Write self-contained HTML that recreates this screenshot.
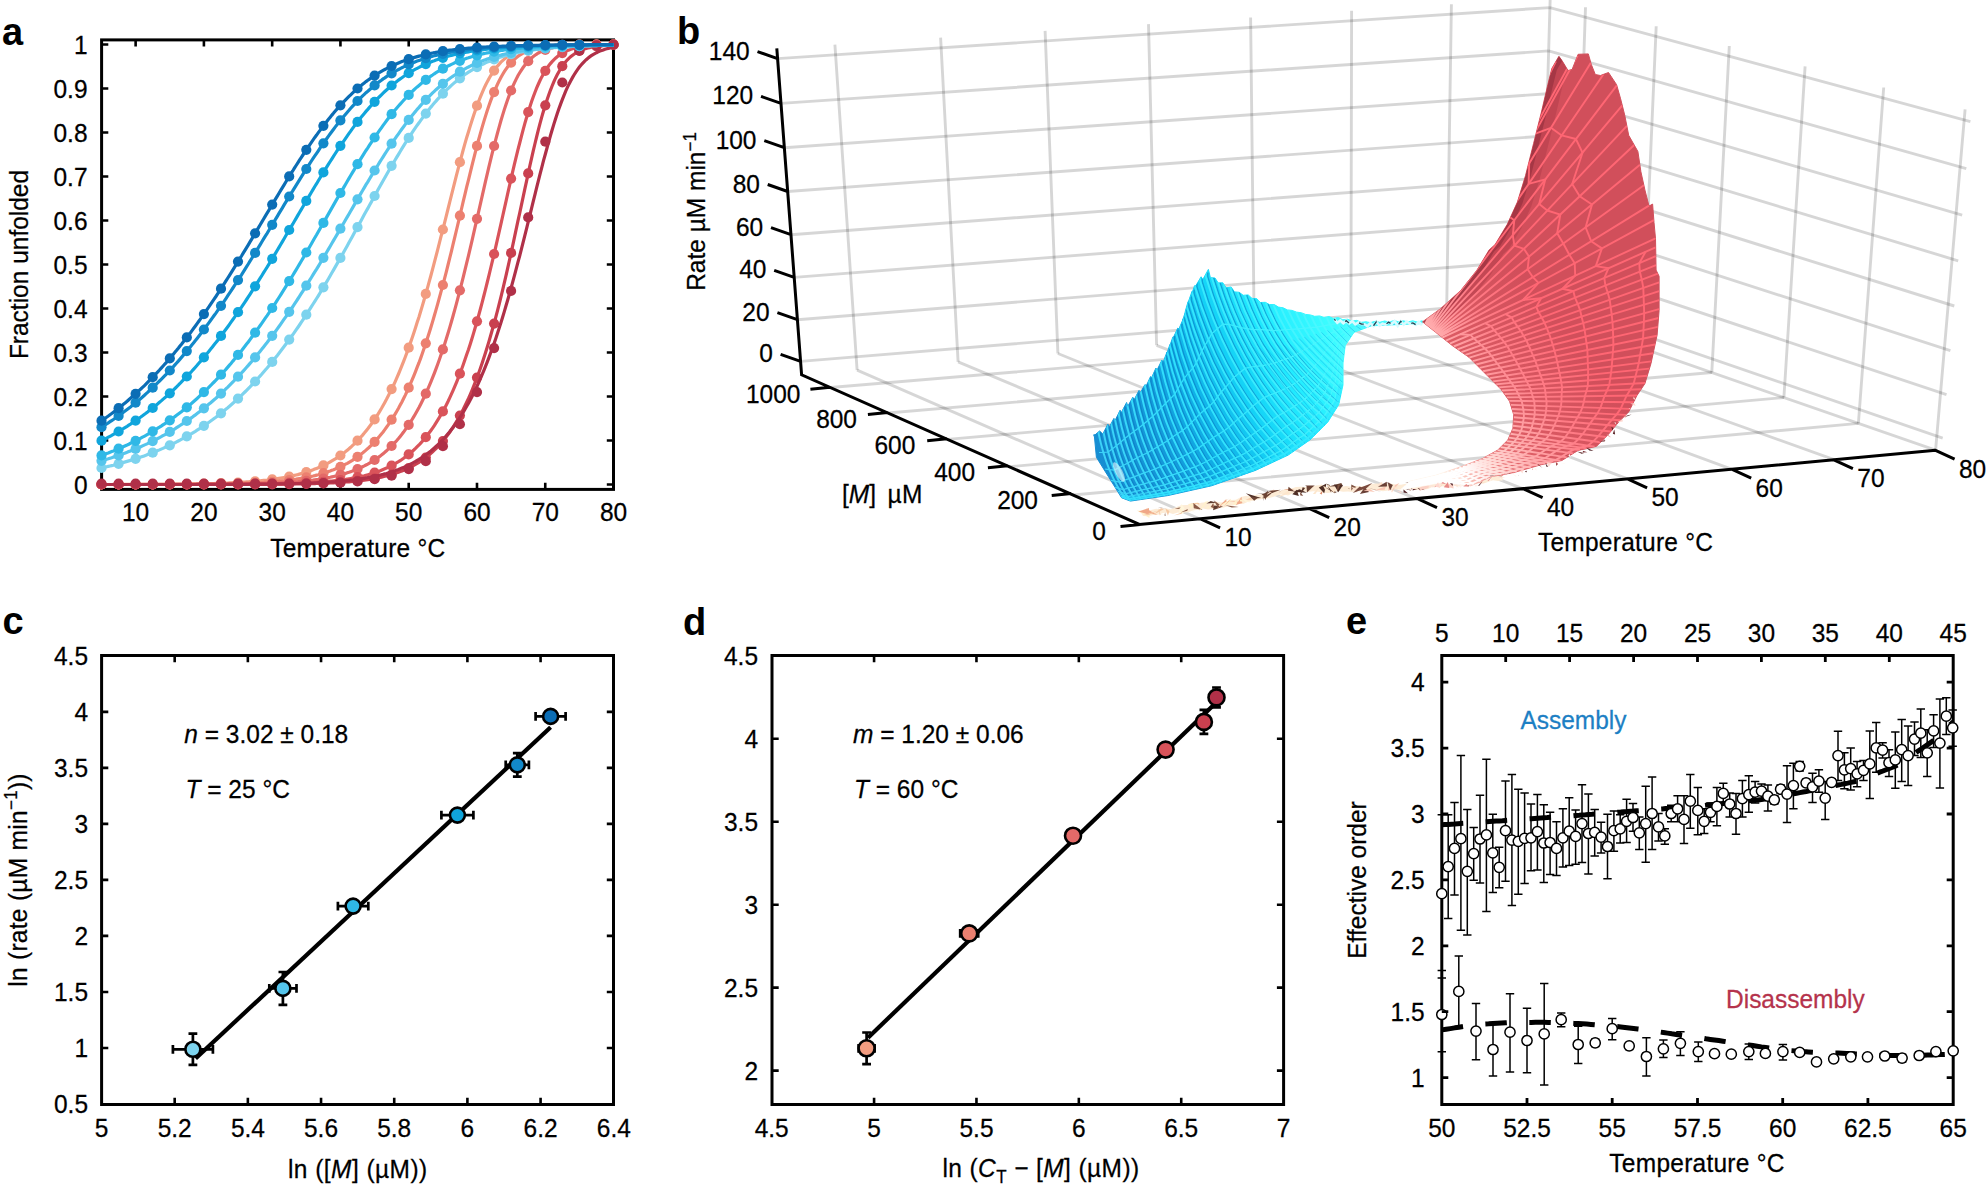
<!DOCTYPE html>
<html><head><meta charset="utf-8"><title>Figure</title>
<style>html,body{margin:0;padding:0;background:#fff}svg{display:block}text{font-family:"Liberation Sans", Arial, Helvetica, sans-serif;}</style>
</head><body>
<svg width="1987" height="1186" viewBox="0 0 1987 1186">
<rect width="1987" height="1186" fill="#fff"/>
<g id="panel-a">
<text x="2.0" y="45.2" text-anchor="start" font-size="38" font-weight="bold" fill="#000" >a</text>
<rect x="101.6" y="39.9" width="511.9" height="449.5" fill="none" stroke="#000" stroke-width="3.0"/>
<path d="M135.63,489.4v-6.7M135.63,39.9v6.7M203.91,489.4v-6.7M203.91,39.9v6.7M272.18,489.4v-6.7M272.18,39.9v6.7M340.44,489.4v-6.7M340.44,39.9v6.7M408.71,489.4v-6.7M408.71,39.9v6.7M476.99,489.4v-6.7M476.99,39.9v6.7M545.25,489.4v-6.7M545.25,39.9v6.7M613.52,489.4v-6.7M613.52,39.9v6.7M101.6,484.50h6.7M613.5,484.50h-6.7M101.6,440.50h6.7M613.5,440.50h-6.7M101.6,396.50h6.7M613.5,396.50h-6.7M101.6,352.50h6.7M613.5,352.50h-6.7M101.6,308.50h6.7M613.5,308.50h-6.7M101.6,264.50h6.7M613.5,264.50h-6.7M101.6,220.50h6.7M613.5,220.50h-6.7M101.6,176.50h6.7M613.5,176.50h-6.7M101.6,132.50h6.7M613.5,132.50h-6.7M101.6,88.50h6.7M613.5,88.50h-6.7M101.6,44.50h6.7M613.5,44.50h-6.7" stroke="#000" stroke-width="2.6" fill="none"/>
<clipPath id="clipa"><rect x="89.6" y="37.9" width="535.9" height="453.5"/></clipPath><g clip-path="url(#clipa)">
<path d="M101.5,484.5 L103.2,484.5 L104.9,484.5 L106.6,484.5 L108.3,484.5 L110.0,484.5 L111.7,484.5 L113.4,484.4 L115.2,484.4 L116.9,484.4 L118.6,484.4 L120.3,484.4 L122.0,484.4 L123.7,484.4 L125.4,484.4 L127.1,484.4 L128.8,484.4 L130.5,484.4 L132.2,484.4 L133.9,484.4 L135.6,484.4 L137.3,484.4 L139.0,484.4 L140.8,484.4 L142.5,484.4 L144.2,484.4 L145.9,484.4 L147.6,484.4 L149.3,484.3 L151.0,484.3 L152.7,484.3 L154.4,484.3 L156.1,484.3 L157.8,484.3 L159.5,484.3 L161.2,484.3 L162.9,484.3 L164.6,484.3 L166.4,484.2 L168.1,484.2 L169.8,484.2 L171.5,484.2 L173.2,484.2 L174.9,484.2 L176.6,484.1 L178.3,484.1 L180.0,484.1 L181.7,484.1 L183.4,484.1 L185.1,484.0 L186.8,484.0 L188.5,484.0 L190.3,484.0 L192.0,483.9 L193.7,483.9 L195.4,483.9 L197.1,483.9 L198.8,483.8 L200.5,483.8 L202.2,483.8 L203.9,483.7 L205.6,483.7 L207.3,483.6 L209.0,483.6 L210.7,483.6 L212.4,483.5 L214.1,483.5 L215.9,483.4 L217.6,483.4 L219.3,483.3 L221.0,483.2 L222.7,483.2 L224.4,483.1 L226.1,483.0 L227.8,483.0 L229.5,482.9 L231.2,482.8 L232.9,482.7 L234.6,482.7 L236.3,482.6 L238.0,482.5 L239.7,482.4 L241.5,482.3 L243.2,482.2 L244.9,482.1 L246.6,481.9 L248.3,481.8 L250.0,481.7 L251.7,481.6 L253.4,481.4 L255.1,481.3 L256.8,481.1 L258.5,481.0 L260.2,480.8 L261.9,480.6 L263.6,480.4 L265.3,480.3 L267.1,480.1 L268.8,479.8 L270.5,479.6 L272.2,479.4 L273.9,479.2 L275.6,478.9 L277.3,478.7 L279.0,478.4 L280.7,478.1 L282.4,477.8 L284.1,477.5 L285.8,477.2 L287.5,476.9 L289.2,476.5 L290.9,476.2 L292.7,475.8 L294.4,475.4 L296.1,475.0 L297.8,474.6 L299.5,474.1 L301.2,473.6 L302.9,473.2 L304.6,472.6 L306.3,472.1 L308.0,471.6 L309.7,471.0 L311.4,470.4 L313.1,469.8 L314.8,469.1 L316.6,468.4 L318.3,467.7 L320.0,467.0 L321.7,466.2 L323.4,465.4 L325.1,464.6 L326.8,463.7 L328.5,462.9 L330.2,461.9 L331.9,460.9 L333.6,459.9 L335.3,458.9 L337.0,457.8 L338.7,456.6 L340.4,455.5 L342.2,454.2 L343.9,452.9 L345.6,451.6 L347.3,450.2 L349.0,448.8 L350.7,447.3 L352.4,445.7 L354.1,444.1 L355.8,442.5 L357.5,440.7 L359.2,438.9 L360.9,437.0 L362.6,435.1 L364.3,433.1 L366.0,431.0 L367.8,428.8 L369.5,426.6 L371.2,424.3 L372.9,421.9 L374.6,419.4 L376.3,416.8 L378.0,414.1 L379.7,411.3 L381.4,408.5 L383.1,405.5 L384.8,402.4 L386.5,399.3 L388.2,396.0 L389.9,392.6 L391.6,389.1 L393.4,385.5 L395.1,381.8 L396.8,377.9 L398.5,374.0 L400.2,369.9 L401.9,365.7 L403.6,361.4 L405.3,357.0 L407.0,352.4 L408.7,347.7 L410.4,342.9 L412.1,337.9 L413.8,332.9 L415.5,327.7 L417.2,322.3 L419.0,316.9 L420.7,311.3 L422.4,305.6 L424.1,299.8 L425.8,293.9 L427.5,287.9 L429.2,281.7 L430.9,275.5 L432.6,269.1 L434.3,262.7 L436.0,256.2 L437.7,249.6 L439.4,242.9 L441.1,236.2 L442.9,229.5 L444.6,222.7 L446.3,215.9 L448.0,209.0 L449.7,202.2 L451.4,195.4 L453.1,188.6 L454.8,181.9 L456.5,175.2 L458.2,168.7 L459.9,162.2 L461.6,155.8 L463.3,149.5 L465.0,143.4 L466.7,137.5 L468.5,131.7 L470.2,126.1 L471.9,120.7 L473.6,115.5 L475.3,110.5 L477.0,105.7 L478.7,101.2 L480.4,96.9 L482.1,92.8 L483.8,88.9 L485.5,85.3 L487.2,81.9 L488.9,78.8 L490.6,75.8 L492.3,73.1 L494.1,70.6 L495.8,68.2 L497.5,66.1 L499.2,64.1 L500.9,62.2 L502.6,60.6 L504.3,59.1 L506.0,57.7 L507.7,56.4 L509.4,55.2 L511.1,54.2 L512.8,53.3 L514.5,52.4 L516.2,51.6 L517.9,50.9 L519.7,50.3 L521.4,49.7 L523.1,49.2 L524.8,48.7 L526.5,48.3 L528.2,47.9 L529.9,47.6 L531.6,47.3 L533.3,47.0 L535.0,46.7 L536.7,46.5 L538.4,46.3 L540.1,46.1 L541.8,46.0 L543.5,45.8 L545.3,45.7 L547.0,45.6 L548.7,45.5 L550.4,45.4 L552.1,45.3 L553.8,45.2 L555.5,45.1 L557.2,45.1 L558.9,45.0 L560.6,45.0 L562.3,44.9 L564.0,44.9 L565.7,44.8 L567.4,44.8 L569.1,44.8 L570.9,44.7 L572.6,44.7 L574.3,44.7 L576.0,44.7 L577.7,44.7 L579.4,44.6 L581.1,44.6 L582.8,44.6 L584.5,44.6 L586.2,44.6 L587.9,44.6 L589.6,44.6 L591.3,44.6 L593.0,44.6 L594.8,44.6 L596.5,44.6 L598.2,44.5 L599.9,44.5 L601.6,44.5 L603.3,44.5 L605.0,44.5 L606.7,44.5 L608.4,44.5 L610.1,44.5 L611.8,44.5 L613.5,44.5" fill="none" stroke="#f29c80" stroke-width="3.2"/>
<g fill="#f29c80"><circle cx="101.5" cy="484.5" r="5.1"/><circle cx="118.6" cy="484.4" r="5.1"/><circle cx="135.6" cy="484.4" r="5.1"/><circle cx="152.7" cy="484.3" r="5.1"/><circle cx="169.8" cy="484.2" r="5.1"/><circle cx="186.8" cy="484.0" r="5.1"/><circle cx="203.9" cy="483.7" r="5.1"/><circle cx="221.0" cy="483.2" r="5.1"/><circle cx="238.0" cy="482.5" r="5.1"/><circle cx="255.1" cy="481.3" r="5.1"/><circle cx="272.2" cy="479.4" r="5.1"/><circle cx="289.2" cy="476.5" r="5.1"/><circle cx="306.3" cy="472.1" r="5.1"/><circle cx="323.4" cy="465.4" r="5.1"/><circle cx="340.4" cy="455.5" r="5.1"/><circle cx="357.5" cy="440.7" r="5.1"/><circle cx="374.6" cy="419.4" r="5.1"/><circle cx="391.6" cy="389.1" r="5.1"/><circle cx="408.7" cy="347.7" r="5.1"/><circle cx="425.8" cy="293.9" r="5.1"/><circle cx="442.9" cy="229.5" r="5.1"/><circle cx="459.9" cy="162.2" r="5.1"/><circle cx="477.0" cy="105.7" r="5.1"/><circle cx="494.1" cy="70.6" r="5.1"/><circle cx="511.1" cy="54.2" r="5.1"/><circle cx="528.2" cy="47.9" r="5.1"/><circle cx="545.3" cy="45.7" r="5.1"/><circle cx="562.3" cy="44.9" r="5.1"/><circle cx="579.4" cy="44.6" r="5.1"/><circle cx="596.5" cy="44.6" r="5.1"/><circle cx="613.5" cy="44.5" r="5.1"/></g>
<path d="M101.5,484.5 L103.2,484.5 L104.9,484.5 L106.6,484.5 L108.3,484.5 L110.0,484.5 L111.7,484.5 L113.4,484.5 L115.2,484.5 L116.9,484.5 L118.6,484.5 L120.3,484.5 L122.0,484.5 L123.7,484.5 L125.4,484.5 L127.1,484.5 L128.8,484.5 L130.5,484.5 L132.2,484.5 L133.9,484.5 L135.6,484.5 L137.3,484.5 L139.0,484.5 L140.8,484.4 L142.5,484.4 L144.2,484.4 L145.9,484.4 L147.6,484.4 L149.3,484.4 L151.0,484.4 L152.7,484.4 L154.4,484.4 L156.1,484.4 L157.8,484.4 L159.5,484.4 L161.2,484.4 L162.9,484.4 L164.6,484.4 L166.4,484.4 L168.1,484.4 L169.8,484.4 L171.5,484.4 L173.2,484.4 L174.9,484.4 L176.6,484.3 L178.3,484.3 L180.0,484.3 L181.7,484.3 L183.4,484.3 L185.1,484.3 L186.8,484.3 L188.5,484.3 L190.3,484.3 L192.0,484.2 L193.7,484.2 L195.4,484.2 L197.1,484.2 L198.8,484.2 L200.5,484.2 L202.2,484.2 L203.9,484.1 L205.6,484.1 L207.3,484.1 L209.0,484.1 L210.7,484.0 L212.4,484.0 L214.1,484.0 L215.9,484.0 L217.6,483.9 L219.3,483.9 L221.0,483.9 L222.7,483.9 L224.4,483.8 L226.1,483.8 L227.8,483.7 L229.5,483.7 L231.2,483.7 L232.9,483.6 L234.6,483.6 L236.3,483.5 L238.0,483.5 L239.7,483.4 L241.5,483.4 L243.2,483.3 L244.9,483.3 L246.6,483.2 L248.3,483.1 L250.0,483.1 L251.7,483.0 L253.4,482.9 L255.1,482.8 L256.8,482.7 L258.5,482.6 L260.2,482.6 L261.9,482.5 L263.6,482.4 L265.3,482.2 L267.1,482.1 L268.8,482.0 L270.5,481.9 L272.2,481.8 L273.9,481.6 L275.6,481.5 L277.3,481.3 L279.0,481.2 L280.7,481.0 L282.4,480.8 L284.1,480.7 L285.8,480.5 L287.5,480.3 L289.2,480.1 L290.9,479.9 L292.7,479.6 L294.4,479.4 L296.1,479.2 L297.8,478.9 L299.5,478.6 L301.2,478.3 L302.9,478.0 L304.6,477.7 L306.3,477.4 L308.0,477.1 L309.7,476.7 L311.4,476.3 L313.1,476.0 L314.8,475.6 L316.6,475.1 L318.3,474.7 L320.0,474.2 L321.7,473.7 L323.4,473.2 L325.1,472.7 L326.8,472.2 L328.5,471.6 L330.2,471.0 L331.9,470.3 L333.6,469.7 L335.3,469.0 L337.0,468.3 L338.7,467.5 L340.4,466.8 L342.2,465.9 L343.9,465.1 L345.6,464.2 L347.3,463.3 L349.0,462.3 L350.7,461.3 L352.4,460.3 L354.1,459.2 L355.8,458.0 L357.5,456.8 L359.2,455.6 L360.9,454.3 L362.6,453.0 L364.3,451.6 L366.0,450.1 L367.8,448.6 L369.5,447.0 L371.2,445.4 L372.9,443.7 L374.6,441.9 L376.3,440.0 L378.0,438.1 L379.7,436.1 L381.4,434.0 L383.1,431.9 L384.8,429.6 L386.5,427.3 L388.2,424.9 L389.9,422.3 L391.6,419.7 L393.4,417.0 L395.1,414.2 L396.8,411.3 L398.5,408.3 L400.2,405.1 L401.9,401.9 L403.6,398.5 L405.3,395.1 L407.0,391.5 L408.7,387.7 L410.4,383.9 L412.1,379.9 L413.8,375.8 L415.5,371.6 L417.2,367.2 L419.0,362.7 L420.7,358.1 L422.4,353.3 L424.1,348.3 L425.8,343.3 L427.5,338.1 L429.2,332.7 L430.9,327.2 L432.6,321.6 L434.3,315.8 L436.0,309.9 L437.7,303.9 L439.4,297.7 L441.1,291.4 L442.9,285.0 L444.6,278.4 L446.3,271.8 L448.0,265.0 L449.7,258.2 L451.4,251.3 L453.1,244.2 L454.8,237.2 L456.5,230.0 L458.2,222.9 L459.9,215.7 L461.6,208.5 L463.3,201.2 L465.0,194.1 L466.7,186.9 L468.5,179.8 L470.2,172.8 L471.9,165.9 L473.6,159.1 L475.3,152.4 L477.0,145.9 L478.7,139.5 L480.4,133.3 L482.1,127.4 L483.8,121.6 L485.5,116.1 L487.2,110.8 L488.9,105.7 L490.6,100.9 L492.3,96.4 L494.1,92.1 L495.8,88.1 L497.5,84.3 L499.2,80.8 L500.9,77.5 L502.6,74.5 L504.3,71.7 L506.0,69.2 L507.7,66.8 L509.4,64.6 L511.1,62.7 L512.8,60.9 L514.5,59.2 L516.2,57.7 L517.9,56.4 L519.7,55.2 L521.4,54.1 L523.1,53.1 L524.8,52.2 L526.5,51.4 L528.2,50.7 L529.9,50.0 L531.6,49.4 L533.3,48.9 L535.0,48.5 L536.7,48.0 L538.4,47.7 L540.1,47.3 L541.8,47.0 L543.5,46.8 L545.3,46.5 L547.0,46.3 L548.7,46.1 L550.4,45.9 L552.1,45.8 L553.8,45.7 L555.5,45.5 L557.2,45.4 L558.9,45.3 L560.6,45.2 L562.3,45.2 L564.0,45.1 L565.7,45.0 L567.4,45.0 L569.1,44.9 L570.9,44.9 L572.6,44.8 L574.3,44.8 L576.0,44.8 L577.7,44.7 L579.4,44.7 L581.1,44.7 L582.8,44.7 L584.5,44.7 L586.2,44.6 L587.9,44.6 L589.6,44.6 L591.3,44.6 L593.0,44.6 L594.8,44.6 L596.5,44.6 L598.2,44.6 L599.9,44.6 L601.6,44.6 L603.3,44.5 L605.0,44.5 L606.7,44.5 L608.4,44.5 L610.1,44.5 L611.8,44.5 L613.5,44.5" fill="none" stroke="#ec8070" stroke-width="3.2"/>
<g fill="#ec8070"><circle cx="101.5" cy="484.5" r="5.1"/><circle cx="118.6" cy="484.5" r="5.1"/><circle cx="135.6" cy="484.5" r="5.1"/><circle cx="152.7" cy="484.4" r="5.1"/><circle cx="169.8" cy="484.4" r="5.1"/><circle cx="186.8" cy="484.3" r="5.1"/><circle cx="203.9" cy="484.1" r="5.1"/><circle cx="221.0" cy="483.9" r="5.1"/><circle cx="238.0" cy="483.5" r="5.1"/><circle cx="255.1" cy="482.8" r="5.1"/><circle cx="272.2" cy="481.8" r="5.1"/><circle cx="289.2" cy="480.1" r="5.1"/><circle cx="306.3" cy="477.4" r="5.1"/><circle cx="323.4" cy="473.2" r="5.1"/><circle cx="340.4" cy="466.8" r="5.1"/><circle cx="357.5" cy="456.8" r="5.1"/><circle cx="374.6" cy="441.9" r="5.1"/><circle cx="391.6" cy="419.7" r="5.1"/><circle cx="408.7" cy="387.7" r="5.1"/><circle cx="425.8" cy="343.3" r="5.1"/><circle cx="442.9" cy="285.0" r="5.1"/><circle cx="459.9" cy="215.7" r="5.1"/><circle cx="477.0" cy="145.9" r="5.1"/><circle cx="494.1" cy="92.1" r="5.1"/><circle cx="511.1" cy="62.7" r="5.1"/><circle cx="528.2" cy="50.7" r="5.1"/><circle cx="545.3" cy="46.5" r="5.1"/><circle cx="562.3" cy="45.2" r="5.1"/><circle cx="579.4" cy="44.7" r="5.1"/><circle cx="596.5" cy="44.6" r="5.1"/><circle cx="613.5" cy="44.5" r="5.1"/></g>
<path d="M101.5,484.5 L103.2,484.5 L104.9,484.5 L106.6,484.5 L108.3,484.5 L110.0,484.5 L111.7,484.5 L113.4,484.5 L115.2,484.5 L116.9,484.5 L118.6,484.5 L120.3,484.5 L122.0,484.5 L123.7,484.5 L125.4,484.5 L127.1,484.5 L128.8,484.5 L130.5,484.5 L132.2,484.5 L133.9,484.5 L135.6,484.5 L137.3,484.5 L139.0,484.5 L140.8,484.5 L142.5,484.5 L144.2,484.5 L145.9,484.5 L147.6,484.5 L149.3,484.5 L151.0,484.5 L152.7,484.5 L154.4,484.5 L156.1,484.5 L157.8,484.5 L159.5,484.5 L161.2,484.5 L162.9,484.5 L164.6,484.5 L166.4,484.5 L168.1,484.5 L169.8,484.4 L171.5,484.4 L173.2,484.4 L174.9,484.4 L176.6,484.4 L178.3,484.4 L180.0,484.4 L181.7,484.4 L183.4,484.4 L185.1,484.4 L186.8,484.4 L188.5,484.4 L190.3,484.4 L192.0,484.4 L193.7,484.4 L195.4,484.4 L197.1,484.4 L198.8,484.4 L200.5,484.4 L202.2,484.3 L203.9,484.3 L205.6,484.3 L207.3,484.3 L209.0,484.3 L210.7,484.3 L212.4,484.3 L214.1,484.3 L215.9,484.3 L217.6,484.3 L219.3,484.2 L221.0,484.2 L222.7,484.2 L224.4,484.2 L226.1,484.2 L227.8,484.2 L229.5,484.1 L231.2,484.1 L232.9,484.1 L234.6,484.1 L236.3,484.1 L238.0,484.0 L239.7,484.0 L241.5,484.0 L243.2,484.0 L244.9,483.9 L246.6,483.9 L248.3,483.9 L250.0,483.8 L251.7,483.8 L253.4,483.7 L255.1,483.7 L256.8,483.7 L258.5,483.6 L260.2,483.6 L261.9,483.5 L263.6,483.5 L265.3,483.4 L267.1,483.4 L268.8,483.3 L270.5,483.2 L272.2,483.2 L273.9,483.1 L275.6,483.0 L277.3,483.0 L279.0,482.9 L280.7,482.8 L282.4,482.7 L284.1,482.6 L285.8,482.5 L287.5,482.4 L289.2,482.3 L290.9,482.2 L292.7,482.1 L294.4,481.9 L296.1,481.8 L297.8,481.7 L299.5,481.5 L301.2,481.4 L302.9,481.2 L304.6,481.0 L306.3,480.9 L308.0,480.7 L309.7,480.5 L311.4,480.3 L313.1,480.1 L314.8,479.8 L316.6,479.6 L318.3,479.4 L320.0,479.1 L321.7,478.8 L323.4,478.6 L325.1,478.3 L326.8,477.9 L328.5,477.6 L330.2,477.3 L331.9,476.9 L333.6,476.5 L335.3,476.2 L337.0,475.7 L338.7,475.3 L340.4,474.9 L342.2,474.4 L343.9,473.9 L345.6,473.4 L347.3,472.8 L349.0,472.3 L350.7,471.7 L352.4,471.1 L354.1,470.4 L355.8,469.8 L357.5,469.0 L359.2,468.3 L360.9,467.5 L362.6,466.7 L364.3,465.9 L366.0,465.0 L367.8,464.1 L369.5,463.1 L371.2,462.1 L372.9,461.0 L374.6,460.0 L376.3,458.8 L378.0,457.6 L379.7,456.4 L381.4,455.1 L383.1,453.7 L384.8,452.3 L386.5,450.8 L388.2,449.2 L389.9,447.6 L391.6,446.0 L393.4,444.2 L395.1,442.4 L396.8,440.5 L398.5,438.5 L400.2,436.4 L401.9,434.3 L403.6,432.1 L405.3,429.7 L407.0,427.3 L408.7,424.8 L410.4,422.2 L412.1,419.5 L413.8,416.7 L415.5,413.7 L417.2,410.7 L419.0,407.5 L420.7,404.2 L422.4,400.8 L424.1,397.3 L425.8,393.7 L427.5,389.9 L429.2,385.9 L430.9,381.9 L432.6,377.7 L434.3,373.3 L436.0,368.9 L437.7,364.2 L439.4,359.5 L441.1,354.5 L442.9,349.4 L444.6,344.2 L446.3,338.8 L448.0,333.3 L449.7,327.6 L451.4,321.7 L453.1,315.8 L454.8,309.6 L456.5,303.3 L458.2,296.9 L459.9,290.3 L461.6,283.6 L463.3,276.8 L465.0,269.9 L466.7,262.8 L468.5,255.6 L470.2,248.4 L471.9,241.1 L473.6,233.7 L475.3,226.2 L477.0,218.8 L478.7,211.3 L480.4,203.8 L482.1,196.3 L483.8,188.8 L485.5,181.4 L487.2,174.1 L488.9,166.9 L490.6,159.8 L492.3,152.8 L494.1,146.0 L495.8,139.4 L497.5,133.0 L499.2,126.8 L500.9,120.8 L502.6,115.1 L504.3,109.6 L506.0,104.4 L507.7,99.5 L509.4,94.9 L511.1,90.5 L512.8,86.4 L514.5,82.6 L516.2,79.1 L517.9,75.8 L519.7,72.8 L521.4,70.1 L523.1,67.5 L524.8,65.2 L526.5,63.1 L528.2,61.2 L529.9,59.5 L531.6,57.9 L533.3,56.5 L535.0,55.2 L536.7,54.1 L538.4,53.0 L540.1,52.1 L541.8,51.3 L543.5,50.5 L545.3,49.9 L547.0,49.3 L548.7,48.8 L550.4,48.3 L552.1,47.9 L553.8,47.5 L555.5,47.2 L557.2,46.9 L558.9,46.6 L560.6,46.4 L562.3,46.2 L564.0,46.0 L565.7,45.8 L567.4,45.7 L569.1,45.5 L570.9,45.4 L572.6,45.3 L574.3,45.2 L576.0,45.2 L577.7,45.1 L579.4,45.0 L581.1,45.0 L582.8,44.9 L584.5,44.9 L586.2,44.8 L587.9,44.8 L589.6,44.8 L591.3,44.7 L593.0,44.7 L594.8,44.7 L596.5,44.7 L598.2,44.6 L599.9,44.6 L601.6,44.6 L603.3,44.6 L605.0,44.6 L606.7,44.6 L608.4,44.6 L610.1,44.6 L611.8,44.6 L613.5,44.6" fill="none" stroke="#e36a68" stroke-width="3.2"/>
<g fill="#e36a68"><circle cx="101.5" cy="484.5" r="5.1"/><circle cx="118.6" cy="484.5" r="5.1"/><circle cx="135.6" cy="484.5" r="5.1"/><circle cx="152.7" cy="484.5" r="5.1"/><circle cx="169.8" cy="484.4" r="5.1"/><circle cx="186.8" cy="484.4" r="5.1"/><circle cx="203.9" cy="484.3" r="5.1"/><circle cx="221.0" cy="484.2" r="5.1"/><circle cx="238.0" cy="484.0" r="5.1"/><circle cx="255.1" cy="483.7" r="5.1"/><circle cx="272.2" cy="483.2" r="5.1"/><circle cx="289.2" cy="482.3" r="5.1"/><circle cx="306.3" cy="480.9" r="5.1"/><circle cx="323.4" cy="478.6" r="5.1"/><circle cx="340.4" cy="474.9" r="5.1"/><circle cx="357.5" cy="469.0" r="5.1"/><circle cx="374.6" cy="460.0" r="5.1"/><circle cx="391.6" cy="446.0" r="5.1"/><circle cx="408.7" cy="424.8" r="5.1"/><circle cx="425.8" cy="393.7" r="5.1"/><circle cx="442.9" cy="349.4" r="5.1"/><circle cx="459.9" cy="290.3" r="5.1"/><circle cx="477.0" cy="218.8" r="5.1"/><circle cx="494.1" cy="146.0" r="5.1"/><circle cx="511.1" cy="90.5" r="5.1"/><circle cx="528.2" cy="61.2" r="5.1"/><circle cx="545.3" cy="49.9" r="5.1"/><circle cx="562.3" cy="46.2" r="5.1"/><circle cx="579.4" cy="45.0" r="5.1"/><circle cx="596.5" cy="44.7" r="5.1"/><circle cx="613.5" cy="44.6" r="5.1"/></g>
<path d="M101.5,484.5 L103.2,484.5 L104.9,484.5 L106.6,484.5 L108.3,484.5 L110.0,484.5 L111.7,484.5 L113.4,484.5 L115.2,484.5 L116.9,484.5 L118.6,484.5 L120.3,484.5 L122.0,484.5 L123.7,484.5 L125.4,484.5 L127.1,484.5 L128.8,484.5 L130.5,484.5 L132.2,484.5 L133.9,484.5 L135.6,484.5 L137.3,484.5 L139.0,484.5 L140.8,484.5 L142.5,484.5 L144.2,484.5 L145.9,484.5 L147.6,484.5 L149.3,484.5 L151.0,484.5 L152.7,484.5 L154.4,484.5 L156.1,484.5 L157.8,484.5 L159.5,484.5 L161.2,484.5 L162.9,484.5 L164.6,484.5 L166.4,484.5 L168.1,484.5 L169.8,484.5 L171.5,484.5 L173.2,484.5 L174.9,484.5 L176.6,484.5 L178.3,484.5 L180.0,484.5 L181.7,484.5 L183.4,484.5 L185.1,484.5 L186.8,484.5 L188.5,484.5 L190.3,484.5 L192.0,484.5 L193.7,484.5 L195.4,484.5 L197.1,484.5 L198.8,484.4 L200.5,484.4 L202.2,484.4 L203.9,484.4 L205.6,484.4 L207.3,484.4 L209.0,484.4 L210.7,484.4 L212.4,484.4 L214.1,484.4 L215.9,484.4 L217.6,484.4 L219.3,484.4 L221.0,484.4 L222.7,484.4 L224.4,484.4 L226.1,484.4 L227.8,484.4 L229.5,484.4 L231.2,484.3 L232.9,484.3 L234.6,484.3 L236.3,484.3 L238.0,484.3 L239.7,484.3 L241.5,484.3 L243.2,484.3 L244.9,484.3 L246.6,484.2 L248.3,484.2 L250.0,484.2 L251.7,484.2 L253.4,484.2 L255.1,484.2 L256.8,484.2 L258.5,484.1 L260.2,484.1 L261.9,484.1 L263.6,484.1 L265.3,484.0 L267.1,484.0 L268.8,484.0 L270.5,484.0 L272.2,483.9 L273.9,483.9 L275.6,483.9 L277.3,483.8 L279.0,483.8 L280.7,483.8 L282.4,483.7 L284.1,483.7 L285.8,483.6 L287.5,483.6 L289.2,483.5 L290.9,483.5 L292.7,483.4 L294.4,483.4 L296.1,483.3 L297.8,483.3 L299.5,483.2 L301.2,483.1 L302.9,483.0 L304.6,483.0 L306.3,482.9 L308.0,482.8 L309.7,482.7 L311.4,482.6 L313.1,482.5 L314.8,482.4 L316.6,482.3 L318.3,482.2 L320.0,482.1 L321.7,482.0 L323.4,481.8 L325.1,481.7 L326.8,481.5 L328.5,481.4 L330.2,481.2 L331.9,481.1 L333.6,480.9 L335.3,480.7 L337.0,480.5 L338.7,480.3 L340.4,480.1 L342.2,479.8 L343.9,479.6 L345.6,479.4 L347.3,479.1 L349.0,478.8 L350.7,478.5 L352.4,478.2 L354.1,477.9 L355.8,477.6 L357.5,477.2 L359.2,476.9 L360.9,476.5 L362.6,476.1 L364.3,475.7 L366.0,475.2 L367.8,474.8 L369.5,474.3 L371.2,473.8 L372.9,473.3 L374.6,472.7 L376.3,472.1 L378.0,471.5 L379.7,470.9 L381.4,470.2 L383.1,469.5 L384.8,468.8 L386.5,468.1 L388.2,467.3 L389.9,466.4 L391.6,465.6 L393.4,464.7 L395.1,463.7 L396.8,462.7 L398.5,461.7 L400.2,460.6 L401.9,459.5 L403.6,458.3 L405.3,457.0 L407.0,455.7 L408.7,454.4 L410.4,453.0 L412.1,451.5 L413.8,450.0 L415.5,448.4 L417.2,446.7 L419.0,445.0 L420.7,443.1 L422.4,441.2 L424.1,439.3 L425.8,437.2 L427.5,435.1 L429.2,432.8 L430.9,430.5 L432.6,428.1 L434.3,425.6 L436.0,422.9 L437.7,420.2 L439.4,417.4 L441.1,414.4 L442.9,411.4 L444.6,408.2 L446.3,404.9 L448.0,401.5 L449.7,397.9 L451.4,394.2 L453.1,390.4 L454.8,386.4 L456.5,382.3 L458.2,378.1 L459.9,373.7 L461.6,369.2 L463.3,364.5 L465.0,359.6 L466.7,354.6 L468.5,349.5 L470.2,344.2 L471.9,338.7 L473.6,333.1 L475.3,327.3 L477.0,321.3 L478.7,315.2 L480.4,309.0 L482.1,302.6 L483.8,296.0 L485.5,289.4 L487.2,282.5 L488.9,275.6 L490.6,268.5 L492.3,261.3 L494.1,254.0 L495.8,246.7 L497.5,239.2 L499.2,231.7 L500.9,224.1 L502.6,216.5 L504.3,208.9 L506.0,201.3 L507.7,193.7 L509.4,186.1 L511.1,178.6 L512.8,171.2 L514.5,163.9 L516.2,156.8 L517.9,149.8 L519.7,143.0 L521.4,136.3 L523.1,129.9 L524.8,123.7 L526.5,117.8 L528.2,112.1 L529.9,106.7 L531.6,101.6 L533.3,96.7 L535.0,92.2 L536.7,87.9 L538.4,84.0 L540.1,80.3 L541.8,76.9 L543.5,73.7 L545.3,70.8 L547.0,68.2 L548.7,65.8 L550.4,63.6 L552.1,61.6 L553.8,59.8 L555.5,58.2 L557.2,56.7 L558.9,55.4 L560.6,54.2 L562.3,53.1 L564.0,52.2 L565.7,51.3 L567.4,50.6 L569.1,49.9 L570.9,49.3 L572.6,48.8 L574.3,48.3 L576.0,47.9 L577.7,47.5 L579.4,47.2 L581.1,46.9 L582.8,46.6 L584.5,46.4 L586.2,46.1 L587.9,46.0 L589.6,45.8 L591.3,45.7 L593.0,45.5 L594.8,45.4 L596.5,45.3 L598.2,45.2 L599.9,45.1 L601.6,45.1 L603.3,45.0 L605.0,44.9 L606.7,44.9 L608.4,44.9 L610.1,44.8 L611.8,44.8 L613.5,44.7" fill="none" stroke="#d9535a" stroke-width="3.2"/>
<g fill="#d9535a"><circle cx="101.5" cy="484.5" r="5.1"/><circle cx="118.6" cy="484.5" r="5.1"/><circle cx="135.6" cy="484.5" r="5.1"/><circle cx="152.7" cy="484.5" r="5.1"/><circle cx="169.8" cy="484.5" r="5.1"/><circle cx="186.8" cy="484.5" r="5.1"/><circle cx="203.9" cy="484.4" r="5.1"/><circle cx="221.0" cy="484.4" r="5.1"/><circle cx="238.0" cy="484.3" r="5.1"/><circle cx="255.1" cy="484.2" r="5.1"/><circle cx="272.2" cy="483.9" r="5.1"/><circle cx="289.2" cy="483.5" r="5.1"/><circle cx="306.3" cy="482.9" r="5.1"/><circle cx="323.4" cy="481.8" r="5.1"/><circle cx="340.4" cy="480.1" r="5.1"/><circle cx="357.5" cy="477.2" r="5.1"/><circle cx="374.6" cy="472.7" r="5.1"/><circle cx="391.6" cy="465.6" r="5.1"/><circle cx="408.7" cy="454.4" r="5.1"/><circle cx="425.8" cy="437.2" r="5.1"/><circle cx="442.9" cy="411.4" r="5.1"/><circle cx="459.9" cy="373.7" r="5.1"/><circle cx="477.0" cy="321.3" r="5.1"/><circle cx="494.1" cy="254.0" r="5.1"/><circle cx="511.1" cy="178.6" r="5.1"/><circle cx="528.2" cy="112.1" r="5.1"/><circle cx="545.3" cy="70.8" r="5.1"/><circle cx="562.3" cy="53.1" r="5.1"/><circle cx="579.4" cy="47.2" r="5.1"/><circle cx="596.5" cy="45.3" r="5.1"/><circle cx="613.5" cy="44.7" r="5.1"/></g>
<path d="M101.5,484.5 L103.2,484.5 L104.9,484.5 L106.6,484.5 L108.3,484.5 L110.0,484.5 L111.7,484.5 L113.4,484.5 L115.2,484.5 L116.9,484.5 L118.6,484.5 L120.3,484.5 L122.0,484.5 L123.7,484.5 L125.4,484.5 L127.1,484.5 L128.8,484.5 L130.5,484.5 L132.2,484.5 L133.9,484.5 L135.6,484.5 L137.3,484.5 L139.0,484.5 L140.8,484.5 L142.5,484.5 L144.2,484.5 L145.9,484.5 L147.6,484.5 L149.3,484.5 L151.0,484.5 L152.7,484.5 L154.4,484.5 L156.1,484.5 L157.8,484.5 L159.5,484.5 L161.2,484.5 L162.9,484.5 L164.6,484.5 L166.4,484.5 L168.1,484.5 L169.8,484.5 L171.5,484.5 L173.2,484.5 L174.9,484.5 L176.6,484.5 L178.3,484.5 L180.0,484.5 L181.7,484.5 L183.4,484.5 L185.1,484.5 L186.8,484.5 L188.5,484.5 L190.3,484.5 L192.0,484.5 L193.7,484.5 L195.4,484.5 L197.1,484.5 L198.8,484.5 L200.5,484.5 L202.2,484.5 L203.9,484.5 L205.6,484.5 L207.3,484.5 L209.0,484.5 L210.7,484.5 L212.4,484.5 L214.1,484.5 L215.9,484.5 L217.6,484.5 L219.3,484.5 L221.0,484.5 L222.7,484.5 L224.4,484.5 L226.1,484.5 L227.8,484.4 L229.5,484.4 L231.2,484.4 L232.9,484.4 L234.6,484.4 L236.3,484.4 L238.0,484.4 L239.7,484.4 L241.5,484.4 L243.2,484.4 L244.9,484.4 L246.6,484.4 L248.3,484.4 L250.0,484.4 L251.7,484.4 L253.4,484.4 L255.1,484.4 L256.8,484.4 L258.5,484.4 L260.2,484.3 L261.9,484.3 L263.6,484.3 L265.3,484.3 L267.1,484.3 L268.8,484.3 L270.5,484.3 L272.2,484.3 L273.9,484.3 L275.6,484.2 L277.3,484.2 L279.0,484.2 L280.7,484.2 L282.4,484.2 L284.1,484.2 L285.8,484.1 L287.5,484.1 L289.2,484.1 L290.9,484.1 L292.7,484.0 L294.4,484.0 L296.1,484.0 L297.8,484.0 L299.5,483.9 L301.2,483.9 L302.9,483.9 L304.6,483.8 L306.3,483.8 L308.0,483.7 L309.7,483.7 L311.4,483.7 L313.1,483.6 L314.8,483.6 L316.6,483.5 L318.3,483.5 L320.0,483.4 L321.7,483.3 L323.4,483.3 L325.1,483.2 L326.8,483.1 L328.5,483.1 L330.2,483.0 L331.9,482.9 L333.6,482.8 L335.3,482.7 L337.0,482.6 L338.7,482.5 L340.4,482.4 L342.2,482.3 L343.9,482.2 L345.6,482.0 L347.3,481.9 L349.0,481.8 L350.7,481.6 L352.4,481.4 L354.1,481.3 L355.8,481.1 L357.5,480.9 L359.2,480.7 L360.9,480.5 L362.6,480.3 L364.3,480.1 L366.0,479.9 L367.8,479.6 L369.5,479.4 L371.2,479.1 L372.9,478.8 L374.6,478.5 L376.3,478.2 L378.0,477.8 L379.7,477.5 L381.4,477.1 L383.1,476.7 L384.8,476.3 L386.5,475.9 L388.2,475.4 L389.9,475.0 L391.6,474.5 L393.4,474.0 L395.1,473.4 L396.8,472.8 L398.5,472.2 L400.2,471.6 L401.9,471.0 L403.6,470.3 L405.3,469.5 L407.0,468.8 L408.7,468.0 L410.4,467.1 L412.1,466.3 L413.8,465.3 L415.5,464.4 L417.2,463.4 L419.0,462.3 L420.7,461.2 L422.4,460.0 L424.1,458.8 L425.8,457.5 L427.5,456.2 L429.2,454.8 L430.9,453.3 L432.6,451.8 L434.3,450.2 L436.0,448.5 L437.7,446.8 L439.4,445.0 L441.1,443.1 L442.9,441.1 L444.6,439.0 L446.3,436.8 L448.0,434.5 L449.7,432.2 L451.4,429.7 L453.1,427.1 L454.8,424.4 L456.5,421.6 L458.2,418.7 L459.9,415.6 L461.6,412.5 L463.3,409.2 L465.0,405.7 L466.7,402.2 L468.5,398.5 L470.2,394.6 L471.9,390.6 L473.6,386.4 L475.3,382.1 L477.0,377.6 L478.7,373.0 L480.4,368.2 L482.1,363.2 L483.8,358.1 L485.5,352.8 L487.2,347.3 L488.9,341.6 L490.6,335.8 L492.3,329.8 L494.1,323.6 L495.8,317.2 L497.5,310.7 L499.2,304.0 L500.9,297.1 L502.6,290.1 L504.3,282.9 L506.0,275.6 L507.7,268.1 L509.4,260.5 L511.1,252.9 L512.8,245.1 L514.5,237.2 L516.2,229.2 L517.9,221.2 L519.7,213.2 L521.4,205.2 L523.1,197.2 L524.8,189.2 L526.5,181.3 L528.2,173.4 L529.9,165.7 L531.6,158.1 L533.3,150.7 L535.0,143.5 L536.7,136.5 L538.4,129.7 L540.1,123.2 L541.8,116.9 L543.5,111.0 L545.3,105.3 L547.0,100.0 L548.7,95.0 L550.4,90.3 L552.1,86.0 L553.8,81.9 L555.5,78.2 L557.2,74.8 L558.9,71.7 L560.6,68.8 L562.3,66.2 L564.0,63.9 L565.7,61.7 L567.4,59.8 L569.1,58.1 L570.9,56.6 L572.6,55.2 L574.3,54.0 L576.0,52.9 L577.7,51.9 L579.4,51.0 L581.1,50.3 L582.8,49.6 L584.5,49.0 L586.2,48.5 L587.9,48.0 L589.6,47.6 L591.3,47.2 L593.0,46.9 L594.8,46.6 L596.5,46.4 L598.2,46.1 L599.9,45.9 L601.6,45.8 L603.3,45.6 L605.0,45.5 L606.7,45.4 L608.4,45.3 L610.1,45.2 L611.8,45.1 L613.5,45.0" fill="none" stroke="#c9404f" stroke-width="3.2"/>
<g fill="#c9404f"><circle cx="101.5" cy="484.5" r="5.1"/><circle cx="118.6" cy="484.5" r="5.1"/><circle cx="135.6" cy="484.5" r="5.1"/><circle cx="152.7" cy="484.5" r="5.1"/><circle cx="169.8" cy="484.5" r="5.1"/><circle cx="186.8" cy="484.5" r="5.1"/><circle cx="203.9" cy="484.5" r="5.1"/><circle cx="221.0" cy="484.5" r="5.1"/><circle cx="238.0" cy="484.4" r="5.1"/><circle cx="255.1" cy="484.4" r="5.1"/><circle cx="272.2" cy="484.3" r="5.1"/><circle cx="289.2" cy="484.1" r="5.1"/><circle cx="306.3" cy="483.8" r="5.1"/><circle cx="323.4" cy="483.3" r="5.1"/><circle cx="340.4" cy="482.4" r="5.1"/><circle cx="357.5" cy="480.9" r="5.1"/><circle cx="374.6" cy="478.5" r="5.1"/><circle cx="391.6" cy="474.5" r="5.1"/><circle cx="408.7" cy="468.0" r="5.1"/><circle cx="425.8" cy="457.5" r="5.1"/><circle cx="442.9" cy="441.1" r="5.1"/><circle cx="459.9" cy="415.6" r="5.1"/><circle cx="477.0" cy="377.6" r="5.1"/><circle cx="494.1" cy="323.6" r="5.1"/><circle cx="511.1" cy="252.9" r="5.1"/><circle cx="528.2" cy="173.4" r="5.1"/><circle cx="545.3" cy="105.3" r="5.1"/><circle cx="562.3" cy="66.2" r="5.1"/><circle cx="579.4" cy="51.0" r="5.1"/><circle cx="596.5" cy="46.4" r="5.1"/><circle cx="613.5" cy="45.0" r="5.1"/></g>
<path d="M101.5,484.5 L103.2,484.5 L104.9,484.5 L106.6,484.5 L108.3,484.5 L110.0,484.5 L111.7,484.5 L113.4,484.5 L115.2,484.5 L116.9,484.5 L118.6,484.5 L120.3,484.5 L122.0,484.5 L123.7,484.5 L125.4,484.5 L127.1,484.5 L128.8,484.5 L130.5,484.5 L132.2,484.5 L133.9,484.5 L135.6,484.5 L137.3,484.5 L139.0,484.5 L140.8,484.5 L142.5,484.5 L144.2,484.5 L145.9,484.5 L147.6,484.5 L149.3,484.5 L151.0,484.5 L152.7,484.5 L154.4,484.5 L156.1,484.5 L157.8,484.5 L159.5,484.5 L161.2,484.5 L162.9,484.5 L164.6,484.5 L166.4,484.5 L168.1,484.5 L169.8,484.5 L171.5,484.5 L173.2,484.5 L174.9,484.5 L176.6,484.5 L178.3,484.5 L180.0,484.5 L181.7,484.5 L183.4,484.5 L185.1,484.5 L186.8,484.5 L188.5,484.5 L190.3,484.5 L192.0,484.5 L193.7,484.5 L195.4,484.5 L197.1,484.4 L198.8,484.4 L200.5,484.4 L202.2,484.4 L203.9,484.4 L205.6,484.4 L207.3,484.4 L209.0,484.4 L210.7,484.4 L212.4,484.4 L214.1,484.4 L215.9,484.4 L217.6,484.4 L219.3,484.4 L221.0,484.4 L222.7,484.4 L224.4,484.4 L226.1,484.4 L227.8,484.4 L229.5,484.4 L231.2,484.4 L232.9,484.3 L234.6,484.3 L236.3,484.3 L238.0,484.3 L239.7,484.3 L241.5,484.3 L243.2,484.3 L244.9,484.3 L246.6,484.3 L248.3,484.3 L250.0,484.2 L251.7,484.2 L253.4,484.2 L255.1,484.2 L256.8,484.2 L258.5,484.2 L260.2,484.2 L261.9,484.1 L263.6,484.1 L265.3,484.1 L267.1,484.1 L268.8,484.1 L270.5,484.0 L272.2,484.0 L273.9,484.0 L275.6,484.0 L277.3,483.9 L279.0,483.9 L280.7,483.9 L282.4,483.9 L284.1,483.8 L285.8,483.8 L287.5,483.8 L289.2,483.7 L290.9,483.7 L292.7,483.6 L294.4,483.6 L296.1,483.5 L297.8,483.5 L299.5,483.5 L301.2,483.4 L302.9,483.3 L304.6,483.3 L306.3,483.2 L308.0,483.2 L309.7,483.1 L311.4,483.0 L313.1,483.0 L314.8,482.9 L316.6,482.8 L318.3,482.7 L320.0,482.6 L321.7,482.5 L323.4,482.5 L325.1,482.4 L326.8,482.3 L328.5,482.1 L330.2,482.0 L331.9,481.9 L333.6,481.8 L335.3,481.7 L337.0,481.5 L338.7,481.4 L340.4,481.2 L342.2,481.1 L343.9,480.9 L345.6,480.8 L347.3,480.6 L349.0,480.4 L350.7,480.2 L352.4,480.0 L354.1,479.8 L355.8,479.6 L357.5,479.3 L359.2,479.1 L360.9,478.9 L362.6,478.6 L364.3,478.3 L366.0,478.0 L367.8,477.7 L369.5,477.4 L371.2,477.1 L372.9,476.8 L374.6,476.4 L376.3,476.0 L378.0,475.7 L379.7,475.3 L381.4,474.8 L383.1,474.4 L384.8,473.9 L386.5,473.5 L388.2,473.0 L389.9,472.4 L391.6,471.9 L393.4,471.3 L395.1,470.8 L396.8,470.1 L398.5,469.5 L400.2,468.8 L401.9,468.1 L403.6,467.4 L405.3,466.7 L407.0,465.9 L408.7,465.1 L410.4,464.2 L412.1,463.3 L413.8,462.4 L415.5,461.5 L417.2,460.5 L419.0,459.4 L420.7,458.3 L422.4,457.2 L424.1,456.0 L425.8,454.8 L427.5,453.5 L429.2,452.2 L430.9,450.9 L432.6,449.4 L434.3,448.0 L436.0,446.4 L437.7,444.8 L439.4,443.2 L441.1,441.4 L442.9,439.6 L444.6,437.8 L446.3,435.8 L448.0,433.8 L449.7,431.8 L451.4,429.6 L453.1,427.4 L454.8,425.1 L456.5,422.6 L458.2,420.2 L459.9,417.6 L461.6,414.9 L463.3,412.1 L465.0,409.3 L466.7,406.3 L468.5,403.2 L470.2,400.1 L471.9,396.8 L473.6,393.4 L475.3,389.9 L477.0,386.3 L478.7,382.6 L480.4,378.7 L482.1,374.7 L483.8,370.6 L485.5,366.4 L487.2,362.1 L488.9,357.6 L490.6,353.0 L492.3,348.3 L494.1,343.4 L495.8,338.5 L497.5,333.3 L499.2,328.1 L500.9,322.7 L502.6,317.2 L504.3,311.6 L506.0,305.8 L507.7,300.0 L509.4,294.0 L511.1,287.9 L512.8,281.7 L514.5,275.3 L516.2,268.9 L517.9,262.4 L519.7,255.8 L521.4,249.1 L523.1,242.4 L524.8,235.6 L526.5,228.8 L528.2,221.9 L529.9,215.0 L531.6,208.1 L533.3,201.2 L535.0,194.3 L536.7,187.4 L538.4,180.6 L540.1,173.9 L541.8,167.3 L543.5,160.7 L545.3,154.3 L547.0,148.0 L548.7,141.8 L550.4,135.8 L552.1,130.0 L553.8,124.4 L555.5,119.0 L557.2,113.8 L558.9,108.8 L560.6,104.1 L562.3,99.6 L564.0,95.3 L565.7,91.2 L567.4,87.4 L569.1,83.9 L570.9,80.5 L572.6,77.4 L574.3,74.5 L576.0,71.8 L577.7,69.4 L579.4,67.1 L581.1,65.0 L582.8,63.1 L584.5,61.3 L586.2,59.7 L587.9,58.2 L589.6,56.9 L591.3,55.7 L593.0,54.6 L594.8,53.6 L596.5,52.7 L598.2,51.9 L599.9,51.1 L601.6,50.5 L603.3,49.9 L605.0,49.3 L606.7,48.8 L608.4,48.4 L610.1,48.0 L611.8,47.6 L613.5,47.3" fill="none" stroke="#b03048" stroke-width="3.2"/>
<g fill="#b03048"><circle cx="101.5" cy="483.6" r="5.1"/><circle cx="118.6" cy="483.6" r="5.1"/><circle cx="135.6" cy="483.6" r="5.1"/><circle cx="152.7" cy="483.6" r="5.1"/><circle cx="169.8" cy="483.6" r="5.1"/><circle cx="186.8" cy="483.6" r="5.1"/><circle cx="203.9" cy="483.6" r="5.1"/><circle cx="221.0" cy="483.6" r="5.1"/><circle cx="238.0" cy="483.6" r="5.1"/><circle cx="255.1" cy="483.6" r="5.1"/><circle cx="272.2" cy="483.6" r="5.1"/><circle cx="289.2" cy="483.6" r="5.1"/><circle cx="306.3" cy="483.6" r="5.1"/><circle cx="323.4" cy="483.2" r="5.1"/><circle cx="340.4" cy="482.7" r="5.1"/><circle cx="357.5" cy="481.4" r="5.1"/><circle cx="374.6" cy="479.2" r="5.1"/><circle cx="391.6" cy="475.7" r="5.1"/><circle cx="408.7" cy="469.1" r="5.1"/><circle cx="425.8" cy="461.2" r="5.1"/><circle cx="442.9" cy="446.2" r="5.1"/><circle cx="459.9" cy="424.2" r="5.1"/><circle cx="477.0" cy="392.1" r="5.1"/><circle cx="494.1" cy="348.1" r="5.1"/><circle cx="511.1" cy="290.9" r="5.1"/><circle cx="528.2" cy="217.4" r="5.1"/><circle cx="545.3" cy="141.7" r="5.1"/><circle cx="562.3" cy="82.5" r="5.1"/><circle cx="579.4" cy="50.7" r="5.1"/><circle cx="596.5" cy="45.4" r="5.1"/><circle cx="613.5" cy="44.5" r="5.1"/></g>
<path d="M101.5,468.0 L103.2,467.6 L104.9,467.2 L106.6,466.8 L108.3,466.4 L110.0,466.0 L111.7,465.6 L113.4,465.2 L115.2,464.7 L116.9,464.3 L118.6,463.8 L120.3,463.4 L122.0,462.9 L123.7,462.4 L125.4,461.9 L127.1,461.4 L128.8,460.9 L130.5,460.4 L132.2,459.9 L133.9,459.3 L135.6,458.8 L137.3,458.2 L139.0,457.7 L140.8,457.1 L142.5,456.5 L144.2,455.9 L145.9,455.3 L147.6,454.6 L149.3,454.0 L151.0,453.3 L152.7,452.7 L154.4,452.0 L156.1,451.3 L157.8,450.6 L159.5,449.9 L161.2,449.1 L162.9,448.4 L164.6,447.6 L166.4,446.8 L168.1,446.1 L169.8,445.3 L171.5,444.4 L173.2,443.6 L174.9,442.8 L176.6,441.9 L178.3,441.0 L180.0,440.1 L181.7,439.2 L183.4,438.3 L185.1,437.3 L186.8,436.4 L188.5,435.4 L190.3,434.4 L192.0,433.4 L193.7,432.3 L195.4,431.3 L197.1,430.2 L198.8,429.1 L200.5,428.0 L202.2,426.9 L203.9,425.8 L205.6,424.6 L207.3,423.4 L209.0,422.2 L210.7,421.0 L212.4,419.8 L214.1,418.5 L215.9,417.2 L217.6,415.9 L219.3,414.6 L221.0,413.3 L222.7,411.9 L224.4,410.5 L226.1,409.1 L227.8,407.7 L229.5,406.2 L231.2,404.7 L232.9,403.2 L234.6,401.7 L236.3,400.1 L238.0,398.6 L239.7,397.0 L241.5,395.4 L243.2,393.7 L244.9,392.0 L246.6,390.3 L248.3,388.6 L250.0,386.9 L251.7,385.1 L253.4,383.3 L255.1,381.5 L256.8,379.7 L258.5,377.8 L260.2,375.9 L261.9,374.0 L263.6,372.0 L265.3,370.0 L267.1,368.0 L268.8,366.0 L270.5,364.0 L272.2,361.9 L273.9,359.8 L275.6,357.6 L277.3,355.5 L279.0,353.3 L280.7,351.1 L282.4,348.8 L284.1,346.6 L285.8,344.3 L287.5,341.9 L289.2,339.6 L290.9,337.2 L292.7,334.8 L294.4,332.4 L296.1,329.9 L297.8,327.5 L299.5,325.0 L301.2,322.4 L302.9,319.9 L304.6,317.3 L306.3,314.7 L308.0,312.0 L309.7,309.4 L311.4,306.7 L313.1,304.0 L314.8,301.3 L316.6,298.5 L318.3,295.8 L320.0,293.0 L321.7,290.1 L323.4,287.3 L325.1,284.4 L326.8,281.6 L328.5,278.7 L330.2,275.7 L331.9,272.8 L333.6,269.9 L335.3,266.9 L337.0,263.9 L338.7,260.9 L340.4,257.9 L342.2,254.9 L343.9,251.8 L345.6,248.8 L347.3,245.7 L349.0,242.6 L350.7,239.5 L352.4,236.4 L354.1,233.3 L355.8,230.2 L357.5,227.1 L359.2,224.0 L360.9,220.9 L362.6,217.8 L364.3,214.6 L366.0,211.5 L367.8,208.4 L369.5,205.3 L371.2,202.2 L372.9,199.1 L374.6,196.0 L376.3,192.9 L378.0,189.8 L379.7,186.8 L381.4,183.7 L383.1,180.7 L384.8,177.7 L386.5,174.7 L388.2,171.7 L389.9,168.7 L391.6,165.8 L393.4,162.9 L395.1,160.0 L396.8,157.1 L398.5,154.3 L400.2,151.5 L401.9,148.7 L403.6,145.9 L405.3,143.2 L407.0,140.5 L408.7,137.9 L410.4,135.3 L412.1,132.7 L413.8,130.2 L415.5,127.7 L417.2,125.2 L419.0,122.8 L420.7,120.4 L422.4,118.1 L424.1,115.8 L425.8,113.6 L427.5,111.4 L429.2,109.2 L430.9,107.1 L432.6,105.1 L434.3,103.0 L436.0,101.1 L437.7,99.1 L439.4,97.3 L441.1,95.4 L442.9,93.7 L444.6,91.9 L446.3,90.2 L448.0,88.6 L449.7,87.0 L451.4,85.4 L453.1,83.9 L454.8,82.4 L456.5,81.0 L458.2,79.6 L459.9,78.3 L461.6,77.0 L463.3,75.8 L465.0,74.5 L466.7,73.4 L468.5,72.2 L470.2,71.1 L471.9,70.1 L473.6,69.1 L475.3,68.1 L477.0,67.1 L478.7,66.2 L480.4,65.3 L482.1,64.5 L483.8,63.7 L485.5,62.9 L487.2,62.1 L488.9,61.4 L490.6,60.7 L492.3,60.0 L494.1,59.4 L495.8,58.7 L497.5,58.2 L499.2,57.6 L500.9,57.0 L502.6,56.5 L504.3,56.0 L506.0,55.5 L507.7,55.0 L509.4,54.6 L511.1,54.2 L512.8,53.7 L514.5,53.4 L516.2,53.0 L517.9,52.6 L519.7,52.3 L521.4,51.9 L523.1,51.6 L524.8,51.3 L526.5,51.0 L528.2,50.7 L529.9,50.5 L531.6,50.2 L533.3,50.0 L535.0,49.7 L536.7,49.5 L538.4,49.3 L540.1,49.1 L541.8,48.9 L543.5,48.7 L545.3,48.5 L547.0,48.3 L548.7,48.2 L550.4,48.0 L552.1,47.9 L553.8,47.7 L555.5,47.6 L557.2,47.5 L558.9,47.3 L560.6,47.2 L562.3,47.1 L564.0,47.0 L565.7,46.9 L567.4,46.8 L569.1,46.7 L570.9,46.6 L572.6,46.5 L574.3,46.4 L576.0,46.3 L577.7,46.3 L579.4,46.2 L581.1,46.1 L582.8,46.0 L584.5,46.0 L586.2,45.9 L587.9,45.9 L589.6,45.8 L591.3,45.7 L593.0,45.7 L594.8,45.6 L596.5,45.6 L598.2,45.5 L599.9,45.5 L601.6,45.5 L603.3,45.4 L605.0,45.4 L606.7,45.3 L608.4,45.3 L610.1,45.3 L611.8,45.2 L613.5,45.2" fill="none" stroke="#7dd3ee" stroke-width="3.2"/>
<g fill="#7dd3ee"><circle cx="101.5" cy="468.0" r="5.1"/><circle cx="118.6" cy="463.8" r="5.1"/><circle cx="135.6" cy="458.8" r="5.1"/><circle cx="152.7" cy="452.7" r="5.1"/><circle cx="169.8" cy="445.3" r="5.1"/><circle cx="186.8" cy="436.4" r="5.1"/><circle cx="203.9" cy="425.8" r="5.1"/><circle cx="221.0" cy="413.3" r="5.1"/><circle cx="238.0" cy="398.6" r="5.1"/><circle cx="255.1" cy="381.5" r="5.1"/><circle cx="272.2" cy="361.9" r="5.1"/><circle cx="289.2" cy="339.6" r="5.1"/><circle cx="306.3" cy="314.7" r="5.1"/><circle cx="323.4" cy="287.3" r="5.1"/><circle cx="340.4" cy="257.9" r="5.1"/><circle cx="357.5" cy="227.1" r="5.1"/><circle cx="374.6" cy="196.0" r="5.1"/><circle cx="391.6" cy="165.8" r="5.1"/><circle cx="408.7" cy="137.9" r="5.1"/><circle cx="425.8" cy="113.6" r="5.1"/><circle cx="442.9" cy="93.7" r="5.1"/><circle cx="459.9" cy="78.3" r="5.1"/><circle cx="477.0" cy="67.1" r="5.1"/><circle cx="494.1" cy="59.4" r="5.1"/><circle cx="511.1" cy="54.2" r="5.1"/><circle cx="528.2" cy="50.7" r="5.1"/><circle cx="545.3" cy="48.5" r="5.1"/><circle cx="562.3" cy="47.1" r="5.1"/><circle cx="579.4" cy="46.2" r="5.1"/></g>
<path d="M101.5,460.8 L103.2,460.3 L104.9,459.8 L106.6,459.3 L108.3,458.8 L110.0,458.2 L111.7,457.7 L113.4,457.1 L115.2,456.6 L116.9,456.0 L118.6,455.4 L120.3,454.8 L122.0,454.2 L123.7,453.5 L125.4,452.9 L127.1,452.3 L128.8,451.6 L130.5,450.9 L132.2,450.3 L133.9,449.6 L135.6,448.9 L137.3,448.1 L139.0,447.4 L140.8,446.7 L142.5,445.9 L144.2,445.1 L145.9,444.4 L147.6,443.6 L149.3,442.7 L151.0,441.9 L152.7,441.1 L154.4,440.2 L156.1,439.4 L157.8,438.5 L159.5,437.6 L161.2,436.7 L162.9,435.7 L164.6,434.8 L166.4,433.8 L168.1,432.8 L169.8,431.9 L171.5,430.8 L173.2,429.8 L174.9,428.8 L176.6,427.7 L178.3,426.6 L180.0,425.5 L181.7,424.4 L183.4,423.3 L185.1,422.2 L186.8,421.0 L188.5,419.8 L190.3,418.6 L192.0,417.4 L193.7,416.1 L195.4,414.9 L197.1,413.6 L198.8,412.3 L200.5,411.0 L202.2,409.7 L203.9,408.3 L205.6,406.9 L207.3,405.5 L209.0,404.1 L210.7,402.7 L212.4,401.2 L214.1,399.7 L215.9,398.2 L217.6,396.7 L219.3,395.1 L221.0,393.6 L222.7,392.0 L224.4,390.4 L226.1,388.7 L227.8,387.1 L229.5,385.4 L231.2,383.7 L232.9,382.0 L234.6,380.2 L236.3,378.5 L238.0,376.7 L239.7,374.8 L241.5,373.0 L243.2,371.1 L244.9,369.2 L246.6,367.3 L248.3,365.4 L250.0,363.4 L251.7,361.5 L253.4,359.4 L255.1,357.4 L256.8,355.4 L258.5,353.3 L260.2,351.2 L261.9,349.1 L263.6,346.9 L265.3,344.7 L267.1,342.5 L268.8,340.3 L270.5,338.1 L272.2,335.8 L273.9,333.5 L275.6,331.2 L277.3,328.8 L279.0,326.5 L280.7,324.1 L282.4,321.7 L284.1,319.2 L285.8,316.8 L287.5,314.3 L289.2,311.8 L290.9,309.3 L292.7,306.8 L294.4,304.2 L296.1,301.6 L297.8,299.0 L299.5,296.4 L301.2,293.7 L302.9,291.1 L304.6,288.4 L306.3,285.7 L308.0,283.0 L309.7,280.2 L311.4,277.5 L313.1,274.7 L314.8,271.9 L316.6,269.1 L318.3,266.3 L320.0,263.5 L321.7,260.6 L323.4,257.8 L325.1,254.9 L326.8,252.0 L328.5,249.1 L330.2,246.2 L331.9,243.3 L333.6,240.4 L335.3,237.5 L337.0,234.6 L338.7,231.6 L340.4,228.7 L342.2,225.7 L343.9,222.8 L345.6,219.8 L347.3,216.9 L349.0,214.0 L350.7,211.0 L352.4,208.1 L354.1,205.1 L355.8,202.2 L357.5,199.3 L359.2,196.3 L360.9,193.4 L362.6,190.5 L364.3,187.6 L366.0,184.7 L367.8,181.9 L369.5,179.0 L371.2,176.2 L372.9,173.4 L374.6,170.5 L376.3,167.8 L378.0,165.0 L379.7,162.2 L381.4,159.5 L383.1,156.8 L384.8,154.2 L386.5,151.5 L388.2,148.9 L389.9,146.3 L391.6,143.7 L393.4,141.2 L395.1,138.7 L396.8,136.2 L398.5,133.8 L400.2,131.4 L401.9,129.0 L403.6,126.7 L405.3,124.4 L407.0,122.1 L408.7,119.9 L410.4,117.7 L412.1,115.5 L413.8,113.4 L415.5,111.4 L417.2,109.3 L419.0,107.4 L420.7,105.4 L422.4,103.5 L424.1,101.6 L425.8,99.8 L427.5,98.0 L429.2,96.3 L430.9,94.6 L432.6,92.9 L434.3,91.3 L436.0,89.7 L437.7,88.2 L439.4,86.7 L441.1,85.2 L442.9,83.8 L444.6,82.4 L446.3,81.1 L448.0,79.8 L449.7,78.5 L451.4,77.3 L453.1,76.1 L454.8,75.0 L456.5,73.9 L458.2,72.8 L459.9,71.7 L461.6,70.7 L463.3,69.7 L465.0,68.8 L466.7,67.9 L468.5,67.0 L470.2,66.1 L471.9,65.3 L473.6,64.5 L475.3,63.8 L477.0,63.0 L478.7,62.3 L480.4,61.6 L482.1,60.9 L483.8,60.3 L485.5,59.7 L487.2,59.1 L488.9,58.5 L490.6,58.0 L492.3,57.4 L494.1,56.9 L495.8,56.4 L497.5,55.9 L499.2,55.5 L500.9,55.1 L502.6,54.6 L504.3,54.2 L506.0,53.8 L507.7,53.5 L509.4,53.1 L511.1,52.8 L512.8,52.4 L514.5,52.1 L516.2,51.8 L517.9,51.5 L519.7,51.2 L521.4,51.0 L523.1,50.7 L524.8,50.4 L526.5,50.2 L528.2,50.0 L529.9,49.8 L531.6,49.5 L533.3,49.3 L535.0,49.1 L536.7,49.0 L538.4,48.8 L540.1,48.6 L541.8,48.4 L543.5,48.3 L545.3,48.1 L547.0,48.0 L548.7,47.8 L550.4,47.7 L552.1,47.6 L553.8,47.5 L555.5,47.3 L557.2,47.2 L558.9,47.1 L560.6,47.0 L562.3,46.9 L564.0,46.8 L565.7,46.7 L567.4,46.6 L569.1,46.6 L570.9,46.5 L572.6,46.4 L574.3,46.3 L576.0,46.2 L577.7,46.2 L579.4,46.1 L581.1,46.0 L582.8,46.0 L584.5,45.9 L586.2,45.9 L587.9,45.8 L589.6,45.8 L591.3,45.7 L593.0,45.7 L594.8,45.6 L596.5,45.6 L598.2,45.5 L599.9,45.5 L601.6,45.5 L603.3,45.4 L605.0,45.4 L606.7,45.3 L608.4,45.3 L610.1,45.3 L611.8,45.3 L613.5,45.2" fill="none" stroke="#55c5ec" stroke-width="3.2"/>
<g fill="#55c5ec"><circle cx="101.5" cy="460.8" r="5.1"/><circle cx="118.6" cy="455.4" r="5.1"/><circle cx="135.6" cy="448.9" r="5.1"/><circle cx="152.7" cy="441.1" r="5.1"/><circle cx="169.8" cy="431.9" r="5.1"/><circle cx="186.8" cy="421.0" r="5.1"/><circle cx="203.9" cy="408.3" r="5.1"/><circle cx="221.0" cy="393.6" r="5.1"/><circle cx="238.0" cy="376.7" r="5.1"/><circle cx="255.1" cy="357.4" r="5.1"/><circle cx="272.2" cy="335.8" r="5.1"/><circle cx="289.2" cy="311.8" r="5.1"/><circle cx="306.3" cy="285.7" r="5.1"/><circle cx="323.4" cy="257.8" r="5.1"/><circle cx="340.4" cy="228.7" r="5.1"/><circle cx="357.5" cy="199.3" r="5.1"/><circle cx="374.6" cy="170.5" r="5.1"/><circle cx="391.6" cy="143.7" r="5.1"/><circle cx="408.7" cy="119.9" r="5.1"/><circle cx="425.8" cy="99.8" r="5.1"/><circle cx="442.9" cy="83.8" r="5.1"/><circle cx="459.9" cy="71.7" r="5.1"/><circle cx="477.0" cy="63.0" r="5.1"/><circle cx="494.1" cy="56.9" r="5.1"/><circle cx="511.1" cy="52.8" r="5.1"/><circle cx="528.2" cy="50.0" r="5.1"/><circle cx="545.3" cy="48.1" r="5.1"/><circle cx="562.3" cy="46.9" r="5.1"/><circle cx="579.4" cy="46.1" r="5.1"/></g>
<path d="M101.5,455.4 L103.2,454.8 L104.9,454.1 L106.6,453.5 L108.3,452.9 L110.0,452.2 L111.7,451.5 L113.4,450.9 L115.2,450.2 L116.9,449.5 L118.6,448.7 L120.3,448.0 L122.0,447.3 L123.7,446.5 L125.4,445.7 L127.1,445.0 L128.8,444.2 L130.5,443.3 L132.2,442.5 L133.9,441.7 L135.6,440.8 L137.3,439.9 L139.0,439.1 L140.8,438.2 L142.5,437.2 L144.2,436.3 L145.9,435.4 L147.6,434.4 L149.3,433.4 L151.0,432.4 L152.7,431.4 L154.4,430.4 L156.1,429.3 L157.8,428.2 L159.5,427.2 L161.2,426.1 L162.9,424.9 L164.6,423.8 L166.4,422.6 L168.1,421.5 L169.8,420.3 L171.5,419.1 L173.2,417.8 L174.9,416.6 L176.6,415.3 L178.3,414.0 L180.0,412.7 L181.7,411.4 L183.4,410.0 L185.1,408.7 L186.8,407.3 L188.5,405.8 L190.3,404.4 L192.0,403.0 L193.7,401.5 L195.4,400.0 L197.1,398.5 L198.8,396.9 L200.5,395.3 L202.2,393.8 L203.9,392.1 L205.6,390.5 L207.3,388.9 L209.0,387.2 L210.7,385.5 L212.4,383.7 L214.1,382.0 L215.9,380.2 L217.6,378.4 L219.3,376.6 L221.0,374.7 L222.7,372.9 L224.4,371.0 L226.1,369.1 L227.8,367.1 L229.5,365.1 L231.2,363.2 L232.9,361.1 L234.6,359.1 L236.3,357.0 L238.0,354.9 L239.7,352.8 L241.5,350.7 L243.2,348.5 L244.9,346.3 L246.6,344.1 L248.3,341.9 L250.0,339.6 L251.7,337.3 L253.4,335.0 L255.1,332.7 L256.8,330.3 L258.5,327.9 L260.2,325.5 L261.9,323.1 L263.6,320.6 L265.3,318.1 L267.1,315.6 L268.8,313.1 L270.5,310.6 L272.2,308.0 L273.9,305.4 L275.6,302.8 L277.3,300.2 L279.0,297.5 L280.7,294.8 L282.4,292.1 L284.1,289.4 L285.8,286.7 L287.5,283.9 L289.2,281.1 L290.9,278.4 L292.7,275.5 L294.4,272.7 L296.1,269.9 L297.8,267.0 L299.5,264.2 L301.2,261.3 L302.9,258.4 L304.6,255.5 L306.3,252.5 L308.0,249.6 L309.7,246.7 L311.4,243.7 L313.1,240.7 L314.8,237.8 L316.6,234.8 L318.3,231.8 L320.0,228.8 L321.7,225.8 L323.4,222.9 L325.1,219.9 L326.8,216.9 L328.5,213.9 L330.2,210.9 L331.9,207.9 L333.6,204.9 L335.3,201.9 L337.0,198.9 L338.7,196.0 L340.4,193.0 L342.2,190.1 L343.9,187.1 L345.6,184.2 L347.3,181.3 L349.0,178.4 L350.7,175.5 L352.4,172.6 L354.1,169.8 L355.8,167.0 L357.5,164.2 L359.2,161.4 L360.9,158.6 L362.6,155.9 L364.3,153.2 L366.0,150.5 L367.8,147.9 L369.5,145.2 L371.2,142.6 L372.9,140.1 L374.6,137.5 L376.3,135.1 L378.0,132.6 L379.7,130.2 L381.4,127.8 L383.1,125.4 L384.8,123.1 L386.5,120.8 L388.2,118.6 L389.9,116.4 L391.6,114.2 L393.4,112.1 L395.1,110.0 L396.8,108.0 L398.5,106.0 L400.2,104.1 L401.9,102.2 L403.6,100.3 L405.3,98.5 L407.0,96.7 L408.7,94.9 L410.4,93.3 L412.1,91.6 L413.8,90.0 L415.5,88.4 L417.2,86.9 L419.0,85.4 L420.7,84.0 L422.4,82.6 L424.1,81.2 L425.8,79.9 L427.5,78.6 L429.2,77.3 L430.9,76.1 L432.6,75.0 L434.3,73.8 L436.0,72.7 L437.7,71.7 L439.4,70.7 L441.1,69.7 L442.9,68.7 L444.6,67.8 L446.3,66.9 L448.0,66.0 L449.7,65.2 L451.4,64.4 L453.1,63.6 L454.8,62.8 L456.5,62.1 L458.2,61.4 L459.9,60.8 L461.6,60.1 L463.3,59.5 L465.0,58.9 L466.7,58.3 L468.5,57.8 L470.2,57.2 L471.9,56.7 L473.6,56.2 L475.3,55.8 L477.0,55.3 L478.7,54.9 L480.4,54.4 L482.1,54.0 L483.8,53.6 L485.5,53.3 L487.2,52.9 L488.9,52.6 L490.6,52.2 L492.3,51.9 L494.1,51.6 L495.8,51.3 L497.5,51.1 L499.2,50.8 L500.9,50.5 L502.6,50.3 L504.3,50.0 L506.0,49.8 L507.7,49.6 L509.4,49.4 L511.1,49.2 L512.8,49.0 L514.5,48.8 L516.2,48.6 L517.9,48.5 L519.7,48.3 L521.4,48.2 L523.1,48.0 L524.8,47.9 L526.5,47.7 L528.2,47.6 L529.9,47.5 L531.6,47.3 L533.3,47.2 L535.0,47.1 L536.7,47.0 L538.4,46.9 L540.1,46.8 L541.8,46.7 L543.5,46.6 L545.3,46.5 L547.0,46.5 L548.7,46.4 L550.4,46.3 L552.1,46.2 L553.8,46.2 L555.5,46.1 L557.2,46.0 L558.9,46.0 L560.6,45.9 L562.3,45.9 L564.0,45.8 L565.7,45.7 L567.4,45.7 L569.1,45.6 L570.9,45.6 L572.6,45.6 L574.3,45.5 L576.0,45.5 L577.7,45.4 L579.4,45.4 L581.1,45.4 L582.8,45.3 L584.5,45.3 L586.2,45.3 L587.9,45.2 L589.6,45.2 L591.3,45.2 L593.0,45.2 L594.8,45.1 L596.5,45.1 L598.2,45.1 L599.9,45.1 L601.6,45.0 L603.3,45.0 L605.0,45.0 L606.7,45.0 L608.4,45.0 L610.1,44.9 L611.8,44.9 L613.5,44.9" fill="none" stroke="#2fb8e6" stroke-width="3.2"/>
<g fill="#2fb8e6"><circle cx="101.5" cy="455.4" r="5.1"/><circle cx="118.6" cy="448.7" r="5.1"/><circle cx="135.6" cy="440.8" r="5.1"/><circle cx="152.7" cy="431.4" r="5.1"/><circle cx="169.8" cy="420.3" r="5.1"/><circle cx="186.8" cy="407.3" r="5.1"/><circle cx="203.9" cy="392.1" r="5.1"/><circle cx="221.0" cy="374.7" r="5.1"/><circle cx="238.0" cy="354.9" r="5.1"/><circle cx="255.1" cy="332.7" r="5.1"/><circle cx="272.2" cy="308.0" r="5.1"/><circle cx="289.2" cy="281.1" r="5.1"/><circle cx="306.3" cy="252.5" r="5.1"/><circle cx="323.4" cy="222.9" r="5.1"/><circle cx="340.4" cy="193.0" r="5.1"/><circle cx="357.5" cy="164.2" r="5.1"/><circle cx="374.6" cy="137.5" r="5.1"/><circle cx="391.6" cy="114.2" r="5.1"/><circle cx="408.7" cy="94.9" r="5.1"/><circle cx="425.8" cy="79.9" r="5.1"/><circle cx="442.9" cy="68.7" r="5.1"/><circle cx="459.9" cy="60.8" r="5.1"/><circle cx="477.0" cy="55.3" r="5.1"/><circle cx="494.1" cy="51.6" r="5.1"/><circle cx="511.1" cy="49.2" r="5.1"/><circle cx="528.2" cy="47.6" r="5.1"/><circle cx="545.3" cy="46.5" r="5.1"/><circle cx="562.3" cy="45.9" r="5.1"/><circle cx="579.4" cy="45.4" r="5.1"/></g>
<path d="M101.5,440.7 L103.2,439.9 L104.9,439.0 L106.6,438.1 L108.3,437.2 L110.0,436.3 L111.7,435.4 L113.4,434.4 L115.2,433.5 L116.9,432.5 L118.6,431.5 L120.3,430.5 L122.0,429.4 L123.7,428.4 L125.4,427.3 L127.1,426.3 L128.8,425.2 L130.5,424.1 L132.2,422.9 L133.9,421.8 L135.6,420.6 L137.3,419.4 L139.0,418.2 L140.8,417.0 L142.5,415.8 L144.2,414.5 L145.9,413.3 L147.6,412.0 L149.3,410.6 L151.0,409.3 L152.7,408.0 L154.4,406.6 L156.1,405.2 L157.8,403.8 L159.5,402.3 L161.2,400.9 L162.9,399.4 L164.6,397.9 L166.4,396.4 L168.1,394.9 L169.8,393.3 L171.5,391.7 L173.2,390.1 L174.9,388.5 L176.6,386.8 L178.3,385.2 L180.0,383.5 L181.7,381.7 L183.4,380.0 L185.1,378.2 L186.8,376.5 L188.5,374.7 L190.3,372.8 L192.0,371.0 L193.7,369.1 L195.4,367.2 L197.1,365.3 L198.8,363.3 L200.5,361.4 L202.2,359.4 L203.9,357.4 L205.6,355.3 L207.3,353.3 L209.0,351.2 L210.7,349.1 L212.4,346.9 L214.1,344.8 L215.9,342.6 L217.6,340.4 L219.3,338.2 L221.0,335.9 L222.7,333.6 L224.4,331.3 L226.1,329.0 L227.8,326.7 L229.5,324.3 L231.2,321.9 L232.9,319.5 L234.6,317.1 L236.3,314.7 L238.0,312.2 L239.7,309.7 L241.5,307.2 L243.2,304.6 L244.9,302.1 L246.6,299.5 L248.3,296.9 L250.0,294.3 L251.7,291.7 L253.4,289.0 L255.1,286.3 L256.8,283.7 L258.5,280.9 L260.2,278.2 L261.9,275.5 L263.6,272.7 L265.3,270.0 L267.1,267.2 L268.8,264.4 L270.5,261.6 L272.2,258.8 L273.9,255.9 L275.6,253.1 L277.3,250.2 L279.0,247.4 L280.7,244.5 L282.4,241.6 L284.1,238.7 L285.8,235.8 L287.5,232.9 L289.2,230.0 L290.9,227.1 L292.7,224.2 L294.4,221.3 L296.1,218.4 L297.8,215.4 L299.5,212.5 L301.2,209.6 L302.9,206.7 L304.6,203.8 L306.3,200.9 L308.0,198.0 L309.7,195.1 L311.4,192.2 L313.1,189.4 L314.8,186.5 L316.6,183.7 L318.3,180.8 L320.0,178.0 L321.7,175.2 L323.4,172.4 L325.1,169.7 L326.8,166.9 L328.5,164.2 L330.2,161.5 L331.9,158.8 L333.6,156.2 L335.3,153.5 L337.0,150.9 L338.7,148.3 L340.4,145.8 L342.2,143.2 L343.9,140.8 L345.6,138.3 L347.3,135.9 L349.0,133.4 L350.7,131.1 L352.4,128.7 L354.1,126.4 L355.8,124.2 L357.5,121.9 L359.2,119.8 L360.9,117.6 L362.6,115.5 L364.3,113.4 L366.0,111.4 L367.8,109.4 L369.5,107.4 L371.2,105.5 L372.9,103.6 L374.6,101.8 L376.3,99.9 L378.0,98.2 L379.7,96.5 L381.4,94.8 L383.1,93.1 L384.8,91.5 L386.5,90.0 L388.2,88.5 L389.9,87.0 L391.6,85.5 L393.4,84.1 L395.1,82.8 L396.8,81.4 L398.5,80.1 L400.2,78.9 L401.9,77.7 L403.6,76.5 L405.3,75.3 L407.0,74.2 L408.7,73.2 L410.4,72.1 L412.1,71.1 L413.8,70.1 L415.5,69.2 L417.2,68.3 L419.0,67.4 L420.7,66.5 L422.4,65.7 L424.1,64.9 L425.8,64.1 L427.5,63.4 L429.2,62.7 L430.9,62.0 L432.6,61.3 L434.3,60.7 L436.0,60.0 L437.7,59.4 L439.4,58.9 L441.1,58.3 L442.9,57.8 L444.6,57.3 L446.3,56.8 L448.0,56.3 L449.7,55.8 L451.4,55.4 L453.1,54.9 L454.8,54.5 L456.5,54.1 L458.2,53.8 L459.9,53.4 L461.6,53.0 L463.3,52.7 L465.0,52.4 L466.7,52.1 L468.5,51.8 L470.2,51.5 L471.9,51.2 L473.6,50.9 L475.3,50.7 L477.0,50.4 L478.7,50.2 L480.4,50.0 L482.1,49.8 L483.8,49.6 L485.5,49.4 L487.2,49.2 L488.9,49.0 L490.6,48.8 L492.3,48.6 L494.1,48.5 L495.8,48.3 L497.5,48.2 L499.2,48.0 L500.9,47.9 L502.6,47.7 L504.3,47.6 L506.0,47.5 L507.7,47.4 L509.4,47.3 L511.1,47.2 L512.8,47.1 L514.5,47.0 L516.2,46.9 L517.9,46.8 L519.7,46.7 L521.4,46.6 L523.1,46.5 L524.8,46.4 L526.5,46.4 L528.2,46.3 L529.9,46.2 L531.6,46.1 L533.3,46.1 L535.0,46.0 L536.7,46.0 L538.4,45.9 L540.1,45.9 L541.8,45.8 L543.5,45.7 L545.3,45.7 L547.0,45.7 L548.7,45.6 L550.4,45.6 L552.1,45.5 L553.8,45.5 L555.5,45.4 L557.2,45.4 L558.9,45.4 L560.6,45.3 L562.3,45.3 L564.0,45.3 L565.7,45.3 L567.4,45.2 L569.1,45.2 L570.9,45.2 L572.6,45.1 L574.3,45.1 L576.0,45.1 L577.7,45.1 L579.4,45.1 L581.1,45.0 L582.8,45.0 L584.5,45.0 L586.2,45.0 L587.9,45.0 L589.6,44.9 L591.3,44.9 L593.0,44.9 L594.8,44.9 L596.5,44.9 L598.2,44.9 L599.9,44.8 L601.6,44.8 L603.3,44.8 L605.0,44.8 L606.7,44.8 L608.4,44.8 L610.1,44.8 L611.8,44.8 L613.5,44.8" fill="none" stroke="#10a5dc" stroke-width="3.2"/>
<g fill="#10a5dc"><circle cx="101.5" cy="440.7" r="5.1"/><circle cx="118.6" cy="431.5" r="5.1"/><circle cx="135.6" cy="420.6" r="5.1"/><circle cx="152.7" cy="408.0" r="5.1"/><circle cx="169.8" cy="393.3" r="5.1"/><circle cx="186.8" cy="376.5" r="5.1"/><circle cx="203.9" cy="357.4" r="5.1"/><circle cx="221.0" cy="335.9" r="5.1"/><circle cx="238.0" cy="312.2" r="5.1"/><circle cx="255.1" cy="286.3" r="5.1"/><circle cx="272.2" cy="258.8" r="5.1"/><circle cx="289.2" cy="230.0" r="5.1"/><circle cx="306.3" cy="200.9" r="5.1"/><circle cx="323.4" cy="172.4" r="5.1"/><circle cx="340.4" cy="145.8" r="5.1"/><circle cx="357.5" cy="121.9" r="5.1"/><circle cx="374.6" cy="101.8" r="5.1"/><circle cx="391.6" cy="85.5" r="5.1"/><circle cx="408.7" cy="73.2" r="5.1"/><circle cx="425.8" cy="64.1" r="5.1"/><circle cx="442.9" cy="57.8" r="5.1"/><circle cx="459.9" cy="53.4" r="5.1"/><circle cx="477.0" cy="50.4" r="5.1"/><circle cx="494.1" cy="48.5" r="5.1"/><circle cx="511.1" cy="47.2" r="5.1"/><circle cx="528.2" cy="46.3" r="5.1"/><circle cx="545.3" cy="45.7" r="5.1"/><circle cx="562.3" cy="45.3" r="5.1"/><circle cx="579.4" cy="45.1" r="5.1"/></g>
<path d="M101.5,427.2 L103.2,426.1 L104.9,425.1 L106.6,424.0 L108.3,422.9 L110.0,421.7 L111.7,420.6 L113.4,419.5 L115.2,418.3 L116.9,417.1 L118.6,415.9 L120.3,414.6 L122.0,413.4 L123.7,412.1 L125.4,410.8 L127.1,409.5 L128.8,408.2 L130.5,406.9 L132.2,405.5 L133.9,404.1 L135.6,402.7 L137.3,401.3 L139.0,399.9 L140.8,398.4 L142.5,397.0 L144.2,395.5 L145.9,393.9 L147.6,392.4 L149.3,390.8 L151.0,389.3 L152.7,387.7 L154.4,386.0 L156.1,384.4 L157.8,382.7 L159.5,381.0 L161.2,379.3 L162.9,377.6 L164.6,375.9 L166.4,374.1 L168.1,372.3 L169.8,370.5 L171.5,368.6 L173.2,366.8 L174.9,364.9 L176.6,363.0 L178.3,361.1 L180.0,359.1 L181.7,357.1 L183.4,355.1 L185.1,353.1 L186.8,351.1 L188.5,349.0 L190.3,347.0 L192.0,344.8 L193.7,342.7 L195.4,340.6 L197.1,338.4 L198.8,336.2 L200.5,334.0 L202.2,331.8 L203.9,329.5 L205.6,327.2 L207.3,324.9 L209.0,322.6 L210.7,320.3 L212.4,317.9 L214.1,315.5 L215.9,313.1 L217.6,310.7 L219.3,308.2 L221.0,305.8 L222.7,303.3 L224.4,300.8 L226.1,298.3 L227.8,295.7 L229.5,293.2 L231.2,290.6 L232.9,288.0 L234.6,285.4 L236.3,282.8 L238.0,280.1 L239.7,277.5 L241.5,274.8 L243.2,272.1 L244.9,269.4 L246.6,266.7 L248.3,264.0 L250.0,261.2 L251.7,258.5 L253.4,255.7 L255.1,252.9 L256.8,250.1 L258.5,247.4 L260.2,244.6 L261.9,241.7 L263.6,238.9 L265.3,236.1 L267.1,233.3 L268.8,230.5 L270.5,227.6 L272.2,224.8 L273.9,222.0 L275.6,219.1 L277.3,216.3 L279.0,213.4 L280.7,210.6 L282.4,207.8 L284.1,204.9 L285.8,202.1 L287.5,199.3 L289.2,196.5 L290.9,193.7 L292.7,190.9 L294.4,188.1 L296.1,185.3 L297.8,182.6 L299.5,179.8 L301.2,177.1 L302.9,174.4 L304.6,171.7 L306.3,169.0 L308.0,166.3 L309.7,163.7 L311.4,161.0 L313.1,158.4 L314.8,155.9 L316.6,153.3 L318.3,150.8 L320.0,148.2 L321.7,145.8 L323.4,143.3 L325.1,140.9 L326.8,138.5 L328.5,136.1 L330.2,133.8 L331.9,131.5 L333.6,129.2 L335.3,126.9 L337.0,124.7 L338.7,122.6 L340.4,120.4 L342.2,118.3 L343.9,116.2 L345.6,114.2 L347.3,112.2 L349.0,110.3 L350.7,108.3 L352.4,106.4 L354.1,104.6 L355.8,102.8 L357.5,101.0 L359.2,99.3 L360.9,97.6 L362.6,95.9 L364.3,94.3 L366.0,92.7 L367.8,91.2 L369.5,89.7 L371.2,88.2 L372.9,86.8 L374.6,85.4 L376.3,84.0 L378.0,82.7 L379.7,81.4 L381.4,80.2 L383.1,78.9 L384.8,77.8 L386.5,76.6 L388.2,75.5 L389.9,74.4 L391.6,73.4 L393.4,72.3 L395.1,71.4 L396.8,70.4 L398.5,69.5 L400.2,68.6 L401.9,67.7 L403.6,66.9 L405.3,66.1 L407.0,65.3 L408.7,64.5 L410.4,63.8 L412.1,63.1 L413.8,62.4 L415.5,61.7 L417.2,61.1 L419.0,60.5 L420.7,59.9 L422.4,59.3 L424.1,58.7 L425.8,58.2 L427.5,57.7 L429.2,57.2 L430.9,56.7 L432.6,56.2 L434.3,55.8 L436.0,55.4 L437.7,55.0 L439.4,54.6 L441.1,54.2 L442.9,53.8 L444.6,53.5 L446.3,53.1 L448.0,52.8 L449.7,52.5 L451.4,52.2 L453.1,51.9 L454.8,51.6 L456.5,51.3 L458.2,51.1 L459.9,50.8 L461.6,50.6 L463.3,50.3 L465.0,50.1 L466.7,49.9 L468.5,49.7 L470.2,49.5 L471.9,49.3 L473.6,49.1 L475.3,48.9 L477.0,48.8 L478.7,48.6 L480.4,48.4 L482.1,48.3 L483.8,48.1 L485.5,48.0 L487.2,47.9 L488.9,47.7 L490.6,47.6 L492.3,47.5 L494.1,47.4 L495.8,47.3 L497.5,47.2 L499.2,47.1 L500.9,47.0 L502.6,46.9 L504.3,46.8 L506.0,46.7 L507.7,46.6 L509.4,46.5 L511.1,46.5 L512.8,46.4 L514.5,46.3 L516.2,46.3 L517.9,46.2 L519.7,46.1 L521.4,46.1 L523.1,46.0 L524.8,45.9 L526.5,45.9 L528.2,45.8 L529.9,45.8 L531.6,45.7 L533.3,45.7 L535.0,45.7 L536.7,45.6 L538.4,45.6 L540.1,45.5 L541.8,45.5 L543.5,45.5 L545.3,45.4 L547.0,45.4 L548.7,45.4 L550.4,45.3 L552.1,45.3 L553.8,45.3 L555.5,45.2 L557.2,45.2 L558.9,45.2 L560.6,45.2 L562.3,45.1 L564.0,45.1 L565.7,45.1 L567.4,45.1 L569.1,45.0 L570.9,45.0 L572.6,45.0 L574.3,45.0 L576.0,45.0 L577.7,45.0 L579.4,44.9 L581.1,44.9 L582.8,44.9 L584.5,44.9 L586.2,44.9 L587.9,44.9 L589.6,44.9 L591.3,44.8 L593.0,44.8 L594.8,44.8 L596.5,44.8 L598.2,44.8 L599.9,44.8 L601.6,44.8 L603.3,44.8 L605.0,44.8 L606.7,44.7 L608.4,44.7 L610.1,44.7 L611.8,44.7 L613.5,44.7" fill="none" stroke="#1288c9" stroke-width="3.2"/>
<g fill="#1288c9"><circle cx="101.5" cy="427.2" r="5.1"/><circle cx="118.6" cy="415.9" r="5.1"/><circle cx="135.6" cy="402.7" r="5.1"/><circle cx="152.7" cy="387.7" r="5.1"/><circle cx="169.8" cy="370.5" r="5.1"/><circle cx="186.8" cy="351.1" r="5.1"/><circle cx="203.9" cy="329.5" r="5.1"/><circle cx="221.0" cy="305.8" r="5.1"/><circle cx="238.0" cy="280.1" r="5.1"/><circle cx="255.1" cy="252.9" r="5.1"/><circle cx="272.2" cy="224.8" r="5.1"/><circle cx="289.2" cy="196.5" r="5.1"/><circle cx="306.3" cy="169.0" r="5.1"/><circle cx="323.4" cy="143.3" r="5.1"/><circle cx="340.4" cy="120.4" r="5.1"/><circle cx="357.5" cy="101.0" r="5.1"/><circle cx="374.6" cy="85.4" r="5.1"/><circle cx="391.6" cy="73.4" r="5.1"/><circle cx="408.7" cy="64.5" r="5.1"/><circle cx="425.8" cy="58.2" r="5.1"/><circle cx="442.9" cy="53.8" r="5.1"/><circle cx="459.9" cy="50.8" r="5.1"/><circle cx="477.0" cy="48.8" r="5.1"/><circle cx="494.1" cy="47.4" r="5.1"/><circle cx="511.1" cy="46.5" r="5.1"/><circle cx="528.2" cy="45.8" r="5.1"/><circle cx="545.3" cy="45.4" r="5.1"/><circle cx="562.3" cy="45.1" r="5.1"/><circle cx="579.4" cy="44.9" r="5.1"/></g>
<path d="M101.5,420.7 L103.2,419.6 L104.9,418.4 L106.6,417.2 L108.3,416.0 L110.0,414.7 L111.7,413.5 L113.4,412.2 L115.2,410.9 L116.9,409.6 L118.6,408.2 L120.3,406.9 L122.0,405.5 L123.7,404.1 L125.4,402.7 L127.1,401.3 L128.8,399.8 L130.5,398.3 L132.2,396.8 L133.9,395.3 L135.6,393.8 L137.3,392.2 L139.0,390.6 L140.8,389.0 L142.5,387.4 L144.2,385.8 L145.9,384.1 L147.6,382.4 L149.3,380.7 L151.0,379.0 L152.7,377.2 L154.4,375.4 L156.1,373.6 L157.8,371.8 L159.5,370.0 L161.2,368.1 L162.9,366.2 L164.6,364.3 L166.4,362.4 L168.1,360.4 L169.8,358.4 L171.5,356.4 L173.2,354.4 L174.9,352.3 L176.6,350.3 L178.3,348.2 L180.0,346.0 L181.7,343.9 L183.4,341.7 L185.1,339.6 L186.8,337.4 L188.5,335.1 L190.3,332.9 L192.0,330.6 L193.7,328.3 L195.4,326.0 L197.1,323.6 L198.8,321.3 L200.5,318.9 L202.2,316.5 L203.9,314.1 L205.6,311.6 L207.3,309.1 L209.0,306.7 L210.7,304.1 L212.4,301.6 L214.1,299.1 L215.9,296.5 L217.6,293.9 L219.3,291.3 L221.0,288.7 L222.7,286.1 L224.4,283.4 L226.1,280.7 L227.8,278.0 L229.5,275.3 L231.2,272.6 L232.9,269.9 L234.6,267.1 L236.3,264.4 L238.0,261.6 L239.7,258.8 L241.5,256.0 L243.2,253.2 L244.9,250.4 L246.6,247.6 L248.3,244.8 L250.0,241.9 L251.7,239.1 L253.4,236.2 L255.1,233.3 L256.8,230.5 L258.5,227.6 L260.2,224.7 L261.9,221.9 L263.6,219.0 L265.3,216.1 L267.1,213.2 L268.8,210.4 L270.5,207.5 L272.2,204.6 L273.9,201.8 L275.6,198.9 L277.3,196.1 L279.0,193.2 L280.7,190.4 L282.4,187.6 L284.1,184.8 L285.8,182.0 L287.5,179.2 L289.2,176.4 L290.9,173.7 L292.7,171.0 L294.4,168.2 L296.1,165.5 L297.8,162.9 L299.5,160.2 L301.2,157.6 L302.9,155.0 L304.6,152.4 L306.3,149.8 L308.0,147.3 L309.7,144.8 L311.4,142.3 L313.1,139.9 L314.8,137.4 L316.6,135.1 L318.3,132.7 L320.0,130.4 L321.7,128.1 L323.4,125.8 L325.1,123.6 L326.8,121.4 L328.5,119.3 L330.2,117.2 L331.9,115.1 L333.6,113.1 L335.3,111.0 L337.0,109.1 L338.7,107.2 L340.4,105.3 L342.2,103.4 L343.9,101.6 L345.6,99.8 L347.3,98.1 L349.0,96.4 L350.7,94.8 L352.4,93.2 L354.1,91.6 L355.8,90.0 L357.5,88.5 L359.2,87.1 L360.9,85.7 L362.6,84.3 L364.3,82.9 L366.0,81.6 L367.8,80.3 L369.5,79.1 L371.2,77.9 L372.9,76.7 L374.6,75.6 L376.3,74.5 L378.0,73.4 L379.7,72.4 L381.4,71.4 L383.1,70.4 L384.8,69.5 L386.5,68.6 L388.2,67.7 L389.9,66.9 L391.6,66.0 L393.4,65.2 L395.1,64.5 L396.8,63.7 L398.5,63.0 L400.2,62.3 L401.9,61.6 L403.6,61.0 L405.3,60.4 L407.0,59.8 L408.7,59.2 L410.4,58.6 L412.1,58.1 L413.8,57.6 L415.5,57.1 L417.2,56.6 L419.0,56.1 L420.7,55.7 L422.4,55.3 L424.1,54.8 L425.8,54.4 L427.5,54.1 L429.2,53.7 L430.9,53.3 L432.6,53.0 L434.3,52.7 L436.0,52.3 L437.7,52.0 L439.4,51.7 L441.1,51.5 L442.9,51.2 L444.6,50.9 L446.3,50.7 L448.0,50.4 L449.7,50.2 L451.4,50.0 L453.1,49.8 L454.8,49.6 L456.5,49.4 L458.2,49.2 L459.9,49.0 L461.6,48.8 L463.3,48.7 L465.0,48.5 L466.7,48.3 L468.5,48.2 L470.2,48.1 L471.9,47.9 L473.6,47.8 L475.3,47.7 L477.0,47.5 L478.7,47.4 L480.4,47.3 L482.1,47.2 L483.8,47.1 L485.5,47.0 L487.2,46.9 L488.9,46.8 L490.6,46.7 L492.3,46.6 L494.1,46.6 L495.8,46.5 L497.5,46.4 L499.2,46.3 L500.9,46.3 L502.6,46.2 L504.3,46.1 L506.0,46.1 L507.7,46.0 L509.4,45.9 L511.1,45.9 L512.8,45.8 L514.5,45.8 L516.2,45.7 L517.9,45.7 L519.7,45.6 L521.4,45.6 L523.1,45.6 L524.8,45.5 L526.5,45.5 L528.2,45.4 L529.9,45.4 L531.6,45.4 L533.3,45.3 L535.0,45.3 L536.7,45.3 L538.4,45.3 L540.1,45.2 L541.8,45.2 L543.5,45.2 L545.3,45.1 L547.0,45.1 L548.7,45.1 L550.4,45.1 L552.1,45.1 L553.8,45.0 L555.5,45.0 L557.2,45.0 L558.9,45.0 L560.6,45.0 L562.3,44.9 L564.0,44.9 L565.7,44.9 L567.4,44.9 L569.1,44.9 L570.9,44.9 L572.6,44.9 L574.3,44.8 L576.0,44.8 L577.7,44.8 L579.4,44.8 L581.1,44.8 L582.8,44.8 L584.5,44.8 L586.2,44.8 L587.9,44.8 L589.6,44.7 L591.3,44.7 L593.0,44.7 L594.8,44.7 L596.5,44.7 L598.2,44.7 L599.9,44.7 L601.6,44.7 L603.3,44.7 L605.0,44.7 L606.7,44.7 L608.4,44.7 L610.1,44.7 L611.8,44.7 L613.5,44.6" fill="none" stroke="#0b6db5" stroke-width="3.2"/>
<g fill="#0b6db5"><circle cx="101.5" cy="420.7" r="5.1"/><circle cx="118.6" cy="408.2" r="5.1"/><circle cx="135.6" cy="393.8" r="5.1"/><circle cx="152.7" cy="377.2" r="5.1"/><circle cx="169.8" cy="358.4" r="5.1"/><circle cx="186.8" cy="337.4" r="5.1"/><circle cx="203.9" cy="314.1" r="5.1"/><circle cx="221.0" cy="288.7" r="5.1"/><circle cx="238.0" cy="261.6" r="5.1"/><circle cx="255.1" cy="233.3" r="5.1"/><circle cx="272.2" cy="204.6" r="5.1"/><circle cx="289.2" cy="176.4" r="5.1"/><circle cx="306.3" cy="149.8" r="5.1"/><circle cx="323.4" cy="125.8" r="5.1"/><circle cx="340.4" cy="105.3" r="5.1"/><circle cx="357.5" cy="88.5" r="5.1"/><circle cx="374.6" cy="75.6" r="5.1"/><circle cx="391.6" cy="66.0" r="5.1"/><circle cx="408.7" cy="59.2" r="5.1"/><circle cx="425.8" cy="54.4" r="5.1"/><circle cx="442.9" cy="51.2" r="5.1"/><circle cx="459.9" cy="49.0" r="5.1"/><circle cx="477.0" cy="47.5" r="5.1"/><circle cx="494.1" cy="46.6" r="5.1"/><circle cx="511.1" cy="45.9" r="5.1"/><circle cx="528.2" cy="45.4" r="5.1"/><circle cx="545.3" cy="45.1" r="5.1"/><circle cx="562.3" cy="44.9" r="5.1"/><circle cx="579.4" cy="44.8" r="5.1"/></g>
</g>
<text transform="translate(135.6,521.3) scale(1,1.05)" text-anchor="middle" font-size="24.5" fill="#000" stroke="#000" stroke-width="0.25" >10</text>
<text transform="translate(203.9,521.3) scale(1,1.05)" text-anchor="middle" font-size="24.5" fill="#000" stroke="#000" stroke-width="0.25" >20</text>
<text transform="translate(272.2,521.3) scale(1,1.05)" text-anchor="middle" font-size="24.5" fill="#000" stroke="#000" stroke-width="0.25" >30</text>
<text transform="translate(340.4,521.3) scale(1,1.05)" text-anchor="middle" font-size="24.5" fill="#000" stroke="#000" stroke-width="0.25" >40</text>
<text transform="translate(408.7,521.3) scale(1,1.05)" text-anchor="middle" font-size="24.5" fill="#000" stroke="#000" stroke-width="0.25" >50</text>
<text transform="translate(477.0,521.3) scale(1,1.05)" text-anchor="middle" font-size="24.5" fill="#000" stroke="#000" stroke-width="0.25" >60</text>
<text transform="translate(545.3,521.3) scale(1,1.05)" text-anchor="middle" font-size="24.5" fill="#000" stroke="#000" stroke-width="0.25" >70</text>
<text transform="translate(613.5,521.3) scale(1,1.05)" text-anchor="middle" font-size="24.5" fill="#000" stroke="#000" stroke-width="0.25" >80</text>
<text transform="translate(87.5,493.7) scale(1,1.05)" text-anchor="end" font-size="24.5" fill="#000" stroke="#000" stroke-width="0.25" >0</text>
<text transform="translate(87.5,449.7) scale(1,1.05)" text-anchor="end" font-size="24.5" fill="#000" stroke="#000" stroke-width="0.25" >0.1</text>
<text transform="translate(87.5,405.7) scale(1,1.05)" text-anchor="end" font-size="24.5" fill="#000" stroke="#000" stroke-width="0.25" >0.2</text>
<text transform="translate(87.5,361.7) scale(1,1.05)" text-anchor="end" font-size="24.5" fill="#000" stroke="#000" stroke-width="0.25" >0.3</text>
<text transform="translate(87.5,317.7) scale(1,1.05)" text-anchor="end" font-size="24.5" fill="#000" stroke="#000" stroke-width="0.25" >0.4</text>
<text transform="translate(87.5,273.7) scale(1,1.05)" text-anchor="end" font-size="24.5" fill="#000" stroke="#000" stroke-width="0.25" >0.5</text>
<text transform="translate(87.5,229.7) scale(1,1.05)" text-anchor="end" font-size="24.5" fill="#000" stroke="#000" stroke-width="0.25" >0.6</text>
<text transform="translate(87.5,185.7) scale(1,1.05)" text-anchor="end" font-size="24.5" fill="#000" stroke="#000" stroke-width="0.25" >0.7</text>
<text transform="translate(87.5,141.7) scale(1,1.05)" text-anchor="end" font-size="24.5" fill="#000" stroke="#000" stroke-width="0.25" >0.8</text>
<text transform="translate(87.5,97.7) scale(1,1.05)" text-anchor="end" font-size="24.5" fill="#000" stroke="#000" stroke-width="0.25" >0.9</text>
<text transform="translate(87.5,53.7) scale(1,1.05)" text-anchor="end" font-size="24.5" fill="#000" stroke="#000" stroke-width="0.25" >1</text>
<text transform="translate(357.8,557.1) scale(1,1.05)" text-anchor="middle" font-size="24.5" fill="#000" stroke="#000" stroke-width="0.25" letter-spacing="0.25">Temperature °C</text>
<text transform="translate(28.0,264.5) rotate(-90) scale(1,1.05)" text-anchor="middle" font-size="24.5" stroke="#000" stroke-width="0.25">Fraction unfolded</text>
</g>
<g id="panel-b">
<text x="677.0" y="44.1" text-anchor="start" font-size="38" font-weight="bold" fill="#000" >b</text>
<path d="M857.1,370.2L834.9,44.6M958.1,361.8L940.6,37.7M1057.9,353.5L1045.1,30.9M1156.6,345.3L1148.5,24.1M1254.3,337.1L1250.6,17.4M1350.9,329.1L1351.6,10.8M1446.5,321.1L1451.4,4.3M1541.0,313.2L1550.2,-2.2M1935.6,450.2L1965.1,109.4M1858.4,423.4L1883.7,87.5M1783.9,397.5L1805.1,66.4M1711.8,372.5L1729.3,46.0M1642.1,348.3L1656.2,26.3M1574.7,324.9L1585.5,7.3" fill="none" stroke="#000" stroke-opacity="0.16" stroke-width="2.9"/>
<path d="M800.6,361.4L1541.4,300.2M1541.4,300.2L1942.7,438.2M797.4,319.7L1542.6,259.9M1542.6,259.9L1946.5,394.7M794.2,277.4L1543.7,219.0M1543.7,219.0L1950.4,350.6M791.0,234.7L1544.9,177.7M1544.9,177.7L1954.3,306.0M787.7,191.5L1546.2,135.9M1546.2,135.9L1958.2,260.8M784.3,147.7L1547.4,93.7M1547.4,93.7L1962.2,215.1M781.0,103.4L1548.6,50.9M1548.6,50.9L1966.3,168.7M777.5,58.6L1549.9,7.6M1549.9,7.6L1970.4,121.7" fill="none" stroke="#000" stroke-opacity="0.16" stroke-width="2.9"/>
<path d="M1199.4,518.8L857.1,370.2M1308.4,508.6L958.1,361.8M1416.1,498.6L1057.9,353.5M1522.5,488.7L1156.6,345.3M1627.6,478.9L1254.3,337.1M1731.5,469.2L1350.9,329.1M1834.1,459.6L1446.5,321.1M1935.6,450.2L1541.0,313.2" fill="none" stroke="#000" stroke-opacity="0.16" stroke-width="2.9"/>
<path d="M1073.1,495.0L1858.4,423.4M1009.2,466.7L1783.9,397.5M947.5,439.4L1711.8,372.5M887.9,413.0L1642.1,348.3M830.4,387.5L1574.7,324.9" fill="none" stroke="#000" stroke-opacity="0.16" stroke-width="2.9"/>
<defs>
<linearGradient id="gblue" gradientUnits="userSpaceOnUse" x1="1095" y1="480" x2="1350" y2="370"><stop offset="0" stop-color="#178bd1"/><stop offset="0.28" stop-color="#1399da"/><stop offset="0.46" stop-color="#10b2e8"/><stop offset="0.62" stop-color="#14d2f6"/><stop offset="0.8" stop-color="#22ecff"/><stop offset="1" stop-color="#3cfcff"/></linearGradient>
<linearGradient id="gbluel" gradientUnits="userSpaceOnUse" x1="1095" y1="480" x2="1350" y2="370"><stop offset="0" stop-color="#3dd0f7"/><stop offset="0.45" stop-color="#2fe0fc"/><stop offset="1" stop-color="#4cfaff"/></linearGradient>
<linearGradient id="gred" gradientUnits="userSpaceOnUse" x1="1600" y1="380" x2="1455" y2="490"><stop offset="0" stop-color="#d14f5b"/><stop offset="0.5" stop-color="#db5a63"/><stop offset="0.7" stop-color="#e66e72"/><stop offset="0.84" stop-color="#f3a09c"/><stop offset="0.94" stop-color="#fcd8cc"/><stop offset="1" stop-color="#fff6ec"/></linearGradient>
<linearGradient id="gredl" gradientUnits="userSpaceOnUse" x1="1600" y1="380" x2="1455" y2="490"><stop offset="0" stop-color="#ff6673"/><stop offset="0.3" stop-color="#ff7c86"/><stop offset="0.55" stop-color="#ffa8aa"/><stop offset="0.75" stop-color="#ffdcd8"/><stop offset="0.9" stop-color="#ffffff"/></linearGradient>
<linearGradient id="gredshade" gradientUnits="userSpaceOnUse" x1="1470" y1="190" x2="1500" y2="200"><stop offset="0" stop-color="#a83644"/><stop offset="1" stop-color="#a83644" stop-opacity="0"/></linearGradient>
</defs>
<polygon points="1141.0,512.0 1146.0,511.9 1151.0,510.1 1156.0,508.8 1161.0,509.2 1166.0,508.4 1171.0,509.2 1176.0,507.2 1181.0,505.3 1186.0,504.9 1191.0,504.7 1196.0,505.8 1201.0,502.8 1206.0,502.2 1211.0,503.6 1216.0,501.4 1221.0,502.5 1226.0,501.4 1231.0,500.0 1236.0,499.7 1241.0,497.0 1246.0,495.7 1251.0,496.0 1256.0,494.9 1261.0,494.5 1266.0,493.5 1271.0,490.7 1276.0,490.0 1281.0,490.7 1286.0,489.0 1291.0,488.7 1296.0,486.9 1301.0,486.8 1306.0,486.9 1311.0,486.8 1316.0,485.4 1321.0,485.0 1326.0,486.7 1331.0,486.8 1336.0,485.0 1341.0,487.0 1346.0,486.0 1351.0,486.8 1356.0,485.9 1361.0,486.5 1366.0,485.7 1371.0,484.1 1376.0,483.5 1381.0,483.7 1386.0,484.2 1391.0,483.8 1396.0,484.4 1401.0,484.8 1406.0,483.8 1411.0,482.7 1416.0,484.5 1421.0,484.4 1426.0,481.7 1431.0,482.6 1436.0,481.0 1441.0,480.5 1446.0,479.4 1451.0,480.6 1456.0,480.3 1461.0,478.5 1466.0,478.0 1471.0,477.7 1476.0,476.6 1481.0,476.4 1486.0,474.9 1491.0,476.1 1496.0,474.3 1501.0,473.2 1503.0,480.1 1498.0,481.1 1493.0,480.3 1488.0,481.9 1483.0,483.7 1478.0,483.3 1473.0,485.0 1468.0,484.0 1463.0,484.1 1458.0,486.6 1453.0,485.2 1448.0,487.5 1443.0,486.3 1438.0,487.3 1433.0,486.4 1428.0,489.0 1423.0,489.7 1418.0,490.1 1413.0,489.0 1408.0,488.9 1403.0,489.7 1398.0,489.5 1393.0,489.6 1388.0,490.5 1383.0,491.3 1378.0,490.3 1373.0,489.8 1368.0,490.3 1363.0,492.0 1358.0,491.0 1353.0,492.0 1348.0,491.5 1343.0,491.7 1338.0,490.7 1333.0,491.9 1328.0,493.1 1323.0,492.6 1318.0,491.7 1313.0,491.2 1308.0,492.1 1303.0,491.7 1298.0,493.2 1293.0,493.3 1288.0,495.4 1283.0,494.1 1278.0,495.3 1273.0,497.0 1268.0,498.3 1263.0,499.0 1258.0,499.4 1253.0,500.8 1248.0,501.7 1243.0,504.1 1238.0,503.2 1233.0,505.5 1228.0,506.2 1223.0,507.7 1218.0,508.0 1213.0,509.1 1208.0,509.6 1203.0,508.5 1198.0,509.8 1193.0,510.6 1188.0,512.2 1183.0,512.4 1178.0,512.5 1173.0,514.1 1168.0,512.4 1163.0,513.1 1158.0,514.8 1153.0,515.1 1148.0,516.3 1143.0,516.0" fill="#fdecd6"/>
<g><polygon points="1136.7,510.6 1149.4,518.1 1150.0,511.4" fill="#fff1cc"/><polygon points="1149.4,514.7 1138.5,511.4 1148.9,508.1" fill="#f0a888"/><polygon points="1145.9,508.6 1157.6,515.1 1149.2,512.9" fill="#f0a888"/><polygon points="1143.9,515.1 1148.0,515.3 1158.2,510.5" fill="#f6c9a4"/><polygon points="1158.4,507.4 1160.4,514.2 1159.7,515.5" fill="#f6c9a4"/><polygon points="1163.9,509.2 1161.1,508.1 1153.3,514.7" fill="#f6c9a4"/><polygon points="1167.3,509.2 1158.0,507.0 1160.0,507.2" fill="#5e3a2e"/><polygon points="1165.1,512.6 1165.6,515.9 1164.5,515.6" fill="#8a5a46"/><polygon points="1160.9,515.3 1161.0,515.0 1171.8,511.2" fill="#fff1cc"/><polygon points="1167.9,515.7 1165.4,508.5 1169.5,510.9" fill="#f6c9a4"/><polygon points="1174.7,510.0 1165.0,510.6 1170.7,510.2" fill="#fff1cc"/><polygon points="1181.9,513.8 1181.8,512.4 1173.7,515.4" fill="#f6c9a4"/><polygon points="1180.1,509.0 1174.7,508.4 1181.0,507.2" fill="#8a5a46"/><polygon points="1178.1,513.6 1181.7,504.1 1184.8,509.1" fill="#fff6dc"/><polygon points="1181.3,513.3 1179.1,507.3 1184.1,513.2" fill="#fff1cc"/><polygon points="1187.4,510.8 1180.6,512.5 1187.8,509.0" fill="#8a5a46"/><polygon points="1196.1,513.3 1184.6,505.9 1192.5,511.2" fill="#fff6dc"/><polygon points="1188.1,503.9 1190.8,509.1 1198.7,502.2" fill="#fff1cc"/><polygon points="1199.5,503.0 1190.3,503.0 1199.2,504.8" fill="#f6c9a4"/><polygon points="1193.8,508.3 1193.3,503.0 1202.5,510.1" fill="#8a5a46"/><polygon points="1205.3,501.7 1198.5,511.8 1209.2,500.8" fill="#fff1cc"/><polygon points="1205.4,509.3 1208.4,505.4 1209.5,507.0" fill="#fff1cc"/><polygon points="1214.3,508.4 1210.7,507.0 1213.3,503.0" fill="#8a5a46"/><polygon points="1216.8,502.8 1206.4,503.5 1210.7,501.1" fill="#5e3a2e"/><polygon points="1213.0,510.3 1214.2,505.5 1223.1,506.4" fill="#5e3a2e"/><polygon points="1217.6,507.0 1213.6,500.3 1219.6,504.6" fill="#8a5a46"/><polygon points="1226.1,499.2 1226.6,501.4 1215.6,509.7" fill="#f0a888"/><polygon points="1231.2,499.1 1229.6,504.2 1220.6,505.1" fill="#fff1cc"/><polygon points="1229.4,498.4 1222.7,501.3 1226.7,500.1" fill="#f6c9a4"/><polygon points="1223.8,506.2 1228.6,501.7 1230.6,498.7" fill="#f0a888"/><polygon points="1231.8,507.5 1225.3,505.3 1238.7,507.1" fill="#8a5a46"/><polygon points="1242.7,502.2 1241.6,503.2 1228.2,500.9" fill="#f0a888"/><polygon points="1237.1,499.2 1232.7,503.8 1236.5,505.8" fill="#fff1cc"/><polygon points="1235.8,504.9 1241.7,503.2 1241.6,496.7" fill="#f0a888"/><polygon points="1240.1,501.6 1240.0,499.4 1246.2,501.0" fill="#fff1cc"/><polygon points="1245.6,499.8 1252.0,499.8 1251.3,497.5" fill="#f6c9a4"/><polygon points="1241.9,498.2 1251.7,502.4 1245.3,501.7" fill="#fff6dc"/><polygon points="1261.2,497.9 1252.9,498.4 1245.8,493.3" fill="#4e2e25"/><polygon points="1250.0,496.5 1258.1,497.4 1254.2,500.7" fill="#6b4334"/><polygon points="1263.2,495.2 1263.4,501.0 1262.8,498.0" fill="#5a382c"/><polygon points="1269.6,492.6 1255.8,494.2 1261.2,493.3" fill="#4e2e25"/><polygon points="1261.5,494.5 1271.8,490.4 1264.1,496.1" fill="#6b4334"/><polygon points="1265.3,500.2 1268.2,490.6 1263.8,494.6" fill="#6b4334"/><polygon points="1265.3,498.5 1275.0,490.5 1262.7,497.1" fill="#6b4334"/><polygon points="1273.1,489.9 1274.4,489.4 1266.9,495.1" fill="#e0906e"/><polygon points="1269.3,490.8 1280.7,489.8 1272.1,493.0" fill="#6b4334"/><polygon points="1279.0,492.4 1279.4,492.0 1284.3,488.7" fill="#9a6a55"/><polygon points="1287.9,490.7 1290.0,493.2 1277.3,497.6" fill="#fde6cc"/><polygon points="1290.8,486.9 1281.5,491.6 1284.2,490.1" fill="#fde6cc"/><polygon points="1296.4,490.2 1288.0,488.9 1283.7,489.5" fill="#e0906e"/><polygon points="1288.0,490.7 1294.5,491.6 1288.5,486.8" fill="#6b4334"/><polygon points="1292.3,494.2 1296.9,489.7 1298.8,496.1" fill="#4e2e25"/><polygon points="1299.5,489.3 1307.0,492.7 1293.4,491.7" fill="#4e2e25"/><polygon points="1305.1,488.1 1302.7,487.3 1300.1,494.9" fill="#5a382c"/><polygon points="1300.1,491.9 1303.2,495.8 1300.4,495.4" fill="#7d5140"/><polygon points="1313.8,485.9 1307.0,492.6 1306.5,485.9" fill="#6b4334"/><polygon points="1304.9,485.6 1310.3,487.6 1315.0,485.6" fill="#6b4334"/><polygon points="1312.9,493.9 1315.4,493.9 1321.3,484.3" fill="#fde6cc"/><polygon points="1322.4,491.1 1321.9,494.4 1319.7,493.4" fill="#e0906e"/><polygon points="1324.4,494.2 1318.9,486.4 1322.0,484.2" fill="#fde6cc"/><polygon points="1326.5,483.5 1318.8,487.6 1324.2,493.3" fill="#4e2e25"/><polygon points="1324.8,489.4 1323.2,486.1 1332.3,489.6" fill="#fde6cc"/><polygon points="1326.6,484.1 1331.2,492.8 1329.8,484.9" fill="#4e2e25"/><polygon points="1324.8,487.3 1336.4,492.1 1334.8,493.2" fill="#6b4334"/><polygon points="1325.8,484.2 1335.4,487.6 1334.2,492.9" fill="#fde6cc"/><polygon points="1341.3,482.9 1343.0,486.3 1328.7,486.6" fill="#6b4334"/><polygon points="1333.9,484.6 1342.8,485.3 1338.3,492.2" fill="#4e2e25"/><polygon points="1340.1,484.9 1336.7,493.3 1337.6,484.7" fill="#7d5140"/><polygon points="1349.0,488.2 1347.9,488.3 1349.9,489.3" fill="#7d5140"/><polygon points="1356.3,487.0 1351.3,484.5 1351.2,490.4" fill="#7d5140"/><polygon points="1351.5,486.9 1356.1,492.8 1358.6,488.5" fill="#fde3cf"/><polygon points="1356.8,491.9 1350.1,488.6 1357.1,490.2" fill="#fde3cf"/><polygon points="1352.8,493.0 1364.8,488.8 1359.7,486.5" fill="#7a4a3e"/><polygon points="1364.7,487.5 1359.9,494.0 1369.1,492.1" fill="#6a4036"/><polygon points="1368.8,489.6 1370.1,490.0 1368.8,490.9" fill="#fff0e4"/><polygon points="1360.7,487.6 1372.3,482.9 1364.7,489.8" fill="#7a4a3e"/><polygon points="1363.3,490.5 1369.4,488.9 1375.1,492.1" fill="#f9c6b4"/><polygon points="1374.4,489.4 1367.6,487.5 1381.2,491.9" fill="#7a4a3e"/><polygon points="1382.4,486.9 1382.2,481.7 1376.6,485.2" fill="#fde3cf"/><polygon points="1386.0,486.3 1374.2,490.4 1384.8,489.8" fill="#f9c6b4"/><polygon points="1387.1,486.5 1386.7,481.8 1377.9,486.8" fill="#6a4036"/><polygon points="1388.1,490.7 1389.0,482.1 1391.7,489.6" fill="#f9c6b4"/><polygon points="1387.3,482.1 1392.9,485.0 1390.1,490.6" fill="#6a4036"/><polygon points="1390.1,481.8 1384.7,490.4 1385.8,488.1" fill="#fde3cf"/><polygon points="1390.0,490.6 1393.8,489.9 1392.4,492.5" fill="#fff0e4"/><polygon points="1395.1,484.9 1399.3,483.0 1391.0,492.8" fill="#f9c6b4"/><polygon points="1394.0,488.6 1394.4,486.0 1398.1,488.4" fill="#fde3cf"/><polygon points="1406.3,489.1 1406.7,487.0 1406.2,485.5" fill="#f9c6b4"/><polygon points="1405.0,482.6 1414.0,481.5 1411.0,482.8" fill="#6a4036"/><polygon points="1416.2,486.7 1414.6,485.7 1415.4,484.7" fill="#6a4036"/><polygon points="1418.9,480.4 1410.0,491.1 1408.5,487.2" fill="#7a4a3e"/><polygon points="1405.9,487.0 1411.3,490.8 1410.5,482.8" fill="#fde3cf"/><polygon points="1425.2,489.6 1418.0,486.3 1419.4,488.6" fill="#fde3cf"/><polygon points="1428.0,484.7 1419.4,486.5 1422.1,483.8" fill="#fde6d8"/><polygon points="1430.6,486.5 1421.0,485.3 1419.4,491.1" fill="#fbd0c4"/><polygon points="1428.6,487.8 1425.5,481.5 1424.8,489.2" fill="#fbd0c4"/><polygon points="1425.8,484.1 1426.8,485.2 1434.7,488.1" fill="#fbd0c4"/><polygon points="1429.4,487.3 1435.7,487.1 1427.4,482.4" fill="#fde6d8"/><polygon points="1440.1,480.8 1437.8,482.1 1435.7,484.0" fill="#fde6d8"/><polygon points="1442.1,481.8 1439.9,488.2 1434.0,484.0" fill="#fde6d8"/><polygon points="1448.8,484.4 1440.6,480.3 1448.5,479.0" fill="#fde6d8"/><polygon points="1453.1,486.0 1448.5,482.2 1451.2,484.0" fill="#f4b6aa"/><polygon points="1440.5,486.4 1440.8,486.6 1445.5,479.6" fill="#f4b6aa"/><polygon points="1459.3,479.5 1449.8,483.3 1451.3,480.3" fill="#fbd0c4"/><polygon points="1453.6,488.6 1446.4,486.4 1452.8,481.2" fill="#fbd0c4"/><polygon points="1451.8,484.4 1458.7,487.6 1453.3,478.0" fill="#fde6d8"/><polygon points="1457.6,478.5 1454.7,480.0 1462.0,478.1" fill="#fbd0c4"/><polygon points="1460.7,477.3 1470.3,485.1 1466.8,483.9" fill="#fff3ea"/><polygon points="1471.5,483.5 1472.2,484.1 1469.8,485.9" fill="#a86a60"/><polygon points="1468.2,476.9 1466.8,483.2 1463.6,482.9" fill="#fbd0c4"/><polygon points="1468.5,482.5 1470.2,480.6 1475.2,482.2" fill="#f4b6aa"/><polygon points="1465.7,480.3 1467.4,483.3 1479.1,482.8" fill="#fff3ea"/><polygon points="1482.0,480.0 1480.3,476.4 1470.9,485.8" fill="#fde6d8"/><polygon points="1481.8,483.0 1474.2,483.2 1485.3,476.4" fill="#f4b6aa"/><polygon points="1491.6,477.6 1478.9,482.7 1486.3,479.1" fill="#fff3ea"/><polygon points="1491.9,477.2 1477.8,475.8 1486.6,474.0" fill="#a86a60"/><polygon points="1482.3,481.3 1487.2,476.7 1496.0,473.2" fill="#fff3ea"/><polygon points="1487.3,480.3 1490.0,475.7 1491.3,481.0" fill="#fff3ea"/><polygon points="1502.9,481.8 1496.7,475.2 1498.3,473.2" fill="#fff3ea"/><polygon points="1505.2,477.6 1496.2,475.5 1498.4,478.0" fill="#fde6d8"/></g>
<polygon points="1093.8,435.9 1099.6,431.0 1102.8,434.0 1107.9,424.2 1109.2,427.2 1113.9,418.4 1115.3,420.1 1120.1,410.2 1121.2,412.8 1126.6,402.5 1127.8,406.2 1132.8,397.3 1134.3,399.5 1139.0,390.4 1140.5,392.4 1144.8,384.8 1146.5,385.3 1150.5,376.6 1151.7,377.5 1155.9,368.1 1157.1,369.9 1161.9,360.1 1163.0,362.6 1167.0,351.9 1166.7,354.0 1169.9,344.6 1170.0,345.3 1172.9,336.9 1173.7,336.8 1177.8,328.1 1178.9,329.0 1183.5,318.2 1182.7,320.5 1185.4,311.5 1185.2,311.5 1188.1,301.7 1188.1,302.6 1192.0,291.4 1191.7,294.0 1194.6,285.7 1195.8,285.8 1201.1,276.8 1202.8,279.5 1208.4,269.4 1210.4,277.7 1215.0,278.0 1218.2,282.9 1222.8,282.8 1226.1,287.8 1231.1,287.0 1234.5,291.9 1239.2,292.3 1243.2,295.3 1248.2,294.9 1252.0,298.4 1256.7,298.6 1260.4,302.5 1265.3,302.3 1269.4,304.6 1274.3,304.6 1278.5,307.1 1283.1,307.8 1287.4,309.9 1292.1,310.4 1296.5,312.1 1301.2,312.7 1305.6,314.4 1310.3,314.9 1314.7,316.3 1319.6,315.9 1324.0,317.4 1329.1,316.5 1333.3,318.4 1338.3,317.6 1342.5,319.6 1347.5,319.2 1351.8,321.0 1356.8,320.4 1361.1,322.3 1366.0,321.8 1370.4,322.6 1375.4,321.3 1379.7,322.3 1384.7,321.0 1389.1,322.0 1394.2,320.5 1398.5,321.8 1403.5,320.8 1407.8,321.9 1412.8,320.8 1417.2,322.1 1422.3,320.8 1422.0,323.6 1395.7,324.7 1371.5,325.8 1354.0,332.3 1345.2,345.5 1343.0,363.0 1343.0,384.9 1338.7,404.7 1327.7,422.2 1310.2,439.7 1288.2,455.1 1255.4,470.4 1211.5,485.8 1167.7,495.6 1130.4,501.1 1121.6,497.8 1096.4,457.3 1094.2,434.3" fill="url(#gblue)" stroke="url(#gblue)" stroke-width="1" stroke-linejoin="round"/>
<clipPath id="clipblue"><polygon points="1093.8,435.9 1099.6,431.0 1102.8,434.0 1107.9,424.2 1109.2,427.2 1113.9,418.4 1115.3,420.1 1120.1,410.2 1121.2,412.8 1126.6,402.5 1127.8,406.2 1132.8,397.3 1134.3,399.5 1139.0,390.4 1140.5,392.4 1144.8,384.8 1146.5,385.3 1150.5,376.6 1151.7,377.5 1155.9,368.1 1157.1,369.9 1161.9,360.1 1163.0,362.6 1167.0,351.9 1166.7,354.0 1169.9,344.6 1170.0,345.3 1172.9,336.9 1173.7,336.8 1177.8,328.1 1178.9,329.0 1183.5,318.2 1182.7,320.5 1185.4,311.5 1185.2,311.5 1188.1,301.7 1188.1,302.6 1192.0,291.4 1191.7,294.0 1194.6,285.7 1195.8,285.8 1201.1,276.8 1202.8,279.5 1208.4,269.4 1210.4,277.7 1215.0,278.0 1218.2,282.9 1222.8,282.8 1226.1,287.8 1231.1,287.0 1234.5,291.9 1239.2,292.3 1243.2,295.3 1248.2,294.9 1252.0,298.4 1256.7,298.6 1260.4,302.5 1265.3,302.3 1269.4,304.6 1274.3,304.6 1278.5,307.1 1283.1,307.8 1287.4,309.9 1292.1,310.4 1296.5,312.1 1301.2,312.7 1305.6,314.4 1310.3,314.9 1314.7,316.3 1319.6,315.9 1324.0,317.4 1329.1,316.5 1333.3,318.4 1338.3,317.6 1342.5,319.6 1347.5,319.2 1351.8,321.0 1356.8,320.4 1361.1,322.3 1366.0,321.8 1370.4,322.6 1375.4,321.3 1379.7,322.3 1384.7,321.0 1389.1,322.0 1394.2,320.5 1398.5,321.8 1403.5,320.8 1407.8,321.9 1412.8,320.8 1417.2,322.1 1422.3,320.8 1422.0,323.6 1395.7,324.7 1371.5,325.8 1354.0,332.3 1345.2,345.5 1343.0,363.0 1343.0,384.9 1338.7,404.7 1327.7,422.2 1310.2,439.7 1288.2,455.1 1255.4,470.4 1211.5,485.8 1167.7,495.6 1130.4,501.1 1121.6,497.8 1096.4,457.3 1094.2,434.3"/></clipPath><g clip-path="url(#clipblue)">
<path d="M1100.8,430.5L1100.8,434.5Q1108.9,474.0 1127.9,500.3M1105.7,429.2L1105.7,433.2Q1113.8,474.6 1132.6,502.1M1109.5,425.2L1109.5,429.2Q1118.0,472.5 1137.9,501.3M1113.4,420.9L1113.4,424.9Q1122.4,470.3 1143.4,500.5M1117.2,416.4L1117.2,420.4Q1126.8,468.0 1149.1,499.7M1121.0,411.7L1121.0,415.7Q1131.2,465.6 1155.0,498.8M1125.1,407.0L1125.1,411.0Q1135.9,463.2 1160.9,498.0M1129.6,402.5L1129.6,406.5Q1140.8,460.9 1167.0,497.1M1134.1,398.0L1134.1,402.0Q1145.8,458.4 1173.1,495.9M1138.4,393.2L1138.4,397.2Q1150.7,455.6 1179.3,494.5M1142.8,388.3L1142.8,392.3Q1155.6,452.8 1185.5,493.1M1147.2,383.3L1147.2,387.3Q1160.6,449.9 1191.8,491.7M1151.0,377.8L1151.0,381.8Q1165.2,446.9 1198.2,490.3M1154.8,372.2L1154.8,376.2Q1169.7,443.8 1204.6,488.8M1158.7,366.6L1158.7,370.6Q1174.4,440.7 1211.0,487.4M1163.0,361.2L1163.0,365.2Q1179.3,437.4 1217.4,485.5M1167.0,355.6L1167.0,359.6Q1184.1,433.8 1223.8,483.3M1169.5,349.1L1169.5,353.1Q1187.7,429.8 1230.2,481.0M1172.0,342.5L1172.0,346.5Q1191.4,425.8 1236.7,478.8M1174.5,335.9L1174.5,339.9Q1195.1,421.8 1243.1,476.5M1178.0,329.7L1178.0,333.7Q1199.5,418.0 1249.7,474.2M1182.0,323.8L1182.0,327.8Q1204.3,414.2 1256.2,471.9M1185.0,317.3L1185.0,321.3Q1208.3,410.0 1262.6,469.1M1187.0,310.3L1187.0,314.3Q1211.6,405.4 1269.0,466.1M1188.9,303.3L1188.9,307.3Q1214.9,400.8 1275.4,463.1M1191.4,296.5L1191.4,300.5Q1218.5,396.3 1281.8,460.1M1194.2,289.7L1194.2,293.7Q1222.4,391.7 1288.3,457.1M1197.0,282.9L1197.0,286.9Q1226.2,386.8 1294.4,453.3M1202.3,277.8L1202.3,281.8Q1231.7,382.2 1300.3,449.2M1207.8,272.8L1207.8,276.8Q1237.3,377.8 1306.2,445.1M1213.9,274.5L1213.9,278.5Q1243.2,376.1 1311.8,441.1M1220.1,278.7L1220.1,282.7Q1249.0,375.0 1316.6,436.5M1226.3,282.9L1226.3,286.9Q1254.8,373.8 1321.4,431.7M1233.0,286.4L1233.0,290.4Q1261.0,372.3 1326.2,426.9M1239.8,289.8L1239.8,293.8Q1267.1,370.7 1330.7,421.9M1247.0,292.2L1247.0,296.2Q1273.2,368.2 1334.3,416.1M1254.2,294.8L1254.2,298.8Q1279.3,365.7 1337.9,410.3M1261.0,298.2L1261.0,302.2Q1285.1,363.5 1341.2,404.4M1268.3,300.6L1268.3,304.6Q1290.6,360.4 1342.6,397.6" fill="none" stroke="#0b74bd" stroke-opacity="0.55" stroke-width="1.3"/>
<path d="M1098.6,428.5L1098.6,433.5Q1106.7,473.0 1125.7,499.3M1103.5,427.2L1103.5,432.2Q1111.6,473.6 1130.4,501.1M1107.3,423.2L1107.3,428.2Q1115.8,471.5 1135.7,500.3M1111.2,418.9L1111.2,423.9Q1120.2,469.3 1141.2,499.5M1115.0,414.4L1115.0,419.4Q1124.6,467.0 1146.9,498.7M1118.8,409.7L1118.8,414.7Q1129.0,464.6 1152.8,497.8M1122.9,405.0L1122.9,410.0Q1133.7,462.2 1158.7,497.0M1127.4,400.5L1127.4,405.5Q1138.6,459.9 1164.8,496.1M1131.9,396.0L1131.9,401.0Q1143.6,457.4 1170.9,494.9M1136.2,391.2L1136.2,396.2Q1148.5,454.6 1177.1,493.5M1140.6,386.3L1140.6,391.3Q1153.4,451.8 1183.3,492.1M1145.0,381.3L1145.0,386.3Q1158.4,448.9 1189.6,490.7M1148.8,375.8L1148.8,380.8Q1163.0,445.9 1196.0,489.3M1152.6,370.2L1152.6,375.2Q1167.5,442.8 1202.4,487.8M1156.5,364.6L1156.5,369.6Q1172.2,439.7 1208.8,486.4M1160.8,359.2L1160.8,364.2Q1177.1,436.4 1215.2,484.5M1164.8,353.6L1164.8,358.6Q1181.9,432.8 1221.6,482.3M1167.3,347.1L1167.3,352.1Q1185.5,428.8 1228.0,480.0M1169.8,340.5L1169.8,345.5Q1189.2,424.8 1234.5,477.8M1172.3,333.9L1172.3,338.9Q1192.9,420.8 1240.9,475.5M1175.8,327.7L1175.8,332.7Q1197.3,417.0 1247.5,473.2M1179.8,321.8L1179.8,326.8Q1202.1,413.2 1254.0,470.9M1182.8,315.3L1182.8,320.3Q1206.1,409.0 1260.4,468.1M1184.8,308.3L1184.8,313.3Q1209.4,404.4 1266.8,465.1M1186.7,301.3L1186.7,306.3Q1212.7,399.8 1273.2,462.1M1189.2,294.5L1189.2,299.5Q1216.3,395.3 1279.6,459.1M1192.0,287.7L1192.0,292.7Q1220.2,390.7 1286.1,456.1M1194.8,280.9L1194.8,285.9Q1224.0,385.8 1292.2,452.3M1200.1,275.8L1200.1,280.8Q1229.5,381.2 1298.1,448.2M1205.6,270.8L1205.6,275.8Q1235.1,376.8 1304.0,444.1M1211.7,272.5L1211.7,277.5Q1241.0,375.1 1309.6,440.1M1217.9,276.7L1217.9,281.7Q1246.8,374.0 1314.4,435.5M1224.1,280.9L1224.1,285.9Q1252.6,372.8 1319.2,430.7M1230.8,284.4L1230.8,289.4Q1258.8,371.3 1324.0,425.9M1237.6,287.8L1237.6,292.8Q1264.9,369.7 1328.5,420.9M1244.8,290.2L1244.8,295.2Q1271.0,367.2 1332.1,415.1M1252.0,292.8L1252.0,297.8Q1277.1,364.7 1335.7,409.3M1258.8,296.2L1258.8,301.2Q1282.9,362.5 1339.0,403.4M1266.1,298.6L1266.1,303.6Q1288.4,359.4 1340.4,396.6M1273.6,300.2L1273.6,305.2Q1294.1,356.0 1341.9,389.9M1280.9,302.6L1280.9,307.6Q1299.6,352.9 1343.0,383.1M1288.3,304.9L1288.3,309.9Q1304.7,349.7 1343.0,376.2M1295.9,306.8L1295.9,311.8Q1310.0,346.2 1343.0,369.2M1303.4,308.7L1303.4,313.7Q1315.3,342.8 1343.1,362.2M1311.0,310.6L1311.0,315.6Q1320.9,339.6 1344.0,355.6M1318.8,311.5L1318.8,316.5Q1326.6,336.0 1344.8,349.0M1326.6,312.3L1326.6,317.3Q1332.7,332.7 1347.0,342.9M1334.4,313.1L1334.4,318.1Q1339.3,329.7 1350.7,337.3M1342.2,314.2L1342.2,319.2Q1346.0,326.9 1354.6,332.1M1350.1,315.3L1350.1,320.3Q1353.3,326.0 1360.9,329.7M1357.9,316.5L1357.9,321.5Q1360.7,325.0 1367.2,327.4M1365.8,317.4L1365.8,322.4Q1368.2,324.4 1373.8,325.7M1373.8,317.2L1373.8,322.2Q1375.8,324.1 1380.6,325.3M1381.8,316.9L1381.8,321.9Q1383.5,323.8 1387.5,325.0M1389.8,316.6L1389.8,321.6Q1391.1,323.5 1394.3,324.7" fill="none" stroke="url(#gbluel)" stroke-width="1.9"/>
<path d="M1099.0,452.5 L1103.3,452.4 L1108.2,452.0 L1112.2,448.9 L1116.4,445.7 L1120.6,442.2 L1124.8,438.6 L1129.2,435.0 L1133.9,431.6 L1138.7,428.0 L1143.4,424.2 L1148.1,420.3 L1152.8,416.3 L1157.1,412.0 L1161.3,407.6 L1165.7,403.2 L1170.3,398.8 L1174.8,394.1 L1177.9,388.8 L1181.1,383.5 L1184.3,378.2 L1188.4,373.1 L1192.8,368.2 L1196.4,362.8 L1199.1,357.0 L1201.8,351.1 L1205.0,345.4 L1208.5,339.7 L1211.8,333.7 L1217.2,328.9 L1222.8,324.2 L1228.8,324.3 L1234.8,325.9 L1240.7,327.6 L1247.1,328.6 L1253.5,329.6 L1260.1,329.7 L1266.6,329.8 L1272.8,330.6 L1279.1,330.3 L1285.6,329.5 L1291.8,329.3 L1297.9,328.9 L1304.1,328.3 L1310.4,327.6 L1316.8,327.1 L1323.3,325.9 L1330.1,324.7 L1337.3,323.6 L1344.4,322.9 L1352.0,323.0 L1359.6,323.2 L1367.2,323.4 L1375.0,323.1 L1382.8,322.8M1105.2,469.2 L1109.4,469.7 L1114.3,470.1 L1118.6,467.9 L1123.2,465.5 L1127.8,463.0 L1132.4,460.4 L1137.2,457.8 L1142.3,455.3 L1147.5,452.7 L1152.6,449.7 L1157.7,446.7 L1162.8,443.7 L1167.7,440.5 L1172.5,437.1 L1177.4,433.8 L1182.6,430.4 L1187.5,426.6 L1191.6,422.4 L1195.7,418.2 L1199.8,414.0 L1204.5,410.0 L1209.5,406.0 L1213.9,401.6 L1217.6,396.8 L1221.3,392.0 L1225.4,387.3 L1229.6,382.6 L1233.8,377.4 L1239.3,372.9 L1245.0,368.4 L1250.8,367.0 L1256.5,366.3 L1262.1,365.6 L1268.1,364.5 L1274.0,363.3 L1279.7,361.2 L1285.5,359.1 L1290.9,357.4 L1295.8,354.8 L1300.9,351.8 L1305.8,349.1 L1310.2,346.3 L1314.7,343.4 L1319.3,340.4 L1324.2,337.6 L1329.2,334.4 L1334.7,331.4 L1340.9,328.7 L1347.2,326.3 L1354.4,325.5 L1361.7,324.7 L1369.0,324.2 L1376.5,323.9 L1384.0,323.6M1110.5,480.3 L1114.7,481.1 L1119.4,482.1 L1124.1,480.4 L1129.0,478.6 L1133.9,476.8 L1139.0,474.8 L1144.2,472.9 L1149.6,471.0 L1155.0,469.0 L1160.4,466.6 L1165.9,464.2 L1171.4,461.8 L1176.8,459.3 L1182.1,456.7 L1187.5,454.1 L1193.1,451.2 L1198.5,448.1 L1203.3,444.6 L1208.1,441.2 L1213.0,437.7 L1218.3,434.4 L1223.8,431.0 L1228.8,427.2 L1233.4,423.1 L1238.0,419.0 L1242.8,415.0 L1247.8,410.9 L1252.5,406.3 L1258.2,401.9 L1264.0,397.6 L1269.7,395.2 L1275.1,393.0 L1280.5,390.7 L1286.1,388.2 L1291.5,385.5 L1296.6,382.0 L1301.6,378.5 L1306.3,375.1 L1310.2,370.9 L1314.1,366.5 L1317.8,362.2 L1320.8,357.8 L1323.8,353.3 L1327.0,348.8 L1330.5,344.6 L1334.2,340.1 L1338.7,335.8 L1344.1,332.0 L1349.6,328.5 L1356.5,327.1 L1363.5,325.7 L1370.5,324.8 L1377.8,324.5 L1385.1,324.2M1114.4,487.2 L1118.5,488.3 L1123.3,489.5 L1128.2,488.2 L1133.3,486.8 L1138.5,485.4 L1143.8,483.9 L1149.3,482.3 L1154.9,480.9 L1160.6,479.1 L1166.3,477.2 L1172.0,475.2 L1177.8,473.2 L1183.5,471.1 L1189.2,468.9 L1195.0,466.8 L1200.9,464.3 L1206.6,461.5 L1212.0,458.5 L1217.4,455.5 L1222.8,452.5 L1228.6,449.6 L1234.4,446.7 L1239.9,443.2 L1245.1,439.6 L1250.4,435.9 L1255.8,432.3 L1261.3,428.6 L1266.5,424.4 L1272.2,420.1 L1278.0,415.8 L1283.7,412.8 L1288.9,409.7 L1294.1,406.4 L1299.4,403.0 L1304.5,399.4 L1309.1,395.0 L1313.6,390.6 L1317.8,386.2 L1320.8,381.0 L1323.9,375.7 L1326.6,370.4 L1328.6,365.0 L1330.6,359.6 L1332.7,354.1 L1335.3,348.9 L1337.9,343.6 L1341.6,338.6 L1346.4,334.1 L1351.4,329.9 L1358.1,328.2 L1364.8,326.4 L1371.7,325.1 L1378.8,324.8 L1386.0,324.5M1116.8,491.0 L1120.9,492.3 L1125.7,493.7 L1130.7,492.6 L1136.0,491.4 L1141.3,490.2 L1146.8,488.9 L1152.5,487.6 L1158.2,486.3 L1164.1,484.8 L1169.9,483.1 L1175.8,481.3 L1181.8,479.5 L1187.7,477.6 L1193.6,475.7 L1199.7,473.8 L1205.7,471.6 L1211.7,469.0 L1217.4,466.3 L1223.1,463.6 L1228.9,460.8 L1234.9,458.1 L1241.0,455.4 L1246.8,452.2 L1252.4,448.8 L1258.0,445.4 L1263.8,442.0 L1269.6,438.5 L1275.1,434.5 L1280.9,430.2 L1286.7,426.0 L1292.4,422.7 L1297.5,419.0 L1302.5,415.2 L1307.6,411.3 L1312.6,407.2 L1316.8,402.3 L1321.1,397.4 L1324.9,392.4 L1327.4,386.6 L1330.0,380.8 L1332.2,375.0 L1333.5,369.0 L1334.8,363.0 L1336.2,357.0 L1338.2,351.3 L1340.2,345.5 L1343.4,340.2 L1347.8,335.3 L1352.5,330.7 L1359.0,328.7 L1365.6,326.7 L1372.4,325.3 L1379.4,325.0 L1386.5,324.7M1118.6,493.7 L1122.7,495.0 L1127.5,496.6 L1132.6,495.6 L1137.9,494.6 L1143.4,493.5 L1149.1,492.4 L1154.8,491.3 L1160.7,490.2 L1166.6,488.8 L1172.6,487.2 L1178.6,485.5 L1184.7,483.9 L1190.8,482.2 L1196.9,480.5 L1203.1,478.8 L1209.3,476.6 L1215.4,474.2 L1221.4,471.7 L1227.4,469.1 L1233.4,466.6 L1239.6,464.0 L1245.9,461.5 L1251.9,458.4 L1257.8,455.2 L1263.7,451.9 L1269.7,448.7 L1275.8,445.4 L1281.5,441.5 L1287.3,437.3 L1293.2,433.1 L1298.9,429.5 L1303.9,425.5 L1308.8,421.3 L1313.8,417.0 L1318.6,412.6 L1322.6,407.3 L1326.6,402.1 L1330.2,396.7 L1332.3,390.6 L1334.5,384.4 L1336.2,378.2 L1337.1,371.8 L1337.9,365.5 L1338.8,359.1 L1340.4,353.0 L1341.9,346.9 L1344.7,341.2 L1348.9,336.1 L1353.3,331.3 L1359.7,329.1 L1366.2,327.0 L1372.9,325.4 L1379.9,325.1 L1386.8,324.8M1120.1,495.8 L1124.2,497.2 L1128.9,498.9 L1134.1,498.0 L1139.6,497.1 L1145.2,496.1 L1150.9,495.1 L1156.8,494.1 L1162.7,493.1 L1168.8,491.9 L1174.8,490.4 L1180.9,488.9 L1187.1,487.3 L1193.3,485.8 L1199.6,484.2 L1205.9,482.6 L1212.2,480.6 L1218.5,478.3 L1224.6,475.9 L1230.9,473.5 L1237.1,471.1 L1243.5,468.7 L1249.9,466.2 L1256.1,463.3 L1262.3,460.2 L1268.4,457.1 L1274.6,453.9 L1280.9,450.8 L1286.8,447.0 L1292.6,442.8 L1298.5,438.6 L1304.2,434.9 L1309.1,430.5 L1313.9,426.0 L1318.8,421.5 L1323.5,416.8 L1327.3,411.3 L1331.1,405.7 L1334.5,400.1 L1336.3,393.6 L1338.2,387.2 L1339.6,380.7 L1340.0,374.0 L1340.4,367.3 L1340.9,360.7 L1342.1,354.3 L1343.4,348.0 L1345.8,342.1 L1349.8,336.7 L1354.0,331.7 L1360.3,329.4 L1366.7,327.2 L1373.3,325.6 L1380.2,325.2 L1387.1,324.9M1121.1,497.1 L1125.1,498.6 L1129.8,500.3 L1135.1,499.5 L1140.6,498.6 L1146.3,497.7 L1152.1,496.8 L1158.0,495.9 L1164.0,495.0 L1170.1,493.8 L1176.2,492.4 L1182.4,490.9 L1188.7,489.5 L1195.0,488.0 L1201.3,486.5 L1207.7,485.0 L1214.1,483.0 L1220.4,480.8 L1226.7,478.5 L1233.1,476.2 L1239.5,473.8 L1246.0,471.5 L1252.5,469.2 L1258.8,466.3 L1265.1,463.3 L1271.4,460.2 L1277.7,457.2 L1284.1,454.1 L1290.1,450.3 L1296.0,446.2 L1301.9,442.0 L1307.5,438.2 L1312.4,433.6 L1317.2,429.0 L1322.0,424.3 L1326.6,419.4 L1330.3,413.7 L1334.0,408.0 L1337.3,402.1 L1338.9,395.5 L1340.5,388.9 L1341.7,382.2 L1341.9,375.4 L1342.1,368.5 L1342.3,361.6 L1343.3,355.2 L1344.2,348.6 L1346.5,342.6 L1350.3,337.1 L1354.4,331.9 L1360.7,329.6 L1367.0,327.3 L1373.6,325.6 L1380.5,325.3 L1387.3,325.0" fill="none" stroke="url(#gbluel)" stroke-width="1.25"/>
<path d="M1121.6,497.8 L1130.4,501.1 L1167.7,495.6 L1211.5,485.8 L1255.4,470.4 L1288.2,455.1 L1310.2,439.7 L1327.7,422.2 L1338.7,404.7 L1343.0,384.9" fill="none" stroke="#2be6ff" stroke-opacity="0.55" stroke-width="9"/>
<path d="M1250.7,344.2L1317.2,428.2M1256.9,344.4L1322.1,423.6M1263.1,344.5L1326.7,418.8M1269.4,343.6L1330.5,413.2M1275.7,342.9L1334.2,407.7M1281.6,342.6L1337.6,401.9M1287.3,341.4L1339.3,395.4M1293.3,339.7L1341.1,388.9M1299.0,338.5L1342.5,382.3M1304.5,337.1L1342.8,375.6M1310.1,335.5L1343.1,368.8M1315.7,333.9L1343.5,362.0M1321.5,332.4L1344.6,355.7M1327.5,330.4L1345.7,349.2M1333.9,328.4L1348.1,343.3M1340.6,326.7L1352.0,337.9M1347.5,325.3L1356.1,332.8M1354.9,325.1L1362.5,330.5M1362.3,324.8L1368.9,328.2M1369.9,324.7L1375.4,326.6M1377.5,324.4L1382.3,326.3M1385.2,324.1L1389.2,326.0M1392.9,323.8L1396.1,325.6M1400.7,323.6L1403.1,325.4" fill="none" stroke="#0fa8e0" stroke-opacity="0.55" stroke-width="0.8"/>
<ellipse cx="1119" cy="472" rx="3.5" ry="11" transform="rotate(-28 1119 472)" fill="#e8fbff" fill-opacity="0.6"/>
</g>
<path d="M1334.3,319.1 L1337.3,322.8 L1340.3,320.5 L1343.3,323.2 L1346.3,320.7 L1349.3,323.3 L1352.3,321.1 L1355.3,324.4 L1358.3,322.5 L1361.3,324.0 L1364.3,324.2 L1367.3,326.2 L1370.4,323.0 L1373.4,325.9 L1376.4,321.7 L1379.5,325.7 L1382.5,323.7 L1385.5,324.5 L1388.6,322.1 L1391.6,324.1 L1394.6,321.0 L1397.7,325.8 L1400.7,321.3 L1403.7,324.7 L1406.8,321.5 L1409.8,323.9 L1412.9,322.9 L1415.9,324.9 L1418.9,321.9 L1422.0,325.0" fill="none" stroke="#d8fbff" stroke-width="2.6"/>
<path d="M1334.3,319.1 L1337.3,322.8 L1340.3,320.5 L1343.3,323.2 L1346.3,320.7 L1349.3,323.3 L1352.3,321.1 L1355.3,324.4 L1358.3,322.5 L1361.3,324.0 L1364.3,324.2 L1367.3,326.2 L1370.4,323.0 L1373.4,325.9 L1376.4,321.7 L1379.5,325.7 L1382.5,323.7 L1385.5,324.5 L1388.6,322.1 L1391.6,324.1 L1394.6,321.0 L1397.7,325.8 L1400.7,321.3 L1403.7,324.7 L1406.8,321.5 L1409.8,323.9 L1412.9,322.9 L1415.9,324.9 L1418.9,321.9 L1422.0,325.0" fill="none" stroke="#1b4a58" stroke-width="1.4" stroke-dasharray="5,13" stroke-dashoffset="3"/>
<polygon points="1422.4,321.9 1440.5,308.7 1460.7,290.5 1476.9,270.2 1489.1,250.0 1495.1,244.6 1507.3,224.3 1517.4,202.1 1525.5,175.7 1533.6,143.4 1541.7,111.0 1547.8,84.7 1551.8,68.5 1558.9,56.3 1561.9,60.4 1568.0,70.5 1572.1,69.5 1578.1,54.3 1588.3,53.9 1591.3,64.4 1595.3,74.5 1600.4,75.5 1608.5,72.5 1616.6,84.7 1620.6,98.8 1624.7,115.0 1628.7,135.3 1637.9,151.5 1640.9,171.7 1644.9,189.9 1649.0,206.1 1652.6,204.1 1654.0,222.3 1655.5,238.5 1656.1,270.1 1659.1,276.3 1659.1,310.7 1657.1,335.0 1651.0,363.4 1644.9,383.6 1636.8,395.7 1628.7,411.9 1618.6,422.1 1608.5,434.2 1596.4,446.4 1578.1,450.4 1561.9,460.5 1541.7,464.6 1513.4,472.7 1491.1,476.7 1470.9,485.8 1440.5,482.8 1400.0,490.1 1410.0,481.3 1435.3,475.4 1460.6,466.9 1482.5,458.5 1497.7,450.1 1507.8,440.0 1512.9,428.2 1513.7,414.7 1509.5,401.2 1501.1,389.4 1485.9,374.2 1469.0,357.3 1452.2,345.5 1435.3,332.0 1422.6,321.9" fill="url(#gred)" stroke="url(#gred)" stroke-width="1" stroke-linejoin="round"/>
<clipPath id="clipred"><polygon points="1422.4,321.9 1440.5,308.7 1460.7,290.5 1476.9,270.2 1489.1,250.0 1495.1,244.6 1507.3,224.3 1517.4,202.1 1525.5,175.7 1533.6,143.4 1541.7,111.0 1547.8,84.7 1551.8,68.5 1558.9,56.3 1561.9,60.4 1568.0,70.5 1572.1,69.5 1578.1,54.3 1588.3,53.9 1591.3,64.4 1595.3,74.5 1600.4,75.5 1608.5,72.5 1616.6,84.7 1620.6,98.8 1624.7,115.0 1628.7,135.3 1637.9,151.5 1640.9,171.7 1644.9,189.9 1649.0,206.1 1652.6,204.1 1654.0,222.3 1655.5,238.5 1656.1,270.1 1659.1,276.3 1659.1,310.7 1657.1,335.0 1651.0,363.4 1644.9,383.6 1636.8,395.7 1628.7,411.9 1618.6,422.1 1608.5,434.2 1596.4,446.4 1578.1,450.4 1561.9,460.5 1541.7,464.6 1513.4,472.7 1491.1,476.7 1470.9,485.8 1440.5,482.8 1400.0,490.1 1410.0,481.3 1435.3,475.4 1460.6,466.9 1482.5,458.5 1497.7,450.1 1507.8,440.0 1512.9,428.2 1513.7,414.7 1509.5,401.2 1501.1,389.4 1485.9,374.2 1469.0,357.3 1452.2,345.5 1435.3,332.0 1422.6,321.9"/></clipPath><g clip-path="url(#clipred)">
<polygon points="1422.4,321.9 1440.5,308.7 1460.7,290.5 1476.9,270.2 1489.1,250.0 1495.1,244.6 1507.3,224.3 1517.4,202.1 1525.5,175.7 1533.6,143.4 1541.7,111.0 1547.8,84.7 1551.8,68.5 1558.9,56.3 1572.9,60.3 1565.8,72.5 1561.8,88.7 1555.7,115.0 1547.6,147.4 1539.5,179.7 1531.4,206.1 1521.3,228.3 1509.1,248.6 1503.1,254.0 1490.9,274.2 1474.7,294.5 1454.5,312.7 1436.4,325.9" fill="#b23c4a" fill-opacity="0.5"/>
<polygon points="1422.4,321.9 1440.5,308.7 1460.7,290.5 1476.9,270.2 1489.1,250.0 1495.1,244.6 1507.3,224.3 1517.4,202.1 1525.5,175.7 1533.6,143.4 1541.7,111.0 1547.8,84.7 1551.8,68.5 1558.9,56.3 1563.9,57.8 1556.8,70.0 1552.8,86.2 1546.7,112.5 1538.6,144.9 1530.5,177.2 1522.4,203.6 1512.3,225.8 1500.1,246.1 1494.1,251.5 1481.9,271.7 1465.7,292.0 1445.5,310.2 1427.4,323.4" fill="#8e2c3a" fill-opacity="0.55"/>
<path d="M1425.2,324.0L1555.9,61.4M1426.5,325.0L1567.0,68.9M1427.7,326.0L1577.6,55.7M1429.0,327.0L1590.8,62.7M1430.3,328.0L1603.3,74.5M1431.5,329.0L1616.8,85.3M1432.8,330.0L1622.3,105.4M1434.1,331.1L1626.9,125.8M1435.3,332.1L1634.2,145.0M1436.6,333.1L1639.9,164.8M1437.9,334.1L1643.9,185.3M1439.1,335.1L1648.9,205.6M1440.4,336.1L1653.9,220.2M1442.2,337.6L1655.5,238.3M1446.0,340.6L1655.6,247.3M1449.7,343.6L1655.8,256.2M1453.6,346.5L1656.0,265.1M1457.5,349.3L1657.8,273.6M1461.5,352.1L1659.1,282.3M1465.4,354.8L1659.1,291.2M1469.3,357.7L1659.1,300.1M1472.8,361.1L1659.1,309.1M1476.2,364.5L1658.5,318.0M1479.6,367.9L1657.8,326.9M1483.0,371.3L1656.9,335.7M1486.4,374.7L1655.1,344.5M1489.8,378.1L1653.2,353.2M1493.1,381.4L1651.4,361.4M1496.1,384.4L1649.4,368.6M1499.1,387.4L1647.3,375.8M1501.9,390.5L1645.1,383.0M1504.4,394.0L1641.2,389.3M1506.8,397.4L1637.0,395.5M1509.3,400.9L1633.6,402.2M1510.7,404.9L1630.3,408.9M1511.9,409.0L1625.8,414.9M1513.2,413.0L1620.5,420.2M1513.6,417.2L1615.5,425.8M1513.3,421.4L1610.7,431.5M1513.0,425.7L1605.7,437.0M1512.2,429.8L1600.4,442.3M1510.5,433.7L1594.6,446.8M1508.8,437.6L1587.2,448.4M1506.7,441.1L1579.9,450.0M1503.7,444.1L1573.3,453.4M1500.6,447.1L1567.0,457.4M1497.6,450.1L1560.4,460.8M1493.9,452.2L1553.0,462.3M1490.2,454.2L1545.7,463.8M1486.5,456.3L1538.4,465.5M1482.8,458.4L1531.2,467.6M1478.8,459.9L1524.0,469.6M1474.9,461.5L1516.8,471.7M1470.9,463.0L1509.5,473.4M1467.0,464.5L1502.1,474.7M1463.0,466.0L1494.7,476.1M1459.0,467.5L1487.6,478.3M1455.0,468.8L1480.8,481.4M1450.9,470.2L1473.9,484.5M1446.9,471.5L1466.7,485.4M1442.9,472.9L1459.3,484.7M1438.9,474.2L1451.8,483.9M1434.8,475.5L1444.3,483.2M1430.7,476.5L1436.9,483.4M1426.5,477.4L1429.5,484.8M1422.4,478.4L1422.1,486.1M1418.3,479.4L1414.8,487.4M1414.1,480.3L1407.4,488.8" fill="none" stroke="url(#gredl)" stroke-width="1.9"/>
<path d="M1460.1,334.3 L1470.4,334.9 L1473.8,338.4 L1477.6,341.7 L1481.3,345.1 L1484.8,348.5 L1488.3,351.9 L1491.4,355.9 L1494.4,359.8 L1497.4,363.8 L1500.4,367.8 L1503.3,371.7 L1506.2,375.6 L1508.9,379.4 L1511.4,382.8 L1513.9,386.2 L1516.2,389.8 L1518.0,393.5 L1519.8,397.3 L1521.7,401.0 L1522.6,405.3 L1523.3,409.6 L1523.9,413.7 L1523.8,418.0 L1523.0,422.4 L1522.3,426.8 L1521.0,431.0 L1518.9,435.0 L1516.7,438.6 L1514.0,442.0 L1510.6,445.1 L1507.3,448.2 L1503.9,451.2 L1499.8,453.2 L1495.8,455.2 L1491.7,457.2 L1487.6,459.3 L1483.4,460.9 L1479.1,462.5 L1474.8,464.0 L1470.5,465.5 L1466.2,467.0 L1461.9,468.6 L1457.5,470.1 L1453.2,471.6 L1448.9,472.9 L1444.5,474.0 L1440.1,475.2 L1435.8,476.3 L1431.3,477.2 L1426.8,478.2 L1422.4,479.2 L1417.9,480.2 L1413.5,481.2 L1409.0,482.2M1485.0,323.2 L1491.0,326.1 L1494.1,330.2 L1497.6,334.2 L1501.0,338.1 L1504.2,342.1 L1507.3,346.2 L1510.0,350.7 L1512.6,355.2 L1515.2,359.7 L1517.8,364.2 L1520.1,368.7 L1522.5,373.1 L1524.7,377.4 L1526.7,381.2 L1528.7,385.1 L1530.5,389.0 L1531.7,393.0 L1532.9,397.1 L1534.2,401.2 L1534.6,405.7 L1534.7,410.1 L1534.7,414.4 L1534.0,418.9 L1532.8,423.4 L1531.6,427.9 L1529.8,432.3 L1527.3,436.3 L1524.5,439.7 L1521.3,442.9 L1517.6,446.0 L1513.9,449.2 L1510.2,452.3 L1505.7,454.2 L1501.3,456.1 L1496.9,458.1 L1492.5,460.2 L1487.9,461.9 L1483.3,463.5 L1478.6,465.1 L1474.0,466.5 L1469.3,468.0 L1464.7,469.6 L1460.1,471.3 L1455.5,473.0 L1450.9,474.3 L1446.2,475.2 L1441.4,476.1 L1436.7,477.0 L1431.9,477.9 L1427.1,478.9 L1422.4,479.9 L1417.6,481.0 L1412.8,482.0 L1408.0,483.0M1505.6,314.1 L1511.6,317.4 L1514.3,322.1 L1517.6,326.6 L1520.8,331.1 L1523.5,335.7 L1526.3,340.4 L1528.7,345.5 L1530.9,350.5 L1533.0,355.6 L1535.2,360.6 L1537.0,365.6 L1538.8,370.7 L1540.6,375.4 L1542.1,379.6 L1543.5,383.9 L1544.9,388.3 L1545.4,392.6 L1545.9,396.9 L1546.6,401.3 L1546.5,406.1 L1546.1,410.7 L1545.4,415.2 L1544.2,419.8 L1542.5,424.4 L1540.8,429.1 L1538.6,433.5 L1535.7,437.6 L1532.4,440.8 L1528.6,443.8 L1524.6,446.9 L1520.5,450.2 L1516.5,453.3 L1511.7,455.2 L1506.9,457.1 L1502.1,459.1 L1497.3,461.1 L1492.4,462.8 L1487.4,464.5 L1482.5,466.1 L1477.5,467.6 L1472.5,469.0 L1467.6,470.7 L1462.7,472.6 L1457.8,474.5 L1452.9,475.7 L1447.8,476.4 L1442.7,477.1 L1437.7,477.8 L1432.5,478.6 L1427.4,479.6 L1422.3,480.7 L1417.2,481.8 L1412.1,482.8 L1407.0,483.9M1477.8,218.4 L1481.3,225.1 L1489.5,214.5 L1496.2,217.2 L1507.2,215.3 L1514.3,220.2 L1512.8,235.3 L1514.4,245.6 L1523.9,248.8 L1529.0,256.5 L1527.6,269.3 L1532.9,277.2 L1538.5,282.8 L1523.0,300.0 L1541.1,298.2 L1536.3,306.9 L1538.6,312.3 L1541.7,317.5 L1544.5,322.8 L1546.8,328.1 L1549.0,333.5 L1551.0,339.2 L1552.8,344.9 L1554.4,350.7 L1556.0,356.4 L1557.2,362.0 L1558.4,367.7 L1559.6,373.0 L1560.5,377.7 L1561.3,382.5 L1562.1,387.4 L1561.8,392.0 L1561.5,396.6 L1561.5,401.5 L1560.9,406.6 L1559.8,411.4 L1558.3,416.0 L1556.4,420.8 L1554.2,425.7 L1551.9,430.4 L1549.2,435.0 L1545.8,439.2 L1541.8,442.1 L1537.4,444.9 L1532.9,448.0 L1528.5,451.4 L1524.0,454.6 L1518.8,456.4 L1513.5,458.2 L1508.3,460.2 L1503.1,462.2 L1497.8,464.0 L1492.5,465.8 L1487.1,467.3 L1481.7,468.8 L1476.3,470.2 L1471.0,472.0 L1465.8,474.1 L1460.6,476.2 L1455.2,477.3 L1449.8,477.8 L1444.3,478.3 L1438.8,478.7 L1433.3,479.4 L1427.8,480.5 L1422.3,481.6 L1416.8,482.7 L1411.3,483.9 L1405.8,485.0M1501.0,171.7 L1510.5,171.9 L1521.6,156.6 L1529.2,163.3 L1528.6,183.9 L1545.3,179.3 L1539.2,204.0 L1547.3,210.5 L1560.3,214.6 L1557.2,233.2 L1563.3,243.5 L1569.3,254.7 L1574.7,263.2 L1575.2,275.7 L1562.5,288.7 L1573.4,291.2 L1575.0,297.7 L1577.7,303.9 L1580.1,310.2 L1581.6,316.7 L1583.2,323.1 L1584.6,329.9 L1585.6,336.6 L1586.5,343.3 L1587.4,350.0 L1587.6,356.6 L1587.8,363.2 L1588.1,369.4 L1588.1,374.9 L1588.0,380.4 L1587.8,386.0 L1586.4,391.2 L1584.9,396.3 L1583.9,401.7 L1582.4,407.3 L1580.3,412.5 L1577.6,417.3 L1574.7,422.3 L1571.8,427.5 L1568.6,432.5 L1565.1,437.3 L1560.9,441.5 L1555.9,444.1 L1550.6,446.5 L1545.5,449.7 L1540.4,453.3 L1535.3,456.5 L1529.4,458.3 L1523.5,460.0 L1517.6,461.8 L1511.8,463.9 L1505.9,465.8 L1500.0,467.6 L1494.0,469.2 L1488.0,470.6 L1482.0,472.0 L1476.2,474.0 L1470.4,476.4 L1464.7,478.7 L1458.8,479.9 L1452.7,479.9 L1446.6,480.0 L1440.5,480.1 L1434.4,480.6 L1428.3,481.8 L1422.3,483.0 L1416.2,484.2 L1410.1,485.4 L1404.0,486.6M1522.3,128.9 L1531.4,133.7 L1534.1,134.1 L1551.0,127.8 L1561.7,135.4 L1575.9,139.0 L1582.5,152.7 L1572.2,184.0 L1579.7,196.3 L1592.0,204.5 L1585.6,227.4 L1591.2,241.2 L1601.9,248.4 L1595.8,266.1 L1608.5,268.2 L1604.3,278.0 L1605.4,285.5 L1607.7,292.6 L1609.7,299.7 L1610.7,307.1 L1611.7,314.5 L1612.5,322.1 L1612.9,329.6 L1613.2,337.1 L1613.4,344.6 L1612.9,352.0 L1612.3,359.4 L1611.8,366.4 L1611.1,372.5 L1610.2,378.7 L1609.3,384.8 L1607.0,390.5 L1604.5,396.0 L1602.5,401.9 L1600.4,407.9 L1597.4,413.4 L1593.7,418.4 L1590.0,423.6 L1586.4,429.0 L1582.5,434.2 L1578.3,439.2 L1573.6,443.5 L1567.6,445.7 L1561.6,447.8 L1555.9,451.1 L1550.4,454.8 L1544.7,458.2 L1538.3,459.8 L1531.8,461.4 L1525.4,463.2 L1519.1,465.3 L1512.7,467.2 L1506.3,469.1 L1499.8,470.8 L1493.3,472.2 L1486.8,473.6 L1480.4,475.6 L1474.3,478.2 L1468.2,480.9 L1461.8,481.9 L1455.2,481.7 L1448.6,481.5 L1442.0,481.3 L1435.4,481.7 L1428.8,482.9 L1422.2,484.2 L1415.6,485.4 L1409.1,486.6 L1402.5,487.9M1645.6,251.7 L1639.3,263.2 L1639.8,271.6 L1641.8,279.7 L1643.3,287.9 L1643.6,296.3 L1643.9,304.7 L1644.2,313.2 L1643.9,321.7 L1643.5,330.1 L1643.0,338.6 L1641.6,346.9 L1640.1,355.2 L1638.8,363.0 L1637.2,369.8 L1635.4,376.7 L1633.7,383.6 L1630.2,389.7 L1626.6,395.7 L1623.7,402.1 L1620.7,408.6 L1616.7,414.4 L1611.9,419.6 L1607.4,425.1 L1602.9,430.7 L1598.3,436.1 L1593.3,441.3 L1587.8,445.7 L1581.0,447.5 L1574.1,449.3 L1567.8,452.7 L1561.7,456.6 L1555.4,460.0 L1548.3,461.5 L1541.3,463.0 L1534.2,464.8 L1527.3,466.8 L1520.4,468.9 L1513.4,470.9 L1506.4,472.5 L1499.3,473.9 L1492.2,475.3 L1485.3,477.4 L1478.7,480.4 L1472.1,483.3 L1465.1,484.3 L1458.0,483.7 L1450.8,483.1 L1443.6,482.6 L1436.4,482.9 L1429.3,484.2 L1422.2,485.5 L1415.0,486.8 L1407.9,488.1 L1400.8,489.4" fill="none" stroke="url(#gredl)" stroke-width="1.9" stroke-linejoin="round"/>
</g>
<g><polygon points="1633.4,399.1 1635.8,400.0 1633.6,396.5" fill="#ffd8d0"/><polygon points="1634.9,400.2 1632.3,398.9 1636.7,401.1" fill="#5a2326"/><polygon points="1634.7,403.4 1630.2,403.5 1635.6,405.9" fill="#ffd8d0"/><polygon points="1631.2,408.7 1628.7,408.6 1629.1,407.9" fill="#fff4ee"/><polygon points="1631.7,414.5 1624.7,417.2 1627.8,415.3" fill="#4a1c20"/><polygon points="1626.8,414.7 1625.2,414.6 1624.7,418.4" fill="#e88a88"/><polygon points="1617.2,422.3 1622.5,419.2 1622.8,421.4" fill="#ffd8d0"/><polygon points="1614.4,422.5 1616.6,425.1 1615.4,422.2" fill="#fff4ee"/><polygon points="1613.3,428.0 1611.3,426.8 1612.6,430.8" fill="#5a2326"/><polygon points="1612.8,433.7 1615.1,434.4 1614.3,429.4" fill="#5a2326"/><polygon points="1608.0,436.0 1606.3,433.5 1611.3,437.6" fill="#e88a88"/><polygon points="1603.2,440.8 1604.0,439.8 1605.2,439.5" fill="#4a1c20"/><polygon points="1605.4,440.1 1604.6,441.5 1598.6,441.7" fill="#7a3236"/><polygon points="1597.4,443.0 1595.6,444.7 1595.3,445.0" fill="#5a2326"/><polygon points="1597.3,448.4 1594.0,450.1 1590.6,448.7" fill="#fff4ee"/><polygon points="1593.6,451.1 1586.2,447.5 1589.4,450.5" fill="#4a1c20"/><polygon points="1582.8,450.8 1587.3,452.3 1583.0,452.5" fill="#7a3236"/><polygon points="1577.0,451.6 1581.6,453.8 1584.1,453.0" fill="#5a2326"/><polygon points="1579.8,455.7 1574.1,453.8 1574.6,452.9" fill="#fff4ee"/><polygon points="1569.8,454.1 1570.8,457.7 1568.4,455.5" fill="#fff4ee"/><polygon points="1565.9,455.7 1565.7,455.9 1570.3,456.4" fill="#5a2326"/><polygon points="1566.2,462.8 1564.4,463.4 1560.2,463.7" fill="#fff4ee"/><polygon points="1558.1,464.0 1555.5,460.6 1556.3,465.4" fill="#e88a88"/><polygon points="1556.2,466.1 1556.4,462.8 1557.7,464.0" fill="#7a3236"/><polygon points="1546.6,462.2 1551.6,462.7 1548.7,467.1" fill="#ffd8d0"/><polygon points="1545.3,463.1 1546.7,467.1 1548.0,466.6" fill="#4a1c20"/><polygon points="1542.5,468.0 1537.0,464.0 1538.6,464.4" fill="#5a2326"/><polygon points="1534.3,468.8 1536.6,470.8 1536.2,468.1" fill="#fff4ee"/><polygon points="1532.0,469.6 1532.0,468.2 1533.3,469.7" fill="#e88a88"/><polygon points="1527.1,470.7 1526.2,472.5 1524.9,471.2" fill="#5a2326"/><polygon points="1520.1,470.8 1522.6,473.4 1522.8,469.7" fill="#ffd8d0"/><polygon points="1518.7,475.0 1518.2,475.4 1518.3,474.9" fill="#4a1c20"/><polygon points="1516.5,475.9 1510.0,472.0 1516.0,476.8" fill="#fff4ee"/><polygon points="1509.9,473.0 1510.3,473.3 1505.1,474.6" fill="#5a2326"/><polygon points="1500.8,474.7 1505.4,473.4 1501.8,476.4" fill="#e88a88"/><polygon points="1502.0,476.2 1498.3,475.9 1500.3,475.7" fill="#4a1c20"/><polygon points="1497.0,475.4 1489.8,476.2 1489.8,475.8" fill="#4a1c20"/><polygon points="1492.1,476.2 1487.4,480.8 1488.9,480.8" fill="#e88a88"/><polygon points="1480.7,481.4 1486.3,483.0 1482.1,481.9" fill="#e88a88"/><polygon points="1479.6,485.5 1482.4,481.5 1477.7,485.9" fill="#5a2326"/><polygon points="1478.9,486.0 1475.6,483.9 1474.6,486.8" fill="#fff4ee"/><polygon points="1467.7,486.6 1468.0,485.1 1468.7,486.1" fill="#4a1c20"/><polygon points="1463.3,486.5 1469.2,486.6 1466.3,484.1" fill="#e88a88"/><polygon points="1460.4,487.7 1462.0,486.2 1458.2,485.8" fill="#fff4ee"/><polygon points="1456.0,488.4 1456.6,488.5 1460.8,483.0" fill="#fff4ee"/><polygon points="1452.9,483.7 1450.0,483.1 1452.5,486.1" fill="#4a1c20"/><polygon points="1449.4,488.0 1443.8,487.2 1447.9,482.1" fill="#e88a88"/><polygon points="1442.9,482.1 1441.1,483.2 1446.5,484.3" fill="#e88a88"/><polygon points="1438.1,482.2 1434.7,486.5 1439.8,487.6" fill="#ffd8d0"/><polygon points="1435.5,486.9 1434.4,487.2 1435.7,485.4" fill="#e88a88"/><polygon points="1432.0,486.5 1431.8,486.4 1431.6,488.0" fill="#fff4ee"/><polygon points="1421.3,488.9 1425.0,490.2 1422.8,488.9" fill="#7a3236"/><polygon points="1420.6,490.4 1419.2,488.3 1417.5,488.1" fill="#5a2326"/><polygon points="1412.6,490.6 1412.8,489.0 1417.2,488.9" fill="#5a2326"/><polygon points="1408.2,489.7 1406.0,490.0 1409.1,488.7" fill="#4a1c20"/><polygon points="1403.5,489.5 1403.6,492.6 1407.9,493.2" fill="#4a1c20"/><polygon points="1401.4,493.3 1401.2,491.8 1396.1,490.4" fill="#ffd8d0"/></g>
<text transform="translate(772.8,362.4) scale(1,1.05)" text-anchor="end" font-size="24.5" fill="#000" stroke="#000" stroke-width="0.25" >0</text>
<text transform="translate(769.6,320.7) scale(1,1.05)" text-anchor="end" font-size="24.5" fill="#000" stroke="#000" stroke-width="0.25" >20</text>
<text transform="translate(766.4,278.4) scale(1,1.05)" text-anchor="end" font-size="24.5" fill="#000" stroke="#000" stroke-width="0.25" >40</text>
<text transform="translate(763.2,235.7) scale(1,1.05)" text-anchor="end" font-size="24.5" fill="#000" stroke="#000" stroke-width="0.25" >60</text>
<text transform="translate(759.9,192.5) scale(1,1.05)" text-anchor="end" font-size="24.5" fill="#000" stroke="#000" stroke-width="0.25" >80</text>
<text transform="translate(756.5,148.7) scale(1,1.05)" text-anchor="end" font-size="24.5" fill="#000" stroke="#000" stroke-width="0.25" >100</text>
<text transform="translate(753.2,104.4) scale(1,1.05)" text-anchor="end" font-size="24.5" fill="#000" stroke="#000" stroke-width="0.25" >120</text>
<text transform="translate(749.7,59.6) scale(1,1.05)" text-anchor="end" font-size="24.5" fill="#000" stroke="#000" stroke-width="0.25" >140</text>
<text transform="translate(1105.8,539.6) scale(1,1.05)" text-anchor="end" font-size="24.5" fill="#000" stroke="#000" stroke-width="0.25" >0</text>
<text transform="translate(1038.0,508.6) scale(1,1.05)" text-anchor="end" font-size="24.5" fill="#000" stroke="#000" stroke-width="0.25" >200</text>
<text transform="translate(975.1,480.9) scale(1,1.05)" text-anchor="end" font-size="24.5" fill="#000" stroke="#000" stroke-width="0.25" >400</text>
<text transform="translate(915.3,454.0) scale(1,1.05)" text-anchor="end" font-size="24.5" fill="#000" stroke="#000" stroke-width="0.25" >600</text>
<text transform="translate(857.0,427.7) scale(1,1.05)" text-anchor="end" font-size="24.5" fill="#000" stroke="#000" stroke-width="0.25" >800</text>
<text transform="translate(800.4,402.5) scale(1,1.05)" text-anchor="end" font-size="24.5" fill="#000" stroke="#000" stroke-width="0.25" >1000</text>
<text transform="translate(1238.1,546.3) scale(1,1.05)" text-anchor="middle" font-size="24.5" fill="#000" stroke="#000" stroke-width="0.25" >10</text>
<text transform="translate(1347.2,536.1) scale(1,1.05)" text-anchor="middle" font-size="24.5" fill="#000" stroke="#000" stroke-width="0.25" >20</text>
<text transform="translate(1455.0,526.1) scale(1,1.05)" text-anchor="middle" font-size="24.5" fill="#000" stroke="#000" stroke-width="0.25" >30</text>
<text transform="translate(1560.6,516.2) scale(1,1.05)" text-anchor="middle" font-size="24.5" fill="#000" stroke="#000" stroke-width="0.25" >40</text>
<text transform="translate(1665.1,506.4) scale(1,1.05)" text-anchor="middle" font-size="24.5" fill="#000" stroke="#000" stroke-width="0.25" >50</text>
<text transform="translate(1769.2,496.7) scale(1,1.05)" text-anchor="middle" font-size="24.5" fill="#000" stroke="#000" stroke-width="0.25" >60</text>
<text transform="translate(1870.9,487.1) scale(1,1.05)" text-anchor="middle" font-size="24.5" fill="#000" stroke="#000" stroke-width="0.25" >70</text>
<text transform="translate(1972.6,477.7) scale(1,1.05)" text-anchor="middle" font-size="24.5" fill="#000" stroke="#000" stroke-width="0.25" >80</text>
<path d="M776.8,48.4L801.6,374.8L1139.4,524.4L1935.6,450.2M800.6,361.4l-20,-7M797.4,319.7l-20,-7M794.2,277.4l-20,-7M791.0,234.7l-20,-7M787.7,191.5l-20,-7M784.3,147.7l-20,-7M781.0,103.4l-20,-7M777.5,58.6l-20,-7M1140.1,524.4l-19.6,2M1071.3,493.4l-19.6,2M1007.5,465.7l-19.6,2M946.8,438.8l-19.6,2M887.5,412.5l-19.6,2M830.0,387.3l-19.6,2M1200.5,518.8l19.6,9M1309.6,508.6l19.6,9M1417.4,498.6l19.6,9M1523.0,488.7l19.6,9M1627.5,478.9l19.6,9M1731.6,469.2l19.6,9M1833.3,459.6l19.6,9M1935.0,450.2l19.6,9" fill="none" stroke="#000" stroke-width="3.0" stroke-linejoin="miter"/>
<text transform="translate(705,211.5) rotate(-90) scale(1,1.05)" text-anchor="middle" font-size="24.5" stroke="#000" stroke-width="0.25">Rate µM min<tspan dy="-9" font-size="17">−1</tspan><tspan dy="9"></tspan></text>
<text transform="translate(842.0,503.2) scale(1,1.05)" text-anchor="start" font-size="24.5" fill="#000" stroke="#000" stroke-width="0.25" >[<tspan font-style="italic">M</tspan>]</text>
<text transform="translate(887.5,503.2) scale(1,1.05)" text-anchor="start" font-size="24.5" fill="#000" stroke="#000" stroke-width="0.25" letter-spacing="0.5">µM</text>
<text transform="translate(1625.6,551.0) scale(1,1.05)" text-anchor="middle" font-size="24.5" fill="#000" stroke="#000" stroke-width="0.25" letter-spacing="0.25">Temperature °C</text>
</g>
<g id="panel-c">
<text x="2.5" y="633.5" text-anchor="start" font-size="38" font-weight="bold" fill="#000" >c</text>
<line x1="195.6" y1="1058.5" x2="550.6" y2="727.3" stroke="#000" stroke-width="4.2"/>
<path d="M172.9,1049.3H212.9M172.9,1044.9v8.8M212.9,1044.9v8.8M192.9,1033.7V1064.9M188.5,1033.7h8.8M188.5,1064.9h8.8" stroke="#000" stroke-width="2.7" fill="none"/>
<circle cx="192.9" cy="1049.3" r="7.5" fill="#7dd3ee" stroke="#000" stroke-width="2.6"/>
<path d="M269.3,988.4H296.5M269.3,984.0v8.8M296.5,984.0v8.8M282.9,972.0V1004.8M278.5,972.0h8.8M278.5,1004.8h8.8" stroke="#000" stroke-width="2.7" fill="none"/>
<circle cx="282.9" cy="988.4" r="7.5" fill="#55c5ec" stroke="#000" stroke-width="2.6"/>
<path d="M337.9,906.1H368.3M337.9,901.7v8.8M368.3,901.7v8.8" stroke="#000" stroke-width="2.7" fill="none"/>
<circle cx="353.1" cy="906.1" r="7.5" fill="#2fb8e6" stroke="#000" stroke-width="2.6"/>
<path d="M441.4,815.1H473.4M441.4,810.7v8.8M473.4,810.7v8.8" stroke="#000" stroke-width="2.7" fill="none"/>
<circle cx="457.4" cy="815.1" r="7.5" fill="#10a5dc" stroke="#000" stroke-width="2.6"/>
<path d="M505.7,764.9H528.9M505.7,760.5v8.8M528.9,760.5v8.8M517.3,753.2V776.6M512.9,753.2h8.8M512.9,776.6h8.8" stroke="#000" stroke-width="2.7" fill="none"/>
<circle cx="517.3" cy="764.9" r="7.5" fill="#1288c9" stroke="#000" stroke-width="2.6"/>
<path d="M535.6,716.4H565.6M535.6,712.0v8.8M565.6,712.0v8.8" stroke="#000" stroke-width="2.7" fill="none"/>
<circle cx="550.6" cy="716.4" r="7.5" fill="#0b6db5" stroke="#000" stroke-width="2.6"/>
<rect x="101.6" y="655.5" width="511.9" height="449.0" fill="none" stroke="#000" stroke-width="3.0"/>
<path d="M174.68,1104.5v-6.7M174.68,655.5v6.7M247.86,1104.5v-6.7M247.86,655.5v6.7M321.04,1104.5v-6.7M321.04,655.5v6.7M394.22,1104.5v-6.7M394.22,655.5v6.7M467.40,1104.5v-6.7M467.40,655.5v6.7M540.58,1104.5v-6.7M540.58,655.5v6.7M101.6,1047.97h6.7M613.5,1047.97h-6.7M101.6,991.95h6.7M613.5,991.95h-6.7M101.6,935.92h6.7M613.5,935.92h-6.7M101.6,879.90h6.7M613.5,879.90h-6.7M101.6,823.88h6.7M613.5,823.88h-6.7M101.6,767.85h6.7M613.5,767.85h-6.7M101.6,711.83h6.7M613.5,711.83h-6.7" stroke="#000" stroke-width="2.6" fill="none"/>
<text transform="translate(101.5,1137.1) scale(1,1.05)" text-anchor="middle" font-size="24.5" fill="#000" stroke="#000" stroke-width="0.25" >5</text>
<text transform="translate(174.7,1137.1) scale(1,1.05)" text-anchor="middle" font-size="24.5" fill="#000" stroke="#000" stroke-width="0.25" >5.2</text>
<text transform="translate(247.9,1137.1) scale(1,1.05)" text-anchor="middle" font-size="24.5" fill="#000" stroke="#000" stroke-width="0.25" >5.4</text>
<text transform="translate(321.0,1137.1) scale(1,1.05)" text-anchor="middle" font-size="24.5" fill="#000" stroke="#000" stroke-width="0.25" >5.6</text>
<text transform="translate(394.2,1137.1) scale(1,1.05)" text-anchor="middle" font-size="24.5" fill="#000" stroke="#000" stroke-width="0.25" >5.8</text>
<text transform="translate(467.4,1137.1) scale(1,1.05)" text-anchor="middle" font-size="24.5" fill="#000" stroke="#000" stroke-width="0.25" >6</text>
<text transform="translate(540.6,1137.1) scale(1,1.05)" text-anchor="middle" font-size="24.5" fill="#000" stroke="#000" stroke-width="0.25" >6.2</text>
<text transform="translate(613.8,1137.1) scale(1,1.05)" text-anchor="middle" font-size="24.5" fill="#000" stroke="#000" stroke-width="0.25" >6.4</text>
<text transform="translate(88.0,1113.2) scale(1,1.05)" text-anchor="end" font-size="24.5" fill="#000" stroke="#000" stroke-width="0.25" >0.5</text>
<text transform="translate(88.0,1057.2) scale(1,1.05)" text-anchor="end" font-size="24.5" fill="#000" stroke="#000" stroke-width="0.25" >1</text>
<text transform="translate(88.0,1001.2) scale(1,1.05)" text-anchor="end" font-size="24.5" fill="#000" stroke="#000" stroke-width="0.25" >1.5</text>
<text transform="translate(88.0,945.1) scale(1,1.05)" text-anchor="end" font-size="24.5" fill="#000" stroke="#000" stroke-width="0.25" >2</text>
<text transform="translate(88.0,889.1) scale(1,1.05)" text-anchor="end" font-size="24.5" fill="#000" stroke="#000" stroke-width="0.25" >2.5</text>
<text transform="translate(88.0,833.1) scale(1,1.05)" text-anchor="end" font-size="24.5" fill="#000" stroke="#000" stroke-width="0.25" >3</text>
<text transform="translate(88.0,777.1) scale(1,1.05)" text-anchor="end" font-size="24.5" fill="#000" stroke="#000" stroke-width="0.25" >3.5</text>
<text transform="translate(88.0,721.0) scale(1,1.05)" text-anchor="end" font-size="24.5" fill="#000" stroke="#000" stroke-width="0.25" >4</text>
<text transform="translate(88.0,665.0) scale(1,1.05)" text-anchor="end" font-size="24.5" fill="#000" stroke="#000" stroke-width="0.25" >4.5</text>
<text transform="translate(184.3,743.2) scale(1,1.05)" text-anchor="start" font-size="24.5" fill="#000" stroke="#000" stroke-width="0.25" ><tspan font-style="italic">n</tspan> = 3.02 ± 0.18</text>
<text transform="translate(185.5,798.3) scale(1,1.05)" text-anchor="start" font-size="24.5" fill="#000" stroke="#000" stroke-width="0.25" ><tspan font-style="italic">T</tspan> = 25 °C</text>
<text transform="translate(357.8,1177.6) scale(1,1.05)" text-anchor="middle" font-size="24.5" fill="#000" stroke="#000" stroke-width="0.25" letter-spacing="0.45">ln ([<tspan font-style="italic">M</tspan>] (µM))</text>
<text transform="translate(26.5,880) rotate(-90) scale(1,1.05)" text-anchor="middle" font-size="24.5" stroke="#000" stroke-width="0.25" letter-spacing="0.3">ln (rate (µM min<tspan dy="-9" font-size="17">−1</tspan><tspan dy="9">))</tspan></text>
</g>
<g id="panel-d">
<text x="683.0" y="635.0" text-anchor="start" font-size="38" font-weight="bold" fill="#000" >d</text>
<line x1="868" y1="1037.7" x2="1216.5" y2="702.3" stroke="#000" stroke-width="4.2"/>
<path d="M858.6,1048.3H874.6M858.6,1043.9v8.8M874.6,1043.9v8.8M866.6,1032.5V1064.1M862.2,1032.5h8.8M862.2,1064.1h8.8" stroke="#000" stroke-width="2.7" fill="none"/>
<circle cx="866.6" cy="1048.3" r="8" fill="#f29c80" stroke="#000" stroke-width="2.6"/>
<path d="M960.2,933.4H978.2M960.2,929.0v8.8M978.2,929.0v8.8" stroke="#000" stroke-width="2.7" fill="none"/>
<circle cx="969.2" cy="933.4" r="8" fill="#ec8070" stroke="#000" stroke-width="2.6"/>
<circle cx="1073.0" cy="835.7" r="8" fill="#e36a68" stroke="#000" stroke-width="2.6"/>
<circle cx="1165.6" cy="749.6" r="8" fill="#d9535a" stroke="#000" stroke-width="2.6"/>
<path d="M1203.9,709.9V733.9M1199.5,709.9h8.8M1199.5,733.9h8.8" stroke="#000" stroke-width="2.7" fill="none"/>
<circle cx="1203.9" cy="721.9" r="8" fill="#c9404f" stroke="#000" stroke-width="2.6"/>
<path d="M1216.5,687.5V707.3M1212.1,687.5h8.8M1212.1,707.3h8.8" stroke="#000" stroke-width="2.7" fill="none"/>
<circle cx="1216.5" cy="697.4" r="8" fill="#b03048" stroke="#000" stroke-width="2.6"/>
<rect x="772.0" y="655.5" width="511.5999999999999" height="449.0" fill="none" stroke="#000" stroke-width="3.0"/>
<path d="M874.08,1104.5v-6.7M874.08,655.5v6.7M976.46,1104.5v-6.7M976.46,655.5v6.7M1078.84,1104.5v-6.7M1078.84,655.5v6.7M1181.22,1104.5v-6.7M1181.22,655.5v6.7M772.0,1070.62h6.7M1283.6,1070.62h-6.7M772.0,987.66h6.7M1283.6,987.66h-6.7M772.0,904.69h6.7M1283.6,904.69h-6.7M772.0,821.73h6.7M1283.6,821.73h-6.7M772.0,738.76h6.7M1283.6,738.76h-6.7" stroke="#000" stroke-width="2.6" fill="none"/>
<text transform="translate(771.7,1137.1) scale(1,1.05)" text-anchor="middle" font-size="24.5" fill="#000" stroke="#000" stroke-width="0.25" >4.5</text>
<text transform="translate(874.1,1137.1) scale(1,1.05)" text-anchor="middle" font-size="24.5" fill="#000" stroke="#000" stroke-width="0.25" >5</text>
<text transform="translate(976.5,1137.1) scale(1,1.05)" text-anchor="middle" font-size="24.5" fill="#000" stroke="#000" stroke-width="0.25" >5.5</text>
<text transform="translate(1078.8,1137.1) scale(1,1.05)" text-anchor="middle" font-size="24.5" fill="#000" stroke="#000" stroke-width="0.25" >6</text>
<text transform="translate(1181.2,1137.1) scale(1,1.05)" text-anchor="middle" font-size="24.5" fill="#000" stroke="#000" stroke-width="0.25" >6.5</text>
<text transform="translate(1283.6,1137.1) scale(1,1.05)" text-anchor="middle" font-size="24.5" fill="#000" stroke="#000" stroke-width="0.25" >7</text>
<text transform="translate(758.0,1079.8) scale(1,1.05)" text-anchor="end" font-size="24.5" fill="#000" stroke="#000" stroke-width="0.25" >2</text>
<text transform="translate(758.0,996.9) scale(1,1.05)" text-anchor="end" font-size="24.5" fill="#000" stroke="#000" stroke-width="0.25" >2.5</text>
<text transform="translate(758.0,913.9) scale(1,1.05)" text-anchor="end" font-size="24.5" fill="#000" stroke="#000" stroke-width="0.25" >3</text>
<text transform="translate(758.0,830.9) scale(1,1.05)" text-anchor="end" font-size="24.5" fill="#000" stroke="#000" stroke-width="0.25" >3.5</text>
<text transform="translate(758.0,748.0) scale(1,1.05)" text-anchor="end" font-size="24.5" fill="#000" stroke="#000" stroke-width="0.25" >4</text>
<text transform="translate(758.0,665.0) scale(1,1.05)" text-anchor="end" font-size="24.5" fill="#000" stroke="#000" stroke-width="0.25" >4.5</text>
<text transform="translate(853.0,743.2) scale(1,1.05)" text-anchor="start" font-size="24.5" fill="#000" stroke="#000" stroke-width="0.25" ><tspan font-style="italic">m</tspan> = 1.20 ± 0.06</text>
<text transform="translate(854.0,798.3) scale(1,1.05)" text-anchor="start" font-size="24.5" fill="#000" stroke="#000" stroke-width="0.25" ><tspan font-style="italic">T</tspan> = 60 °C</text>
<text transform="translate(1041.0,1176.8) scale(1,1.05)" text-anchor="middle" font-size="24.5" fill="#000" stroke="#000" stroke-width="0.25" letter-spacing="0.4">ln (<tspan font-style="italic">C</tspan><tspan dy="6" font-size="17">T</tspan><tspan dy="-6"> − [</tspan><tspan font-style="italic">M</tspan>] (µM))</text>
</g>
<g id="panel-e">
<text x="1346.0" y="633.5" text-anchor="start" font-size="38" font-weight="bold" fill="#000" >e</text>
<rect x="1441.8" y="655.5" width="511.4000000000001" height="449.0" fill="none" stroke="#000" stroke-width="3.0"/>
<clipPath id="clipe"><rect x="1433.8" y="655.5" width="527.4000000000001" height="449.0"/></clipPath><g clip-path="url(#clipe)">
<path d="M1441.8,824.8 L1445.0,824.6 L1448.2,824.4 L1451.4,824.2 L1454.6,824.0 L1457.8,823.7 L1461.0,823.5 L1464.2,823.3 L1467.4,823.1 L1470.6,822.9 L1473.8,822.6 L1477.0,822.4 L1480.2,822.2 L1483.4,822.0 L1486.5,821.8 L1489.7,821.5 L1492.9,821.3 L1496.1,821.1 L1499.3,820.9 L1502.5,820.7 L1505.7,820.4 L1508.9,820.2 L1512.1,820.0 L1515.3,819.8 L1518.5,819.5 L1521.7,819.3 L1524.9,819.1 L1528.1,818.9 L1531.3,818.7 L1534.5,818.4 L1537.7,818.2 L1540.9,818.0 L1544.1,817.8 L1547.3,817.6 L1550.5,817.3 L1553.7,817.1 L1556.9,816.9 L1560.1,816.7 L1563.3,816.5 L1566.5,816.2 L1569.6,816.0 L1572.8,815.8 L1576.0,815.5 L1579.2,815.3 L1582.4,815.0 L1585.6,814.8 L1588.8,814.5 L1592.0,814.3 L1595.2,814.0 L1598.4,813.8 L1601.6,813.5 L1604.8,813.3 L1608.0,813.1 L1611.2,812.8 L1614.4,812.6 L1617.6,812.3 L1620.8,812.1 L1624.0,811.8 L1627.2,811.6 L1630.4,811.3 L1633.6,811.1 L1636.8,810.8 L1640.0,810.6 L1643.2,810.3 L1646.4,810.1 L1649.6,809.8 L1652.8,809.6 L1655.9,809.3 L1659.1,809.1 L1662.3,808.9 L1665.5,808.6 L1668.7,808.4 L1671.9,808.1 L1675.1,807.9 L1678.3,807.6 L1681.5,807.4 L1684.7,807.1 L1687.9,806.9 L1691.1,806.6 L1694.3,806.4 L1697.5,806.1 L1700.7,805.8 L1703.9,805.5 L1707.1,805.1 L1710.3,804.8 L1713.5,804.5 L1716.7,804.2 L1719.9,803.8 L1723.1,803.5 L1726.3,803.2 L1729.5,802.8 L1732.7,802.5 L1735.9,802.2 L1739.1,801.8 L1742.2,801.5 L1745.4,801.2 L1748.6,800.9 L1751.8,800.5 L1755.0,800.2 L1758.2,799.9 L1761.4,799.5 L1764.6,799.0 L1767.8,798.4 L1771.0,797.8 L1774.2,797.2 L1777.4,796.7 L1780.6,796.1 L1783.8,795.5 L1787.0,794.9 L1790.2,794.4 L1793.4,793.8 L1796.6,793.2 L1799.8,792.6 L1803.0,792.0 L1806.2,791.5 L1809.4,790.9 L1812.6,790.3 L1815.8,789.7 L1819.0,789.0 L1822.2,788.3 L1825.3,787.7 L1828.5,787.0 L1831.7,786.4 L1834.9,785.7 L1838.1,785.0 L1841.3,784.4 L1844.5,783.7 L1847.7,783.1 L1850.9,782.4 L1854.1,781.7 L1857.3,781.1 L1860.5,779.8 L1863.7,778.6 L1866.9,777.3 L1870.1,776.0 L1873.3,774.8 L1876.5,773.5 L1879.7,772.2 L1882.9,771.0 L1886.1,769.7 L1889.3,768.4 L1892.5,767.2 L1895.7,765.9 L1898.9,764.3 L1902.1,762.1 L1905.3,759.9 L1908.5,757.7 L1911.6,755.5 L1914.8,753.3 L1918.0,751.2 L1921.2,749.0 L1924.4,746.8 L1927.6,744.6 L1930.8,742.4 L1934.0,740.2 L1937.2,737.2 L1940.4,734.1 L1943.6,731.0 L1946.8,727.9 L1950.0,724.9 L1953.2,721.8" fill="none" stroke="#000" stroke-width="5" stroke-dasharray="21.5,22.5"/>
<path d="M1441.8,1029.9 L1446.1,1029.2 L1450.3,1028.6 L1454.6,1027.9 L1458.8,1027.2 L1463.1,1026.5 L1467.4,1025.8 L1471.6,1025.2 L1475.9,1024.5 L1480.2,1024.2 L1484.4,1024.0 L1488.7,1023.8 L1492.9,1023.5 L1497.2,1023.2 L1501.5,1023.0 L1505.7,1022.8 L1510.0,1022.5 L1514.2,1022.5 L1518.5,1022.5 L1522.8,1022.4 L1527.0,1022.4 L1531.3,1022.4 L1535.5,1022.3 L1539.8,1022.3 L1544.1,1022.3 L1548.3,1022.4 L1552.6,1022.6 L1556.9,1022.8 L1561.1,1022.9 L1565.4,1023.0 L1569.6,1023.2 L1573.9,1023.4 L1578.2,1023.5 L1582.4,1023.8 L1586.7,1024.1 L1590.9,1024.4 L1595.2,1024.8 L1599.5,1025.1 L1603.7,1025.4 L1608.0,1025.7 L1612.2,1026.0 L1616.5,1026.5 L1620.8,1027.0 L1625.0,1027.5 L1629.3,1028.0 L1633.6,1028.5 L1637.8,1029.0 L1642.1,1029.5 L1646.3,1030.0 L1650.6,1030.6 L1654.9,1031.2 L1659.1,1031.9 L1663.4,1032.5 L1667.6,1033.1 L1671.9,1033.8 L1676.2,1034.4 L1680.4,1035.0 L1684.7,1035.6 L1689.0,1036.2 L1693.2,1036.9 L1697.5,1037.5 L1701.7,1038.1 L1706.0,1038.8 L1710.3,1039.4 L1714.5,1040.0 L1718.8,1040.6 L1723.0,1041.2 L1727.3,1041.9 L1731.6,1042.5 L1735.8,1043.1 L1740.1,1043.8 L1744.3,1044.4 L1748.6,1045.0 L1752.9,1045.6 L1757.1,1046.2 L1761.4,1046.9 L1765.7,1047.5 L1769.9,1048.1 L1774.2,1048.8 L1778.4,1049.4 L1782.7,1050.0 L1787.0,1050.3 L1791.2,1050.6 L1795.5,1050.9 L1799.7,1051.2 L1804.0,1051.6 L1808.3,1051.9 L1812.5,1052.2 L1816.8,1052.5 L1821.1,1052.6 L1825.3,1052.8 L1829.6,1052.9 L1833.8,1053.0 L1838.1,1053.1 L1842.4,1053.2 L1846.6,1053.4 L1850.9,1053.5 L1855.1,1053.8 L1859.4,1054.0 L1863.7,1054.2 L1867.9,1054.5 L1872.2,1054.8 L1876.4,1055.0 L1880.7,1055.2 L1885.0,1055.5 L1889.2,1055.5 L1893.5,1055.5 L1897.8,1055.5 L1902.0,1055.5 L1906.3,1055.5 L1910.5,1055.5 L1914.8,1055.5 L1919.1,1055.5 L1923.3,1055.3 L1927.6,1055.1 L1931.8,1054.9 L1936.1,1054.8 L1940.4,1054.6 L1944.6,1054.4 L1948.9,1054.2 L1953.2,1054.0" fill="none" stroke="#000" stroke-width="5" stroke-dasharray="21.5,22.5"/>
<path d="M1441.8,814.7V970.4M1437.6,814.7h8.4M1437.6,970.4h8.4M1448.2,814.7V918.5M1444.0,814.7h8.4M1444.0,918.5h8.4M1454.5,802.4V894.9M1450.3,802.4h8.4M1450.3,894.9h8.4M1460.9,755.6V930.3M1456.7,755.6h8.4M1456.7,930.3h8.4M1467.3,809.5V935.0M1463.1,809.5h8.4M1463.1,935.0h8.4M1473.7,827.6V880.3M1469.5,827.6h8.4M1469.5,880.3h8.4M1480.0,795.3V883.1M1475.8,795.3h8.4M1475.8,883.1h8.4M1486.4,759.2V911.4M1482.2,759.2h8.4M1482.2,911.4h8.4M1492.8,814.2V892.5M1488.6,814.2h8.4M1488.6,892.5h8.4M1499.2,847.2V887.8M1495.0,847.2h8.4M1495.0,887.8h8.4M1505.5,781.1V881.2M1501.3,781.1h8.4M1501.3,881.2h8.4M1511.9,774.5V905.5M1507.7,774.5h8.4M1507.7,905.5h8.4M1518.3,789.2V894.2M1514.1,789.2h8.4M1514.1,894.2h8.4M1524.6,792.9V883.6M1520.4,792.9h8.4M1520.4,883.6h8.4M1531.0,804.0V870.8M1526.8,804.0h8.4M1526.8,870.8h8.4M1537.4,794.6V870.1M1533.2,794.6h8.4M1533.2,870.1h8.4M1543.8,804.7V882.6M1539.6,804.7h8.4M1539.6,882.6h8.4M1550.1,812.3V874.4M1545.9,812.3h8.4M1545.9,874.4h8.4M1556.5,821.7V875.5M1552.3,821.7h8.4M1552.3,875.5h8.4M1562.9,808.8V867.0M1558.7,808.8h8.4M1558.7,867.0h8.4M1569.2,797.7V865.4M1565.0,797.7h8.4M1565.0,865.4h8.4M1575.6,809.9V864.2M1571.4,809.9h8.4M1571.4,864.2h8.4M1582.0,784.7V862.6M1577.8,784.7h8.4M1577.8,862.6h8.4M1588.4,794.1V874.1M1584.2,794.1h8.4M1584.2,874.1h8.4M1594.7,809.5V856.0M1590.5,809.5h8.4M1590.5,856.0h8.4M1601.1,822.2V853.1M1596.9,822.2h8.4M1596.9,853.1h8.4M1607.5,814.2V878.8M1603.3,814.2h8.4M1603.3,878.8h8.4M1613.9,811.1V851.2M1609.7,811.1h8.4M1609.7,851.2h8.4M1620.2,814.7V843.0M1616.0,814.7h8.4M1616.0,843.0h8.4M1626.6,799.3V842.5M1622.4,799.3h8.4M1622.4,842.5h8.4M1633.0,803.6V831.2M1628.8,803.6h8.4M1628.8,831.2h8.4M1639.3,817.0V849.6M1635.1,817.0h8.4M1635.1,849.6h8.4M1645.7,786.3V862.3M1641.5,786.3h8.4M1641.5,862.3h8.4M1652.1,776.9V849.6M1647.9,776.9h8.4M1647.9,849.6h8.4M1658.5,813.5V841.1M1654.3,813.5h8.4M1654.3,841.1h8.4M1664.8,828.8V844.2M1660.6,828.8h8.4M1660.6,844.2h8.4M1671.2,805.2V821.7M1667.0,805.2h8.4M1667.0,821.7h8.4M1677.6,795.8V821.7M1673.4,795.8h8.4M1673.4,821.7h8.4M1684.0,795.8V843.4M1679.8,795.8h8.4M1679.8,843.4h8.4M1690.3,774.5V828.3M1686.1,774.5h8.4M1686.1,828.3h8.4M1697.8,787.5V834.7M1693.6,787.5h8.4M1693.6,834.7h8.4M1704.2,808.8V833.5M1700.0,808.8h8.4M1700.0,833.5h8.4M1710.5,802.9V821.7M1706.3,802.9h8.4M1706.3,821.7h8.4M1716.9,787.5V825.7M1712.7,787.5h8.4M1712.7,825.7h8.4M1723.3,783.3V802.9M1719.1,783.3h8.4M1719.1,802.9h8.4M1729.7,792.9V817.0M1725.5,792.9h8.4M1725.5,817.0h8.4M1736.0,793.4V834.2M1731.8,793.4h8.4M1731.8,834.2h8.4M1742.4,780.4V817.0M1738.2,780.4h8.4M1738.2,817.0h8.4M1748.8,775.7V812.3M1744.6,775.7h8.4M1744.6,812.3h8.4M1755.1,781.6V802.9M1750.9,781.6h8.4M1750.9,802.9h8.4M1761.5,784.0V799.3M1757.3,784.0h8.4M1757.3,799.3h8.4M1767.9,785.1V811.1M1763.7,785.1h8.4M1763.7,811.1h8.4M1774.3,795.8V804.0M1770.1,795.8h8.4M1770.1,804.0h8.4M1780.6,785.1V793.4M1776.4,785.1h8.4M1776.4,793.4h8.4M1787.0,765.8V822.4M1782.8,765.8h8.4M1782.8,822.4h8.4M1793.4,763.2V808.8M1789.2,763.2h8.4M1789.2,808.8h8.4M1799.7,761.5V771.0M1795.5,761.5h8.4M1795.5,771.0h8.4M1806.1,779.2V786.3M1801.9,779.2h8.4M1801.9,786.3h8.4M1812.5,773.3V802.4M1808.3,773.3h8.4M1808.3,802.4h8.4M1818.9,769.8V792.2M1814.7,769.8h8.4M1814.7,792.2h8.4M1825.2,781.6V819.4M1821.0,781.6h8.4M1821.0,819.4h8.4M1831.6,779.2V785.1M1827.4,779.2h8.4M1827.4,785.1h8.4M1838.0,731.3V780.4M1833.8,731.3h8.4M1833.8,780.4h8.4M1844.4,752.8V788.7M1840.2,752.8h8.4M1840.2,788.7h8.4M1850.7,748.1V789.9M1846.5,748.1h8.4M1846.5,789.9h8.4M1857.1,761.5V786.8M1852.9,761.5h8.4M1852.9,786.8h8.4M1863.5,760.4V780.4M1859.3,760.4h8.4M1859.3,780.4h8.4M1869.8,730.9V798.6M1865.6,730.9h8.4M1865.6,798.6h8.4M1876.2,722.6V772.2M1872.0,722.6h8.4M1872.0,772.2h8.4M1882.6,742.7V758.0M1878.4,742.7h8.4M1878.4,758.0h8.4M1889.0,749.7V776.4M1884.8,749.7h8.4M1884.8,776.4h8.4M1895.3,732.0V788.2M1891.1,732.0h8.4M1891.1,788.2h8.4M1901.7,719.5V781.6M1897.5,719.5h8.4M1897.5,781.6h8.4M1908.1,726.1V785.6M1903.9,726.1h8.4M1903.9,785.6h8.4M1914.5,722.1V755.6M1910.3,722.1h8.4M1910.3,755.6h8.4M1920.8,708.9V757.5M1916.6,708.9h8.4M1916.6,757.5h8.4M1927.2,729.7V776.4M1923.0,729.7h8.4M1923.0,776.4h8.4M1933.6,714.8V747.4M1929.4,714.8h8.4M1929.4,747.4h8.4M1939.9,699.0V788.0M1935.7,699.0h8.4M1935.7,788.0h8.4M1946.3,697.8V734.4M1942.1,697.8h8.4M1942.1,734.4h8.4M1952.7,710.1V746.2M1948.5,710.1h8.4M1948.5,746.2h8.4M1441.8,977.9V1051.8M1437.6,977.9h8.4M1437.6,1051.8h8.4M1458.8,956.0V1026.3M1454.6,956.0h8.4M1454.6,1026.3h8.4M1476.0,1003.4V1059.8M1471.8,1003.4h8.4M1471.8,1059.8h8.4M1493.0,1024.0V1075.9M1488.8,1024.0h8.4M1488.8,1075.9h8.4M1510.0,993.8V1071.9M1505.8,993.8h8.4M1505.8,1071.9h8.4M1527.0,1008.2V1072.8M1522.8,1008.2h8.4M1522.8,1072.8h8.4M1544.2,983.4V1084.9M1540.0,983.4h8.4M1540.0,1084.9h8.4M1561.2,1012.9V1026.8M1557.0,1012.9h8.4M1557.0,1026.8h8.4M1578.2,1026.3V1063.4M1574.0,1026.3h8.4M1574.0,1063.4h8.4M1595.2,1039.3V1046.4M1591.0,1039.3h8.4M1591.0,1046.4h8.4M1612.2,1018.5V1039.8M1608.0,1018.5h8.4M1608.0,1039.8h8.4M1629.2,1042.9V1049.5M1625.0,1042.9h8.4M1625.0,1049.5h8.4M1646.4,1037.7V1075.9M1642.2,1037.7h8.4M1642.2,1075.9h8.4M1663.4,1040.0V1057.5M1659.2,1040.0h8.4M1659.2,1057.5h8.4M1680.4,1031.8V1055.4M1676.2,1031.8h8.4M1676.2,1055.4h8.4M1698.3,1042.1V1061.4M1694.1,1042.1h8.4M1694.1,1061.4h8.4M1714.5,1051.4V1056.0M1710.3,1051.4h8.4M1710.3,1056.0h8.4M1731.3,1052.1V1056.3M1727.1,1052.1h8.4M1727.1,1056.3h8.4M1748.8,1043.9V1059.4M1744.6,1043.9h8.4M1744.6,1059.4h8.4M1765.4,1050.8V1056.0M1761.2,1050.8h8.4M1761.2,1056.0h8.4M1782.9,1044.6V1059.9M1778.7,1044.6h8.4M1778.7,1059.9h8.4M1799.7,1050.3V1054.5M1795.5,1050.3h8.4M1795.5,1054.5h8.4M1816.5,1059.9V1064.0M1812.3,1059.9h8.4M1812.3,1064.0h8.4M1833.7,1056.8V1060.9M1829.5,1056.8h8.4M1829.5,1060.9h8.4M1850.8,1055.0V1058.6M1846.6,1055.0h8.4M1846.6,1058.6h8.4M1867.5,1055.0V1058.6M1863.3,1055.0h8.4M1863.3,1058.6h8.4M1884.8,1054.5V1057.5M1880.6,1054.5h8.4M1880.6,1057.5h8.4M1902.1,1054.2V1061.9M1897.9,1054.2h8.4M1897.9,1061.9h8.4M1919.2,1053.9V1057.0M1915.0,1053.9h8.4M1915.0,1057.0h8.4M1935.9,1050.1V1053.2M1931.7,1050.1h8.4M1931.7,1053.2h8.4M1953.2,1047.7V1053.9M1949.0,1047.7h8.4M1949.0,1053.9h8.4" fill="none" stroke="#000" stroke-width="1.5"/>
<g fill="#fff" stroke="#000" stroke-width="1.5"><circle cx="1441.8" cy="893.7" r="5.1"/><circle cx="1448.2" cy="866.6" r="5.1"/><circle cx="1454.5" cy="848.4" r="5.1"/><circle cx="1460.9" cy="838.7" r="5.1"/><circle cx="1467.3" cy="871.3" r="5.1"/><circle cx="1473.7" cy="853.6" r="5.1"/><circle cx="1480.0" cy="839.0" r="5.1"/><circle cx="1486.4" cy="834.9" r="5.1"/><circle cx="1492.8" cy="852.9" r="5.1"/><circle cx="1499.2" cy="867.3" r="5.1"/><circle cx="1505.5" cy="830.7" r="5.1"/><circle cx="1511.9" cy="840.1" r="5.1"/><circle cx="1518.3" cy="841.3" r="5.1"/><circle cx="1524.6" cy="838.3" r="5.1"/><circle cx="1531.0" cy="837.8" r="5.1"/><circle cx="1537.4" cy="831.6" r="5.1"/><circle cx="1543.8" cy="843.0" r="5.1"/><circle cx="1550.1" cy="842.5" r="5.1"/><circle cx="1556.5" cy="848.4" r="5.1"/><circle cx="1562.9" cy="837.8" r="5.1"/><circle cx="1569.2" cy="831.2" r="5.1"/><circle cx="1575.6" cy="836.4" r="5.1"/><circle cx="1582.0" cy="823.6" r="5.1"/><circle cx="1588.4" cy="833.5" r="5.1"/><circle cx="1594.7" cy="832.4" r="5.1"/><circle cx="1601.1" cy="837.1" r="5.1"/><circle cx="1607.5" cy="846.5" r="5.1"/><circle cx="1613.9" cy="830.7" r="5.1"/><circle cx="1620.2" cy="828.8" r="5.1"/><circle cx="1626.6" cy="821.3" r="5.1"/><circle cx="1633.0" cy="817.5" r="5.1"/><circle cx="1639.3" cy="832.8" r="5.1"/><circle cx="1645.7" cy="823.6" r="5.1"/><circle cx="1652.1" cy="813.5" r="5.1"/><circle cx="1658.5" cy="826.9" r="5.1"/><circle cx="1664.8" cy="835.9" r="5.1"/><circle cx="1671.2" cy="813.5" r="5.1"/><circle cx="1677.6" cy="808.8" r="5.1"/><circle cx="1684.0" cy="819.4" r="5.1"/><circle cx="1690.3" cy="801.2" r="5.1"/><circle cx="1697.8" cy="810.4" r="5.1"/><circle cx="1704.2" cy="821.3" r="5.1"/><circle cx="1710.5" cy="812.3" r="5.1"/><circle cx="1716.9" cy="806.4" r="5.1"/><circle cx="1723.3" cy="793.4" r="5.1"/><circle cx="1729.7" cy="804.0" r="5.1"/><circle cx="1736.0" cy="813.5" r="5.1"/><circle cx="1742.4" cy="798.6" r="5.1"/><circle cx="1748.8" cy="794.6" r="5.1"/><circle cx="1755.1" cy="792.2" r="5.1"/><circle cx="1761.5" cy="791.1" r="5.1"/><circle cx="1767.9" cy="796.2" r="5.1"/><circle cx="1774.3" cy="799.8" r="5.1"/><circle cx="1780.6" cy="789.2" r="5.1"/><circle cx="1787.0" cy="794.1" r="5.1"/><circle cx="1793.4" cy="785.6" r="5.1"/><circle cx="1799.7" cy="766.3" r="5.1"/><circle cx="1806.1" cy="782.8" r="5.1"/><circle cx="1812.5" cy="786.8" r="5.1"/><circle cx="1818.9" cy="781.1" r="5.1"/><circle cx="1825.2" cy="798.1" r="5.1"/><circle cx="1831.6" cy="782.3" r="5.1"/><circle cx="1838.0" cy="755.6" r="5.1"/><circle cx="1844.4" cy="769.8" r="5.1"/><circle cx="1850.7" cy="768.6" r="5.1"/><circle cx="1857.1" cy="773.8" r="5.1"/><circle cx="1863.5" cy="770.3" r="5.1"/><circle cx="1869.8" cy="763.9" r="5.1"/><circle cx="1876.2" cy="747.9" r="5.1"/><circle cx="1882.6" cy="750.2" r="5.1"/><circle cx="1889.0" cy="762.7" r="5.1"/><circle cx="1895.3" cy="759.9" r="5.1"/><circle cx="1901.7" cy="749.7" r="5.1"/><circle cx="1908.1" cy="755.6" r="5.1"/><circle cx="1914.5" cy="739.1" r="5.1"/><circle cx="1920.8" cy="733.2" r="5.1"/><circle cx="1927.2" cy="752.8" r="5.1"/><circle cx="1933.6" cy="730.9" r="5.1"/><circle cx="1939.9" cy="743.1" r="5.1"/><circle cx="1946.3" cy="716.2" r="5.1"/><circle cx="1952.7" cy="727.8" r="5.1"/><circle cx="1441.8" cy="1014.5" r="5.1"/><circle cx="1458.8" cy="991.4" r="5.1"/><circle cx="1476.0" cy="1031.1" r="5.1"/><circle cx="1493.0" cy="1049.5" r="5.1"/><circle cx="1510.0" cy="1032.2" r="5.1"/><circle cx="1527.0" cy="1040.5" r="5.1"/><circle cx="1544.2" cy="1033.9" r="5.1"/><circle cx="1561.2" cy="1019.7" r="5.1"/><circle cx="1578.2" cy="1044.5" r="5.1"/><circle cx="1595.2" cy="1042.9" r="5.1"/><circle cx="1612.2" cy="1028.7" r="5.1"/><circle cx="1629.2" cy="1045.9" r="5.1"/><circle cx="1646.4" cy="1056.5" r="5.1"/><circle cx="1663.4" cy="1048.8" r="5.1"/><circle cx="1680.4" cy="1043.3" r="5.1"/><circle cx="1698.3" cy="1051.6" r="5.1"/><circle cx="1714.5" cy="1053.7" r="5.1"/><circle cx="1731.3" cy="1054.2" r="5.1"/><circle cx="1748.8" cy="1051.6" r="5.1"/><circle cx="1765.4" cy="1053.4" r="5.1"/><circle cx="1782.9" cy="1051.6" r="5.1"/><circle cx="1799.7" cy="1052.4" r="5.1"/><circle cx="1816.5" cy="1061.9" r="5.1"/><circle cx="1833.7" cy="1058.8" r="5.1"/><circle cx="1850.8" cy="1056.8" r="5.1"/><circle cx="1867.5" cy="1056.8" r="5.1"/><circle cx="1884.8" cy="1056.0" r="5.1"/><circle cx="1902.1" cy="1058.1" r="5.1"/><circle cx="1919.2" cy="1055.5" r="5.1"/><circle cx="1935.9" cy="1051.6" r="5.1"/><circle cx="1953.2" cy="1050.8" r="5.1"/></g>
</g>
<path d="M1505.7,655.5v6.5M1569.6,655.5v6.5M1633.6,655.5v6.5M1697.5,655.5v6.5M1761.4,655.5v6.5M1825.3,655.5v6.5M1889.3,655.5v6.5M1527.0,1104.5v-6.5M1612.2,1104.5v-6.5M1697.5,1104.5v-6.5M1782.7,1104.5v-6.5M1867.9,1104.5v-6.5M1441.8,1077.6h6.5M1953.2,1077.6h-6.5M1441.8,1011.7h6.5M1953.2,1011.7h-6.5M1441.8,945.8h6.5M1953.2,945.8h-6.5M1441.8,879.9h6.5M1953.2,879.9h-6.5M1441.8,814.0h6.5M1953.2,814.0h-6.5M1441.8,748.1h6.5M1953.2,748.1h-6.5M1441.8,682.2h6.5M1953.2,682.2h-6.5" stroke="#000" stroke-width="2.8" fill="none"/>
<text transform="translate(1441.8,642.0) scale(1,1.05)" text-anchor="middle" font-size="24.5" fill="#000" stroke="#000" stroke-width="0.25" >5</text>
<text transform="translate(1505.7,642.0) scale(1,1.05)" text-anchor="middle" font-size="24.5" fill="#000" stroke="#000" stroke-width="0.25" >10</text>
<text transform="translate(1569.6,642.0) scale(1,1.05)" text-anchor="middle" font-size="24.5" fill="#000" stroke="#000" stroke-width="0.25" >15</text>
<text transform="translate(1633.6,642.0) scale(1,1.05)" text-anchor="middle" font-size="24.5" fill="#000" stroke="#000" stroke-width="0.25" >20</text>
<text transform="translate(1697.5,642.0) scale(1,1.05)" text-anchor="middle" font-size="24.5" fill="#000" stroke="#000" stroke-width="0.25" >25</text>
<text transform="translate(1761.4,642.0) scale(1,1.05)" text-anchor="middle" font-size="24.5" fill="#000" stroke="#000" stroke-width="0.25" >30</text>
<text transform="translate(1825.3,642.0) scale(1,1.05)" text-anchor="middle" font-size="24.5" fill="#000" stroke="#000" stroke-width="0.25" >35</text>
<text transform="translate(1889.3,642.0) scale(1,1.05)" text-anchor="middle" font-size="24.5" fill="#000" stroke="#000" stroke-width="0.25" >40</text>
<text transform="translate(1953.2,642.0) scale(1,1.05)" text-anchor="middle" font-size="24.5" fill="#000" stroke="#000" stroke-width="0.25" >45</text>
<text transform="translate(1441.8,1137.1) scale(1,1.05)" text-anchor="middle" font-size="24.5" fill="#000" stroke="#000" stroke-width="0.25" >50</text>
<text transform="translate(1527.0,1137.1) scale(1,1.05)" text-anchor="middle" font-size="24.5" fill="#000" stroke="#000" stroke-width="0.25" >52.5</text>
<text transform="translate(1612.2,1137.1) scale(1,1.05)" text-anchor="middle" font-size="24.5" fill="#000" stroke="#000" stroke-width="0.25" >55</text>
<text transform="translate(1697.5,1137.1) scale(1,1.05)" text-anchor="middle" font-size="24.5" fill="#000" stroke="#000" stroke-width="0.25" >57.5</text>
<text transform="translate(1782.7,1137.1) scale(1,1.05)" text-anchor="middle" font-size="24.5" fill="#000" stroke="#000" stroke-width="0.25" >60</text>
<text transform="translate(1867.9,1137.1) scale(1,1.05)" text-anchor="middle" font-size="24.5" fill="#000" stroke="#000" stroke-width="0.25" >62.5</text>
<text transform="translate(1953.2,1137.1) scale(1,1.05)" text-anchor="middle" font-size="24.5" fill="#000" stroke="#000" stroke-width="0.25" >65</text>
<text transform="translate(1424.6,1086.8) scale(1,1.05)" text-anchor="end" font-size="24.5" fill="#000" stroke="#000" stroke-width="0.25" >1</text>
<text transform="translate(1424.6,1020.9) scale(1,1.05)" text-anchor="end" font-size="24.5" fill="#000" stroke="#000" stroke-width="0.25" >1.5</text>
<text transform="translate(1424.6,955.0) scale(1,1.05)" text-anchor="end" font-size="24.5" fill="#000" stroke="#000" stroke-width="0.25" >2</text>
<text transform="translate(1424.6,889.1) scale(1,1.05)" text-anchor="end" font-size="24.5" fill="#000" stroke="#000" stroke-width="0.25" >2.5</text>
<text transform="translate(1424.6,823.2) scale(1,1.05)" text-anchor="end" font-size="24.5" fill="#000" stroke="#000" stroke-width="0.25" >3</text>
<text transform="translate(1424.6,757.3) scale(1,1.05)" text-anchor="end" font-size="24.5" fill="#000" stroke="#000" stroke-width="0.25" >3.5</text>
<text transform="translate(1424.6,691.4) scale(1,1.05)" text-anchor="end" font-size="24.5" fill="#000" stroke="#000" stroke-width="0.25" >4</text>
<text transform="translate(1520.4,729.2) scale(1,1.05)" text-anchor="start" font-size="24.5" fill="#1d7fc4" stroke="#1d7fc4" stroke-width="0.25" >Assembly</text>
<text transform="translate(1726.0,1007.7) scale(1,1.05)" text-anchor="start" font-size="24.5" fill="#b5334c" stroke="#b5334c" stroke-width="0.25" >Disassembly</text>
<text transform="translate(1697.0,1171.6) scale(1,1.05)" text-anchor="middle" font-size="24.5" fill="#000" stroke="#000" stroke-width="0.25" letter-spacing="0.25">Temperature °C</text>
<text transform="translate(1366.0,880.0) rotate(-90) scale(1,1.05)" text-anchor="middle" font-size="24.5" stroke="#000" stroke-width="0.25">Effective order</text>
</g>
</svg>
</body></html>
